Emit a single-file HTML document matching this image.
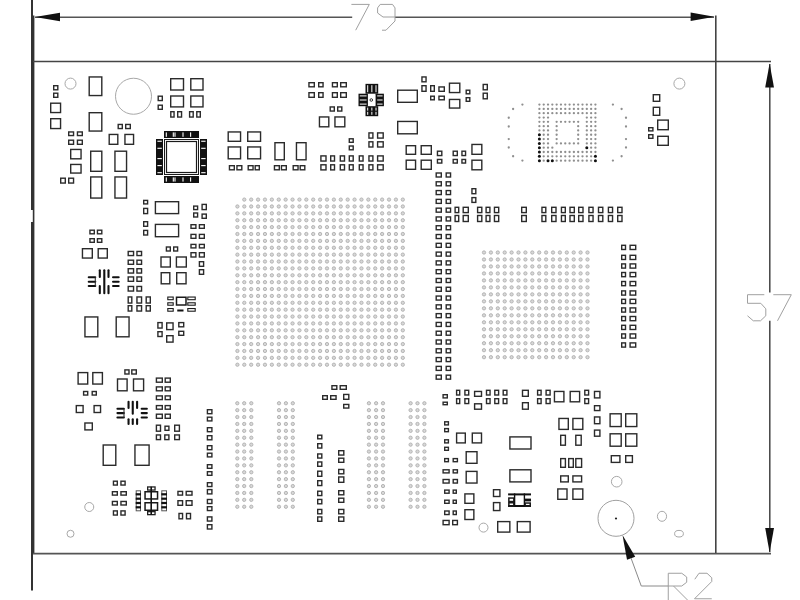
<!DOCTYPE html>
<html><head><meta charset="utf-8"><style>
html,body{margin:0;padding:0;background:#fff;width:800px;height:600px;overflow:hidden;}
svg{display:block;}
</style></head><body><div id="wrap">
<svg width="800" height="600" viewBox="0 0 800 600">
<rect x="0" y="0" width="800" height="600" fill="#fff"/>
<line x1="32" y1="0" x2="32" y2="210" stroke="#333" stroke-width="2" stroke-linecap="butt"/>
<line x1="32" y1="222" x2="32" y2="590.5" stroke="#333" stroke-width="2" stroke-linecap="butt"/>
<line x1="33.6" y1="15.5" x2="33.6" y2="553" stroke="#333" stroke-width="1.6" stroke-linecap="butt"/>
<line x1="33" y1="61.5" x2="771" y2="61.5" stroke="#444" stroke-width="1.6" stroke-linecap="butt"/>
<line x1="33" y1="553.6" x2="771" y2="553.6" stroke="#555" stroke-width="1.8" stroke-linecap="butt"/>
<line x1="715.8" y1="15.5" x2="715.8" y2="553" stroke="#444" stroke-width="1.6" stroke-linecap="butt"/>
<line x1="35" y1="17.2" x2="352.2" y2="17.2" stroke="#555" stroke-width="1.5" stroke-linecap="butt"/>
<line x1="395" y1="17.2" x2="714" y2="17.2" stroke="#555" stroke-width="1.5" stroke-linecap="butt"/>
<polygon points="35,17 60,12.8 60,21.2" fill="#111"/>
<polygon points="714.5,16.8 690.6,12.6 690.6,21" fill="#111"/>
<line x1="769.8" y1="64" x2="769.8" y2="292.5" stroke="#444" stroke-width="1.5" stroke-linecap="butt"/>
<line x1="769.8" y1="320.8" x2="769.8" y2="552" stroke="#444" stroke-width="1.5" stroke-linecap="butt"/>
<polygon points="769.6,63.5 765.2,87.5 774,87.5" fill="#111"/>
<polygon points="769.6,552.5 765.2,528 774,528" fill="#111"/>
<path d="M351.4,4.4 L369.3,4.4 L355.7,30.2" fill="none" stroke="#a0a0a0" stroke-width="1" stroke-linejoin="round"/>
<path d="M380.2,4.4 L392.5,4.4 L395,7.9 L395,21 L386,30.2 L382,30.2 M395,17 L383,17 L377.6,13 L377.6,7.9 L380.2,4.4" fill="none" stroke="#a0a0a0" stroke-width="1" stroke-linejoin="round"/>
<path d="M764.3,294.7 L747.5,294.7 L747.5,303.3 L760.8,303.3 L765.8,308.8 L765.8,315.8 L760.5,320.8 L753.3,320.8 L747.5,315.8" fill="none" stroke="#a0a0a0" stroke-width="1" stroke-linejoin="round"/>
<path d="M773.3,294.7 L791.3,294.7 L777.5,320.8" fill="none" stroke="#a0a0a0" stroke-width="1" stroke-linejoin="round"/>
<path d="M668.25,601 L668.25,573.25 L681.75,573.25 L686.7,577 L686.7,582.25 L681.75,586 L668.25,586 M673.5,586 L687.5,600" fill="none" stroke="#a0a0a0" stroke-width="1" stroke-linejoin="round"/>
<path d="M694.8,579.25 L699,573.25 L707,573.25 L711.75,577.75 L711.75,581.5 L694.5,598.75 L711.75,598.75" fill="none" stroke="#a0a0a0" stroke-width="1" stroke-linejoin="round"/>
<polygon points="622.5,535 627,559.7 635.2,556.75" fill="#111"/>
<path d="M631,558 L641.25,586 L668.25,586" fill="none" stroke="#8a8a8a" stroke-width="1" stroke-linejoin="round"/>
<circle cx="70.5" cy="83.6" r="5.5" fill="none" stroke="#a8a8a8" stroke-width="1"/>
<circle cx="133.5" cy="96.25" r="18" fill="none" stroke="#a8a8a8" stroke-width="1"/>
<circle cx="679.4" cy="83.6" r="5.5" fill="none" stroke="#a8a8a8" stroke-width="1"/>
<circle cx="616" cy="518.3" r="18" fill="none" stroke="#a0a0a0" stroke-width="1"/>
<circle cx="616" cy="518.5" r="1.1" fill="#222" stroke="none" stroke-width="0"/>
<circle cx="616.7" cy="481.7" r="5.3" fill="none" stroke="#a8a8a8" stroke-width="1"/>
<ellipse cx="662" cy="516.3" rx="4.6" ry="5" fill="none" stroke="#a8a8a8" stroke-width="1"/>
<ellipse cx="679" cy="533.7" rx="4.4" ry="3.3" fill="none" stroke="#a8a8a8" stroke-width="1"/>
<circle cx="89.25" cy="507" r="4.5" fill="none" stroke="#a8a8a8" stroke-width="1"/>
<circle cx="70.5" cy="533.75" r="3.5" fill="none" stroke="#a8a8a8" stroke-width="1"/>
<circle cx="483.5" cy="527.6" r="4.5" fill="none" stroke="#a8a8a8" stroke-width="1"/>
<rect x="53.7" y="85.7" width="4.1" height="4.1" fill="none" stroke="#2b2b2b" stroke-width="1.4"/>
<rect x="53.7" y="93.2" width="4.1" height="4.1" fill="none" stroke="#2b2b2b" stroke-width="1.4"/>
<rect x="50.7" y="103.2" width="9.85" height="9.35" fill="none" stroke="#2b2b2b" stroke-width="1.4"/>
<rect x="50.7" y="118.7" width="9.85" height="9.85" fill="none" stroke="#2b2b2b" stroke-width="1.4"/>
<rect x="89.2" y="76.95" width="12.6" height="18.6" fill="none" stroke="#2b2b2b" stroke-width="1.4"/>
<rect x="89.2" y="112.7" width="12.6" height="18.35" fill="none" stroke="#2b2b2b" stroke-width="1.4"/>
<rect x="158.2" y="96.2" width="4.1" height="4.35" fill="none" stroke="#2b2b2b" stroke-width="1.4"/>
<rect x="158.2" y="105.2" width="4.1" height="4.1" fill="none" stroke="#2b2b2b" stroke-width="1.4"/>
<rect x="170.7" y="78.7" width="12.8" height="11.3" fill="none" stroke="#2b2b2b" stroke-width="1.4"/>
<rect x="170.7" y="96" width="12.8" height="10.9" fill="none" stroke="#2b2b2b" stroke-width="1.4"/>
<rect x="190.8" y="78.7" width="12.2" height="11.3" fill="none" stroke="#2b2b2b" stroke-width="1.4"/>
<rect x="190.8" y="96" width="12.2" height="10.9" fill="none" stroke="#2b2b2b" stroke-width="1.4"/>
<rect x="170.8" y="111.7" width="3.25" height="5.35" fill="none" stroke="#2b2b2b" stroke-width="1.4"/>
<rect x="177.7" y="111.7" width="3.85" height="5.35" fill="none" stroke="#2b2b2b" stroke-width="1.4"/>
<rect x="189.6" y="111.7" width="3.6" height="5.35" fill="none" stroke="#2b2b2b" stroke-width="1.4"/>
<rect x="196.8" y="111.7" width="3.5" height="5.35" fill="none" stroke="#2b2b2b" stroke-width="1.4"/>
<rect x="118.2" y="124.45" width="4.1" height="4.1" fill="none" stroke="#2b2b2b" stroke-width="1.4"/>
<rect x="125.7" y="124.45" width="4.6" height="4.1" fill="none" stroke="#2b2b2b" stroke-width="1.4"/>
<rect x="109.2" y="134.45" width="8.6" height="9.85" fill="none" stroke="#2b2b2b" stroke-width="1.4"/>
<rect x="124.95" y="134.45" width="8.6" height="9.85" fill="none" stroke="#2b2b2b" stroke-width="1.4"/>
<rect x="68.7" y="131.95" width="4.85" height="3.6" fill="none" stroke="#2b2b2b" stroke-width="1.4"/>
<rect x="68.7" y="140.2" width="4.85" height="4.1" fill="none" stroke="#2b2b2b" stroke-width="1.4"/>
<rect x="77.45" y="131.95" width="4.85" height="3.6" fill="none" stroke="#2b2b2b" stroke-width="1.4"/>
<rect x="77.45" y="140.2" width="4.85" height="4.1" fill="none" stroke="#2b2b2b" stroke-width="1.4"/>
<rect x="70.7" y="149.45" width="10.35" height="9.35" fill="none" stroke="#2b2b2b" stroke-width="1.4"/>
<rect x="70.7" y="164.45" width="10.35" height="8.6" fill="none" stroke="#2b2b2b" stroke-width="1.4"/>
<rect x="60.7" y="178.2" width="4.6" height="4.85" fill="none" stroke="#2b2b2b" stroke-width="1.4"/>
<rect x="68.7" y="178.2" width="4.85" height="4.85" fill="none" stroke="#2b2b2b" stroke-width="1.4"/>
<rect x="90.7" y="151.2" width="11.1" height="20.1" fill="none" stroke="#2b2b2b" stroke-width="1.4"/>
<rect x="90.7" y="176.95" width="11.1" height="21.1" fill="none" stroke="#2b2b2b" stroke-width="1.4"/>
<rect x="114.95" y="151.2" width="11.6" height="20.1" fill="none" stroke="#2b2b2b" stroke-width="1.4"/>
<rect x="114.95" y="176.95" width="11.6" height="21.1" fill="none" stroke="#2b2b2b" stroke-width="1.4"/>
<rect x="164" y="131" width="35" height="7" fill="#111"/>
<rect x="164" y="176" width="35" height="7" fill="#111"/>
<rect x="156" y="139" width="7" height="36" fill="#111"/>
<rect x="200" y="139" width="7" height="36" fill="#111"/>
<rect x="165.75" y="132.4" width="1.1" height="4.4" fill="#fff"/>
<rect x="165.75" y="177.4" width="1.1" height="4.2" fill="#fff"/>
<rect x="172.75" y="132.4" width="1.1" height="4.4" fill="#fff"/>
<rect x="172.75" y="177.4" width="1.1" height="4.2" fill="#fff"/>
<rect x="174.45" y="132.4" width="1.1" height="4.4" fill="#fff"/>
<rect x="174.45" y="177.4" width="1.1" height="4.2" fill="#fff"/>
<rect x="182.45" y="132.4" width="1.1" height="4.4" fill="#fff"/>
<rect x="182.45" y="177.4" width="1.1" height="4.2" fill="#fff"/>
<rect x="190.05" y="132.4" width="1.1" height="4.4" fill="#fff"/>
<rect x="190.05" y="177.4" width="1.1" height="4.2" fill="#fff"/>
<rect x="157.4" y="140.7" width="4.4" height="1.1" fill="#fff"/>
<rect x="201.2" y="140.7" width="4.4" height="1.1" fill="#fff"/>
<rect x="157.4" y="147.75" width="4.4" height="1.1" fill="#fff"/>
<rect x="201.2" y="147.75" width="4.4" height="1.1" fill="#fff"/>
<rect x="157.4" y="158.05" width="4.4" height="1.1" fill="#fff"/>
<rect x="201.2" y="158.05" width="4.4" height="1.1" fill="#fff"/>
<rect x="157.4" y="165.05" width="4.4" height="1.1" fill="#fff"/>
<rect x="201.2" y="165.05" width="4.4" height="1.1" fill="#fff"/>
<rect x="157.4" y="172.15" width="4.4" height="1.1" fill="#fff"/>
<rect x="201.2" y="172.15" width="4.4" height="1.1" fill="#fff"/>
<rect x="164.5" y="139.5" width="34" height="35" fill="none" stroke="#1a1a1a" stroke-width="1"/>
<rect x="166.5" y="141.5" width="30" height="31" fill="none" stroke="#1a1a1a" stroke-width="1.2"/>
<rect x="228.2" y="131.95" width="12.35" height="9.35" fill="none" stroke="#2b2b2b" stroke-width="1.4"/>
<rect x="228.2" y="146.95" width="12.35" height="11.85" fill="none" stroke="#2b2b2b" stroke-width="1.4"/>
<rect x="247.7" y="131.95" width="12.85" height="9.35" fill="none" stroke="#2b2b2b" stroke-width="1.4"/>
<rect x="247.7" y="146.95" width="12.85" height="11.85" fill="none" stroke="#2b2b2b" stroke-width="1.4"/>
<rect x="229.45" y="165.7" width="4.85" height="4.1" fill="none" stroke="#2b2b2b" stroke-width="1.4"/>
<rect x="236.95" y="165.7" width="4.85" height="4.1" fill="none" stroke="#2b2b2b" stroke-width="1.4"/>
<rect x="248.2" y="165.7" width="4.85" height="4.1" fill="none" stroke="#2b2b2b" stroke-width="1.4"/>
<rect x="255.2" y="165.7" width="4.1" height="4.1" fill="none" stroke="#2b2b2b" stroke-width="1.4"/>
<rect x="274.95" y="142.7" width="9.35" height="17.1" fill="none" stroke="#2b2b2b" stroke-width="1.4"/>
<rect x="296.45" y="142.7" width="9.6" height="17.1" fill="none" stroke="#2b2b2b" stroke-width="1.4"/>
<rect x="274.45" y="165.7" width="4.85" height="4.1" fill="none" stroke="#2b2b2b" stroke-width="1.4"/>
<rect x="281.45" y="165.7" width="4.85" height="4.1" fill="none" stroke="#2b2b2b" stroke-width="1.4"/>
<rect x="293.2" y="165.7" width="4.85" height="4.1" fill="none" stroke="#2b2b2b" stroke-width="1.4"/>
<rect x="300.2" y="165.7" width="4.6" height="4.1" fill="none" stroke="#2b2b2b" stroke-width="1.4"/>
<rect x="308.95" y="82.7" width="5.35" height="4.1" fill="none" stroke="#2b2b2b" stroke-width="1.4"/>
<rect x="308.95" y="92.7" width="5.35" height="4.6" fill="none" stroke="#2b2b2b" stroke-width="1.4"/>
<rect x="318.7" y="82.7" width="4.35" height="4.1" fill="none" stroke="#2b2b2b" stroke-width="1.4"/>
<rect x="318.7" y="92.7" width="4.35" height="4.6" fill="none" stroke="#2b2b2b" stroke-width="1.4"/>
<rect x="332.45" y="82.7" width="4.85" height="4.1" fill="none" stroke="#2b2b2b" stroke-width="1.4"/>
<rect x="332.45" y="92.7" width="4.85" height="4.6" fill="none" stroke="#2b2b2b" stroke-width="1.4"/>
<rect x="340.7" y="82.7" width="5.6" height="4.1" fill="none" stroke="#2b2b2b" stroke-width="1.4"/>
<rect x="340.7" y="92.7" width="5.6" height="4.6" fill="none" stroke="#2b2b2b" stroke-width="1.4"/>
<rect x="330.2" y="106.95" width="4.1" height="4.1" fill="none" stroke="#2b2b2b" stroke-width="1.4"/>
<rect x="337.7" y="106.95" width="4.1" height="4.1" fill="none" stroke="#2b2b2b" stroke-width="1.4"/>
<rect x="319.45" y="116.95" width="9.35" height="9.85" fill="none" stroke="#2b2b2b" stroke-width="1.4"/>
<rect x="334.95" y="116.95" width="9.85" height="9.85" fill="none" stroke="#2b2b2b" stroke-width="1.4"/>
<rect x="320.9" y="155.9" width="5.1" height="5.15" fill="none" stroke="#2b2b2b" stroke-width="1.4"/>
<rect x="320.9" y="164.8" width="5.1" height="5.1" fill="none" stroke="#2b2b2b" stroke-width="1.4"/>
<rect x="330.7" y="155.9" width="3.8" height="5.15" fill="none" stroke="#2b2b2b" stroke-width="1.4"/>
<rect x="330.7" y="164.8" width="3.8" height="5.1" fill="none" stroke="#2b2b2b" stroke-width="1.4"/>
<rect x="340.3" y="155.9" width="4.2" height="5.15" fill="none" stroke="#2b2b2b" stroke-width="1.4"/>
<rect x="340.3" y="164.8" width="4.2" height="5.1" fill="none" stroke="#2b2b2b" stroke-width="1.4"/>
<rect x="349.3" y="155.9" width="3.9" height="5.15" fill="none" stroke="#2b2b2b" stroke-width="1.4"/>
<rect x="349.3" y="164.8" width="3.9" height="5.1" fill="none" stroke="#2b2b2b" stroke-width="1.4"/>
<rect x="359.3" y="155.9" width="3.75" height="5.15" fill="none" stroke="#2b2b2b" stroke-width="1.4"/>
<rect x="359.3" y="164.8" width="3.75" height="5.1" fill="none" stroke="#2b2b2b" stroke-width="1.4"/>
<rect x="368.95" y="155.9" width="3.95" height="5.15" fill="none" stroke="#2b2b2b" stroke-width="1.4"/>
<rect x="368.95" y="164.8" width="3.95" height="5.1" fill="none" stroke="#2b2b2b" stroke-width="1.4"/>
<rect x="377.6" y="155.9" width="5.6" height="5.15" fill="none" stroke="#2b2b2b" stroke-width="1.4"/>
<rect x="377.6" y="164.8" width="5.6" height="5.1" fill="none" stroke="#2b2b2b" stroke-width="1.4"/>
<rect x="349.3" y="138.8" width="3.9" height="3.5" fill="none" stroke="#2b2b2b" stroke-width="1.4"/>
<rect x="349.3" y="146" width="3.9" height="3.8" fill="none" stroke="#2b2b2b" stroke-width="1.4"/>
<rect x="368.95" y="132.9" width="3.95" height="5.2" fill="none" stroke="#2b2b2b" stroke-width="1.4"/>
<rect x="368.95" y="141.8" width="3.95" height="5.2" fill="none" stroke="#2b2b2b" stroke-width="1.4"/>
<rect x="377.6" y="132.9" width="5.6" height="5.2" fill="none" stroke="#2b2b2b" stroke-width="1.4"/>
<rect x="377.6" y="141.8" width="5.6" height="5.2" fill="none" stroke="#2b2b2b" stroke-width="1.4"/>
<rect x="365.5" y="83.85" width="12.7" height="9.85" fill="#111"/>
<rect x="365.5" y="106.2" width="12.7" height="10" fill="#111"/>
<rect x="358.5" y="93.7" width="9.4" height="12.5" fill="#111"/>
<rect x="375.5" y="93.7" width="8.4" height="12.5" fill="#111"/>
<rect x="367.2" y="85.2" width="1" height="7" fill="#fff"/>
<rect x="367.2" y="107.6" width="1" height="3" fill="#fff"/>
<rect x="367.2" y="111.8" width="1" height="3" fill="#fff"/>
<rect x="371.35" y="85.2" width="1" height="7" fill="#fff"/>
<rect x="371.35" y="107.6" width="1" height="3" fill="#fff"/>
<rect x="371.35" y="111.8" width="1" height="3" fill="#fff"/>
<rect x="375.5" y="85.2" width="1" height="7" fill="#fff"/>
<rect x="375.5" y="107.6" width="1" height="3" fill="#fff"/>
<rect x="375.5" y="111.8" width="1" height="3" fill="#fff"/>
<rect x="359.8" y="95.4" width="6.8" height="1" fill="#fff"/>
<rect x="377.2" y="95.4" width="5.4" height="1" fill="#fff"/>
<rect x="359.8" y="99.5" width="6.8" height="1" fill="#fff"/>
<rect x="377.2" y="99.5" width="5.4" height="1" fill="#fff"/>
<rect x="359.8" y="103.6" width="6.8" height="1" fill="#fff"/>
<rect x="377.2" y="103.6" width="5.4" height="1" fill="#fff"/>
<rect x="368.2" y="94.8" width="7" height="10.4" fill="#fff"/>
<circle cx="371.3" cy="100" r="1.3" fill="none" stroke="#222" stroke-width="0.9"/>
<rect x="397.7" y="90.2" width="19.6" height="12.1" fill="none" stroke="#2b2b2b" stroke-width="1.4"/>
<rect x="397.7" y="121.45" width="19.6" height="12.35" fill="none" stroke="#2b2b2b" stroke-width="1.4"/>
<rect x="421.95" y="76.95" width="4.1" height="4.85" fill="none" stroke="#2b2b2b" stroke-width="1.4"/>
<rect x="421.95" y="85.7" width="4.1" height="5.6" fill="none" stroke="#2b2b2b" stroke-width="1.4"/>
<rect x="430.7" y="85.7" width="3.6" height="5.6" fill="none" stroke="#2b2b2b" stroke-width="1.4"/>
<rect x="430.7" y="96.2" width="3.6" height="3.6" fill="none" stroke="#2b2b2b" stroke-width="1.4"/>
<rect x="438.95" y="86.95" width="5.35" height="4.35" fill="none" stroke="#2b2b2b" stroke-width="1.4"/>
<rect x="438.95" y="96.2" width="5.35" height="3.6" fill="none" stroke="#2b2b2b" stroke-width="1.4"/>
<rect x="449.45" y="83.2" width="10.35" height="9.35" fill="none" stroke="#2b2b2b" stroke-width="1.4"/>
<rect x="449.45" y="99.45" width="10.35" height="8.6" fill="none" stroke="#2b2b2b" stroke-width="1.4"/>
<rect x="466.2" y="90.2" width="3.6" height="3.6" fill="none" stroke="#2b2b2b" stroke-width="1.4"/>
<rect x="466.2" y="97.7" width="3.6" height="3.6" fill="none" stroke="#2b2b2b" stroke-width="1.4"/>
<rect x="483.2" y="84.45" width="4.1" height="5.35" fill="none" stroke="#2b2b2b" stroke-width="1.4"/>
<rect x="483.2" y="93.2" width="4.1" height="5.6" fill="none" stroke="#2b2b2b" stroke-width="1.4"/>
<rect x="406.2" y="145.7" width="9.35" height="8.6" fill="none" stroke="#2b2b2b" stroke-width="1.4"/>
<rect x="406.2" y="160.2" width="9.35" height="9.1" fill="none" stroke="#2b2b2b" stroke-width="1.4"/>
<rect x="421.2" y="145.7" width="10.1" height="8.6" fill="none" stroke="#2b2b2b" stroke-width="1.4"/>
<rect x="421.2" y="160.2" width="10.1" height="9.1" fill="none" stroke="#2b2b2b" stroke-width="1.4"/>
<rect x="437.45" y="151.2" width="4.35" height="4.35" fill="none" stroke="#2b2b2b" stroke-width="1.4"/>
<rect x="437.45" y="159.45" width="4.35" height="3.6" fill="none" stroke="#2b2b2b" stroke-width="1.4"/>
<rect x="453.2" y="151.2" width="4.1" height="4.35" fill="none" stroke="#2b2b2b" stroke-width="1.4"/>
<rect x="453.2" y="159.45" width="4.1" height="3.6" fill="none" stroke="#2b2b2b" stroke-width="1.4"/>
<rect x="461.95" y="151.2" width="3.6" height="4.35" fill="none" stroke="#2b2b2b" stroke-width="1.4"/>
<rect x="461.95" y="159.45" width="3.6" height="3.6" fill="none" stroke="#2b2b2b" stroke-width="1.4"/>
<rect x="471.95" y="144.45" width="9.85" height="9.85" fill="none" stroke="#2b2b2b" stroke-width="1.4"/>
<rect x="471.95" y="160.2" width="9.85" height="9.6" fill="none" stroke="#2b2b2b" stroke-width="1.4"/>
<rect x="436.2" y="173" width="5.1" height="4" fill="none" stroke="#2b2b2b" stroke-width="1.4"/>
<rect x="446.2" y="173" width="4.35" height="4" fill="none" stroke="#2b2b2b" stroke-width="1.4"/>
<rect x="436.2" y="181.79" width="5.1" height="4" fill="none" stroke="#2b2b2b" stroke-width="1.4"/>
<rect x="446.2" y="181.79" width="4.35" height="4" fill="none" stroke="#2b2b2b" stroke-width="1.4"/>
<rect x="436.2" y="190.58" width="5.1" height="4" fill="none" stroke="#2b2b2b" stroke-width="1.4"/>
<rect x="446.2" y="190.58" width="4.35" height="4" fill="none" stroke="#2b2b2b" stroke-width="1.4"/>
<rect x="436.2" y="199.37" width="5.1" height="4" fill="none" stroke="#2b2b2b" stroke-width="1.4"/>
<rect x="446.2" y="199.37" width="4.35" height="4" fill="none" stroke="#2b2b2b" stroke-width="1.4"/>
<rect x="436.2" y="208.16" width="5.1" height="4" fill="none" stroke="#2b2b2b" stroke-width="1.4"/>
<rect x="446.2" y="208.16" width="4.35" height="4" fill="none" stroke="#2b2b2b" stroke-width="1.4"/>
<rect x="436.2" y="216.95" width="5.1" height="4" fill="none" stroke="#2b2b2b" stroke-width="1.4"/>
<rect x="446.2" y="216.95" width="4.35" height="4" fill="none" stroke="#2b2b2b" stroke-width="1.4"/>
<rect x="436.2" y="225.74" width="5.1" height="4" fill="none" stroke="#2b2b2b" stroke-width="1.4"/>
<rect x="446.2" y="225.74" width="4.35" height="4" fill="none" stroke="#2b2b2b" stroke-width="1.4"/>
<rect x="436.2" y="234.53" width="5.1" height="4" fill="none" stroke="#2b2b2b" stroke-width="1.4"/>
<rect x="446.2" y="234.53" width="4.35" height="4" fill="none" stroke="#2b2b2b" stroke-width="1.4"/>
<rect x="436.2" y="243.32" width="5.1" height="4" fill="none" stroke="#2b2b2b" stroke-width="1.4"/>
<rect x="446.2" y="243.32" width="4.35" height="4" fill="none" stroke="#2b2b2b" stroke-width="1.4"/>
<rect x="436.2" y="252.11" width="5.1" height="4" fill="none" stroke="#2b2b2b" stroke-width="1.4"/>
<rect x="446.2" y="252.11" width="4.35" height="4" fill="none" stroke="#2b2b2b" stroke-width="1.4"/>
<rect x="436.2" y="260.9" width="5.1" height="4" fill="none" stroke="#2b2b2b" stroke-width="1.4"/>
<rect x="446.2" y="260.9" width="4.35" height="4" fill="none" stroke="#2b2b2b" stroke-width="1.4"/>
<rect x="436.2" y="269.69" width="5.1" height="4" fill="none" stroke="#2b2b2b" stroke-width="1.4"/>
<rect x="446.2" y="269.69" width="4.35" height="4" fill="none" stroke="#2b2b2b" stroke-width="1.4"/>
<rect x="436.2" y="278.48" width="5.1" height="4" fill="none" stroke="#2b2b2b" stroke-width="1.4"/>
<rect x="446.2" y="278.48" width="4.35" height="4" fill="none" stroke="#2b2b2b" stroke-width="1.4"/>
<rect x="436.2" y="287.27" width="5.1" height="4" fill="none" stroke="#2b2b2b" stroke-width="1.4"/>
<rect x="446.2" y="287.27" width="4.35" height="4" fill="none" stroke="#2b2b2b" stroke-width="1.4"/>
<rect x="436.2" y="296.06" width="5.1" height="4" fill="none" stroke="#2b2b2b" stroke-width="1.4"/>
<rect x="446.2" y="296.06" width="4.35" height="4" fill="none" stroke="#2b2b2b" stroke-width="1.4"/>
<rect x="436.2" y="304.85" width="5.1" height="4" fill="none" stroke="#2b2b2b" stroke-width="1.4"/>
<rect x="446.2" y="304.85" width="4.35" height="4" fill="none" stroke="#2b2b2b" stroke-width="1.4"/>
<rect x="436.2" y="313.64" width="5.1" height="4" fill="none" stroke="#2b2b2b" stroke-width="1.4"/>
<rect x="446.2" y="313.64" width="4.35" height="4" fill="none" stroke="#2b2b2b" stroke-width="1.4"/>
<rect x="436.2" y="322.43" width="5.1" height="4" fill="none" stroke="#2b2b2b" stroke-width="1.4"/>
<rect x="446.2" y="322.43" width="4.35" height="4" fill="none" stroke="#2b2b2b" stroke-width="1.4"/>
<rect x="436.2" y="331.22" width="5.1" height="4" fill="none" stroke="#2b2b2b" stroke-width="1.4"/>
<rect x="446.2" y="331.22" width="4.35" height="4" fill="none" stroke="#2b2b2b" stroke-width="1.4"/>
<rect x="436.2" y="340.01" width="5.1" height="4" fill="none" stroke="#2b2b2b" stroke-width="1.4"/>
<rect x="446.2" y="340.01" width="4.35" height="4" fill="none" stroke="#2b2b2b" stroke-width="1.4"/>
<rect x="436.2" y="348.8" width="5.1" height="4" fill="none" stroke="#2b2b2b" stroke-width="1.4"/>
<rect x="446.2" y="348.8" width="4.35" height="4" fill="none" stroke="#2b2b2b" stroke-width="1.4"/>
<rect x="436.2" y="357.59" width="5.1" height="4" fill="none" stroke="#2b2b2b" stroke-width="1.4"/>
<rect x="446.2" y="357.59" width="4.35" height="4" fill="none" stroke="#2b2b2b" stroke-width="1.4"/>
<rect x="436.2" y="366.38" width="5.1" height="4" fill="none" stroke="#2b2b2b" stroke-width="1.4"/>
<rect x="446.2" y="366.38" width="4.35" height="4" fill="none" stroke="#2b2b2b" stroke-width="1.4"/>
<rect x="436.2" y="375.17" width="5.1" height="4" fill="none" stroke="#2b2b2b" stroke-width="1.4"/>
<rect x="446.2" y="375.17" width="4.35" height="4" fill="none" stroke="#2b2b2b" stroke-width="1.4"/>
<rect x="471.95" y="188.7" width="3.85" height="5" fill="none" stroke="#2b2b2b" stroke-width="1.4"/>
<rect x="471.95" y="197.6" width="3.85" height="4.8" fill="none" stroke="#2b2b2b" stroke-width="1.4"/>
<rect x="455.1" y="207.3" width="3.6" height="5.3" fill="none" stroke="#2b2b2b" stroke-width="1.4"/>
<rect x="455.1" y="215.5" width="3.6" height="6" fill="none" stroke="#2b2b2b" stroke-width="1.4"/>
<rect x="463.2" y="207.3" width="5.1" height="5.3" fill="none" stroke="#2b2b2b" stroke-width="1.4"/>
<rect x="463.2" y="215.5" width="5.1" height="6" fill="none" stroke="#2b2b2b" stroke-width="1.4"/>
<rect x="477.6" y="207.3" width="4.2" height="5.3" fill="none" stroke="#2b2b2b" stroke-width="1.4"/>
<rect x="477.6" y="215.5" width="4.2" height="6" fill="none" stroke="#2b2b2b" stroke-width="1.4"/>
<rect x="486.1" y="207.3" width="3.8" height="5.3" fill="none" stroke="#2b2b2b" stroke-width="1.4"/>
<rect x="486.1" y="215.5" width="3.8" height="6" fill="none" stroke="#2b2b2b" stroke-width="1.4"/>
<rect x="494.45" y="207.3" width="4.25" height="5.3" fill="none" stroke="#2b2b2b" stroke-width="1.4"/>
<rect x="494.45" y="215.5" width="4.25" height="6" fill="none" stroke="#2b2b2b" stroke-width="1.4"/>
<rect x="521.7" y="207.3" width="4.6" height="5.3" fill="none" stroke="#2b2b2b" stroke-width="1.4"/>
<rect x="521.7" y="215.5" width="4.6" height="6" fill="none" stroke="#2b2b2b" stroke-width="1.4"/>
<rect x="541.95" y="207.3" width="3.85" height="5.3" fill="none" stroke="#2b2b2b" stroke-width="1.4"/>
<rect x="541.95" y="215.5" width="3.85" height="6" fill="none" stroke="#2b2b2b" stroke-width="1.4"/>
<rect x="551.7" y="207.3" width="4.3" height="5.3" fill="none" stroke="#2b2b2b" stroke-width="1.4"/>
<rect x="551.7" y="215.5" width="4.3" height="6" fill="none" stroke="#2b2b2b" stroke-width="1.4"/>
<rect x="561.45" y="207.3" width="3.85" height="5.3" fill="none" stroke="#2b2b2b" stroke-width="1.4"/>
<rect x="561.45" y="215.5" width="3.85" height="6" fill="none" stroke="#2b2b2b" stroke-width="1.4"/>
<rect x="570" y="207.3" width="4.3" height="5.3" fill="none" stroke="#2b2b2b" stroke-width="1.4"/>
<rect x="570" y="215.5" width="4.3" height="6" fill="none" stroke="#2b2b2b" stroke-width="1.4"/>
<rect x="578.7" y="207.3" width="4.3" height="5.3" fill="none" stroke="#2b2b2b" stroke-width="1.4"/>
<rect x="578.7" y="215.5" width="4.3" height="6" fill="none" stroke="#2b2b2b" stroke-width="1.4"/>
<rect x="588.9" y="207.3" width="4.15" height="5.3" fill="none" stroke="#2b2b2b" stroke-width="1.4"/>
<rect x="588.9" y="215.5" width="4.15" height="6" fill="none" stroke="#2b2b2b" stroke-width="1.4"/>
<rect x="598.5" y="207.3" width="4.3" height="5.3" fill="none" stroke="#2b2b2b" stroke-width="1.4"/>
<rect x="598.5" y="215.5" width="4.3" height="6" fill="none" stroke="#2b2b2b" stroke-width="1.4"/>
<rect x="608.4" y="207.3" width="4.15" height="5.3" fill="none" stroke="#2b2b2b" stroke-width="1.4"/>
<rect x="608.4" y="215.5" width="4.15" height="6" fill="none" stroke="#2b2b2b" stroke-width="1.4"/>
<rect x="617.7" y="207.3" width="4.3" height="5.3" fill="none" stroke="#2b2b2b" stroke-width="1.4"/>
<rect x="617.7" y="215.5" width="4.3" height="6" fill="none" stroke="#2b2b2b" stroke-width="1.4"/>
<rect x="653.3" y="94.7" width="6.4" height="6.6" fill="none" stroke="#2b2b2b" stroke-width="1.4"/>
<rect x="653.3" y="107.3" width="6.4" height="8" fill="none" stroke="#2b2b2b" stroke-width="1.4"/>
<rect x="648.7" y="127.7" width="4.2" height="3.2" fill="none" stroke="#2b2b2b" stroke-width="1.4"/>
<rect x="648.7" y="134.7" width="4.2" height="3.6" fill="none" stroke="#2b2b2b" stroke-width="1.4"/>
<rect x="657.7" y="120.1" width="10.6" height="9.6" fill="none" stroke="#2b2b2b" stroke-width="1.4"/>
<rect x="657.7" y="136.3" width="10.6" height="9" fill="none" stroke="#2b2b2b" stroke-width="1.4"/>
<circle cx="539.4" cy="104.6" r="1.15" fill="#8f8f8f" stroke="none" stroke-width="0"/>
<circle cx="543.71" cy="104.6" r="1.15" fill="#8f8f8f" stroke="none" stroke-width="0"/>
<circle cx="548.02" cy="104.6" r="1.15" fill="#8f8f8f" stroke="none" stroke-width="0"/>
<circle cx="552.33" cy="104.6" r="1.15" fill="#8f8f8f" stroke="none" stroke-width="0"/>
<circle cx="556.64" cy="104.6" r="1.15" fill="#8f8f8f" stroke="none" stroke-width="0"/>
<circle cx="560.95" cy="104.6" r="1.15" fill="#8f8f8f" stroke="none" stroke-width="0"/>
<circle cx="565.26" cy="104.6" r="1.15" fill="#8f8f8f" stroke="none" stroke-width="0"/>
<circle cx="569.57" cy="104.6" r="1.15" fill="#8f8f8f" stroke="none" stroke-width="0"/>
<circle cx="573.88" cy="104.6" r="1.15" fill="#8f8f8f" stroke="none" stroke-width="0"/>
<circle cx="578.19" cy="104.6" r="1.15" fill="#8f8f8f" stroke="none" stroke-width="0"/>
<circle cx="582.5" cy="104.6" r="1.15" fill="#8f8f8f" stroke="none" stroke-width="0"/>
<circle cx="586.81" cy="104.6" r="1.15" fill="#8f8f8f" stroke="none" stroke-width="0"/>
<circle cx="591.12" cy="104.6" r="1.15" fill="#8f8f8f" stroke="none" stroke-width="0"/>
<circle cx="595.43" cy="104.6" r="1.15" fill="#8f8f8f" stroke="none" stroke-width="0"/>
<circle cx="539.4" cy="108.91" r="1.15" fill="#8f8f8f" stroke="none" stroke-width="0"/>
<circle cx="543.71" cy="108.91" r="1.15" fill="#8f8f8f" stroke="none" stroke-width="0"/>
<circle cx="548.02" cy="108.91" r="1.15" fill="#8f8f8f" stroke="none" stroke-width="0"/>
<circle cx="552.33" cy="108.91" r="1.15" fill="#8f8f8f" stroke="none" stroke-width="0"/>
<circle cx="556.64" cy="108.91" r="1.15" fill="#8f8f8f" stroke="none" stroke-width="0"/>
<circle cx="560.95" cy="108.91" r="1.15" fill="#8f8f8f" stroke="none" stroke-width="0"/>
<circle cx="565.26" cy="108.91" r="1.15" fill="#8f8f8f" stroke="none" stroke-width="0"/>
<circle cx="569.57" cy="108.91" r="1.15" fill="#8f8f8f" stroke="none" stroke-width="0"/>
<circle cx="573.88" cy="108.91" r="1.15" fill="#8f8f8f" stroke="none" stroke-width="0"/>
<circle cx="578.19" cy="108.91" r="1.15" fill="#8f8f8f" stroke="none" stroke-width="0"/>
<circle cx="582.5" cy="108.91" r="1.15" fill="#8f8f8f" stroke="none" stroke-width="0"/>
<circle cx="586.81" cy="108.91" r="1.15" fill="#8f8f8f" stroke="none" stroke-width="0"/>
<circle cx="591.12" cy="108.91" r="1.15" fill="#8f8f8f" stroke="none" stroke-width="0"/>
<circle cx="595.43" cy="108.91" r="1.15" fill="#8f8f8f" stroke="none" stroke-width="0"/>
<circle cx="539.4" cy="113.22" r="1.15" fill="#8f8f8f" stroke="none" stroke-width="0"/>
<circle cx="543.71" cy="113.22" r="1.15" fill="#8f8f8f" stroke="none" stroke-width="0"/>
<circle cx="548.02" cy="113.22" r="1.15" fill="#8f8f8f" stroke="none" stroke-width="0"/>
<circle cx="552.33" cy="113.22" r="1.15" fill="#8f8f8f" stroke="none" stroke-width="0"/>
<circle cx="556.64" cy="113.22" r="1.15" fill="#8f8f8f" stroke="none" stroke-width="0"/>
<circle cx="560.95" cy="113.22" r="1.15" fill="#8f8f8f" stroke="none" stroke-width="0"/>
<circle cx="565.26" cy="113.22" r="1.15" fill="#8f8f8f" stroke="none" stroke-width="0"/>
<circle cx="569.57" cy="113.22" r="1.15" fill="#8f8f8f" stroke="none" stroke-width="0"/>
<circle cx="573.88" cy="113.22" r="1.15" fill="#8f8f8f" stroke="none" stroke-width="0"/>
<circle cx="578.19" cy="113.22" r="1.15" fill="#8f8f8f" stroke="none" stroke-width="0"/>
<circle cx="582.5" cy="113.22" r="1.15" fill="#8f8f8f" stroke="none" stroke-width="0"/>
<circle cx="586.81" cy="113.22" r="1.15" fill="#8f8f8f" stroke="none" stroke-width="0"/>
<circle cx="591.12" cy="113.22" r="1.15" fill="#8f8f8f" stroke="none" stroke-width="0"/>
<circle cx="595.43" cy="113.22" r="1.15" fill="#8f8f8f" stroke="none" stroke-width="0"/>
<circle cx="539.4" cy="117.53" r="1.15" fill="#8f8f8f" stroke="none" stroke-width="0"/>
<circle cx="543.71" cy="117.53" r="1.15" fill="#8f8f8f" stroke="none" stroke-width="0"/>
<circle cx="548.02" cy="117.53" r="1.15" fill="#8f8f8f" stroke="none" stroke-width="0"/>
<circle cx="586.81" cy="117.53" r="1.15" fill="#8f8f8f" stroke="none" stroke-width="0"/>
<circle cx="591.12" cy="117.53" r="1.15" fill="#8f8f8f" stroke="none" stroke-width="0"/>
<circle cx="595.43" cy="117.53" r="1.15" fill="#8f8f8f" stroke="none" stroke-width="0"/>
<circle cx="539.4" cy="121.84" r="1.15" fill="#8f8f8f" stroke="none" stroke-width="0"/>
<circle cx="543.71" cy="121.84" r="1.15" fill="#8f8f8f" stroke="none" stroke-width="0"/>
<circle cx="548.02" cy="121.84" r="1.15" fill="#8f8f8f" stroke="none" stroke-width="0"/>
<circle cx="556.64" cy="121.84" r="1.15" fill="#8f8f8f" stroke="none" stroke-width="0"/>
<circle cx="560.95" cy="121.84" r="1.15" fill="#8f8f8f" stroke="none" stroke-width="0"/>
<circle cx="565.26" cy="121.84" r="1.15" fill="#8f8f8f" stroke="none" stroke-width="0"/>
<circle cx="569.57" cy="121.84" r="1.15" fill="#8f8f8f" stroke="none" stroke-width="0"/>
<circle cx="573.88" cy="121.84" r="1.15" fill="#8f8f8f" stroke="none" stroke-width="0"/>
<circle cx="578.19" cy="121.84" r="1.15" fill="#8f8f8f" stroke="none" stroke-width="0"/>
<circle cx="586.81" cy="121.84" r="1.15" fill="#8f8f8f" stroke="none" stroke-width="0"/>
<circle cx="591.12" cy="121.84" r="1.15" fill="#8f8f8f" stroke="none" stroke-width="0"/>
<circle cx="595.43" cy="121.84" r="1.15" fill="#8f8f8f" stroke="none" stroke-width="0"/>
<circle cx="539.4" cy="126.15" r="1.15" fill="#8f8f8f" stroke="none" stroke-width="0"/>
<circle cx="543.71" cy="126.15" r="1.15" fill="#8f8f8f" stroke="none" stroke-width="0"/>
<circle cx="548.02" cy="126.15" r="1.15" fill="#8f8f8f" stroke="none" stroke-width="0"/>
<circle cx="556.64" cy="126.15" r="1.15" fill="#8f8f8f" stroke="none" stroke-width="0"/>
<circle cx="578.19" cy="126.15" r="1.15" fill="#8f8f8f" stroke="none" stroke-width="0"/>
<circle cx="586.81" cy="126.15" r="1.15" fill="#8f8f8f" stroke="none" stroke-width="0"/>
<circle cx="591.12" cy="126.15" r="1.15" fill="#8f8f8f" stroke="none" stroke-width="0"/>
<circle cx="595.43" cy="126.15" r="1.15" fill="#8f8f8f" stroke="none" stroke-width="0"/>
<circle cx="539.4" cy="130.46" r="1.15" fill="#8f8f8f" stroke="none" stroke-width="0"/>
<circle cx="543.71" cy="130.46" r="1.15" fill="#8f8f8f" stroke="none" stroke-width="0"/>
<circle cx="548.02" cy="130.46" r="1.15" fill="#8f8f8f" stroke="none" stroke-width="0"/>
<circle cx="556.64" cy="130.46" r="1.15" fill="#8f8f8f" stroke="none" stroke-width="0"/>
<circle cx="578.19" cy="130.46" r="1.15" fill="#8f8f8f" stroke="none" stroke-width="0"/>
<circle cx="586.81" cy="130.46" r="1.15" fill="#8f8f8f" stroke="none" stroke-width="0"/>
<circle cx="591.12" cy="130.46" r="1.15" fill="#8f8f8f" stroke="none" stroke-width="0"/>
<circle cx="595.43" cy="130.46" r="1.15" fill="#8f8f8f" stroke="none" stroke-width="0"/>
<circle cx="539.4" cy="134.77" r="1.5" fill="#111" stroke="none" stroke-width="0"/>
<circle cx="543.71" cy="134.77" r="1.15" fill="#8f8f8f" stroke="none" stroke-width="0"/>
<circle cx="548.02" cy="134.77" r="1.15" fill="#8f8f8f" stroke="none" stroke-width="0"/>
<circle cx="556.64" cy="134.77" r="1.15" fill="#8f8f8f" stroke="none" stroke-width="0"/>
<circle cx="578.19" cy="134.77" r="1.15" fill="#8f8f8f" stroke="none" stroke-width="0"/>
<circle cx="586.81" cy="134.77" r="1.15" fill="#8f8f8f" stroke="none" stroke-width="0"/>
<circle cx="591.12" cy="134.77" r="1.15" fill="#8f8f8f" stroke="none" stroke-width="0"/>
<circle cx="595.43" cy="134.77" r="1.15" fill="#8f8f8f" stroke="none" stroke-width="0"/>
<circle cx="539.4" cy="139.08" r="1.5" fill="#111" stroke="none" stroke-width="0"/>
<circle cx="543.71" cy="139.08" r="1.15" fill="#8f8f8f" stroke="none" stroke-width="0"/>
<circle cx="548.02" cy="139.08" r="1.15" fill="#8f8f8f" stroke="none" stroke-width="0"/>
<circle cx="556.64" cy="139.08" r="1.15" fill="#8f8f8f" stroke="none" stroke-width="0"/>
<circle cx="578.19" cy="139.08" r="1.15" fill="#8f8f8f" stroke="none" stroke-width="0"/>
<circle cx="586.81" cy="139.08" r="1.15" fill="#8f8f8f" stroke="none" stroke-width="0"/>
<circle cx="591.12" cy="139.08" r="1.15" fill="#8f8f8f" stroke="none" stroke-width="0"/>
<circle cx="595.43" cy="139.08" r="1.15" fill="#8f8f8f" stroke="none" stroke-width="0"/>
<circle cx="539.4" cy="143.39" r="1.5" fill="#111" stroke="none" stroke-width="0"/>
<circle cx="543.71" cy="143.39" r="1.15" fill="#8f8f8f" stroke="none" stroke-width="0"/>
<circle cx="548.02" cy="143.39" r="1.15" fill="#8f8f8f" stroke="none" stroke-width="0"/>
<circle cx="556.64" cy="143.39" r="1.15" fill="#8f8f8f" stroke="none" stroke-width="0"/>
<circle cx="560.95" cy="143.39" r="1.15" fill="#8f8f8f" stroke="none" stroke-width="0"/>
<circle cx="565.26" cy="143.39" r="1.15" fill="#8f8f8f" stroke="none" stroke-width="0"/>
<circle cx="569.57" cy="143.39" r="1.15" fill="#8f8f8f" stroke="none" stroke-width="0"/>
<circle cx="573.88" cy="143.39" r="1.15" fill="#8f8f8f" stroke="none" stroke-width="0"/>
<circle cx="578.19" cy="143.39" r="1.15" fill="#8f8f8f" stroke="none" stroke-width="0"/>
<circle cx="586.81" cy="143.39" r="1.15" fill="#8f8f8f" stroke="none" stroke-width="0"/>
<circle cx="591.12" cy="143.39" r="1.15" fill="#8f8f8f" stroke="none" stroke-width="0"/>
<circle cx="595.43" cy="143.39" r="1.15" fill="#8f8f8f" stroke="none" stroke-width="0"/>
<circle cx="539.4" cy="147.7" r="1.5" fill="#111" stroke="none" stroke-width="0"/>
<circle cx="543.71" cy="147.7" r="1.15" fill="#8f8f8f" stroke="none" stroke-width="0"/>
<circle cx="548.02" cy="147.7" r="1.15" fill="#8f8f8f" stroke="none" stroke-width="0"/>
<circle cx="552.33" cy="147.7" r="1.15" fill="#8f8f8f" stroke="none" stroke-width="0"/>
<circle cx="586.81" cy="147.7" r="1.5" fill="#111" stroke="none" stroke-width="0"/>
<circle cx="591.12" cy="147.7" r="1.15" fill="#8f8f8f" stroke="none" stroke-width="0"/>
<circle cx="595.43" cy="147.7" r="1.15" fill="#8f8f8f" stroke="none" stroke-width="0"/>
<circle cx="539.4" cy="152.01" r="1.5" fill="#111" stroke="none" stroke-width="0"/>
<circle cx="543.71" cy="152.01" r="1.15" fill="#8f8f8f" stroke="none" stroke-width="0"/>
<circle cx="548.02" cy="152.01" r="1.15" fill="#8f8f8f" stroke="none" stroke-width="0"/>
<circle cx="552.33" cy="152.01" r="1.15" fill="#8f8f8f" stroke="none" stroke-width="0"/>
<circle cx="556.64" cy="152.01" r="1.15" fill="#8f8f8f" stroke="none" stroke-width="0"/>
<circle cx="560.95" cy="152.01" r="1.15" fill="#8f8f8f" stroke="none" stroke-width="0"/>
<circle cx="565.26" cy="152.01" r="1.15" fill="#8f8f8f" stroke="none" stroke-width="0"/>
<circle cx="569.57" cy="152.01" r="1.15" fill="#8f8f8f" stroke="none" stroke-width="0"/>
<circle cx="573.88" cy="152.01" r="1.15" fill="#8f8f8f" stroke="none" stroke-width="0"/>
<circle cx="578.19" cy="152.01" r="1.15" fill="#8f8f8f" stroke="none" stroke-width="0"/>
<circle cx="582.5" cy="152.01" r="1.15" fill="#8f8f8f" stroke="none" stroke-width="0"/>
<circle cx="586.81" cy="152.01" r="1.15" fill="#8f8f8f" stroke="none" stroke-width="0"/>
<circle cx="591.12" cy="152.01" r="1.15" fill="#8f8f8f" stroke="none" stroke-width="0"/>
<circle cx="595.43" cy="152.01" r="1.15" fill="#8f8f8f" stroke="none" stroke-width="0"/>
<circle cx="539.4" cy="156.32" r="1.5" fill="#111" stroke="none" stroke-width="0"/>
<circle cx="543.71" cy="156.32" r="1.15" fill="#8f8f8f" stroke="none" stroke-width="0"/>
<circle cx="548.02" cy="156.32" r="1.15" fill="#8f8f8f" stroke="none" stroke-width="0"/>
<circle cx="552.33" cy="156.32" r="1.15" fill="#8f8f8f" stroke="none" stroke-width="0"/>
<circle cx="556.64" cy="156.32" r="1.15" fill="#8f8f8f" stroke="none" stroke-width="0"/>
<circle cx="560.95" cy="156.32" r="1.15" fill="#8f8f8f" stroke="none" stroke-width="0"/>
<circle cx="565.26" cy="156.32" r="1.15" fill="#8f8f8f" stroke="none" stroke-width="0"/>
<circle cx="569.57" cy="156.32" r="1.15" fill="#8f8f8f" stroke="none" stroke-width="0"/>
<circle cx="573.88" cy="156.32" r="1.15" fill="#8f8f8f" stroke="none" stroke-width="0"/>
<circle cx="578.19" cy="156.32" r="1.15" fill="#8f8f8f" stroke="none" stroke-width="0"/>
<circle cx="582.5" cy="156.32" r="1.15" fill="#8f8f8f" stroke="none" stroke-width="0"/>
<circle cx="586.81" cy="156.32" r="1.15" fill="#8f8f8f" stroke="none" stroke-width="0"/>
<circle cx="591.12" cy="156.32" r="1.15" fill="#8f8f8f" stroke="none" stroke-width="0"/>
<circle cx="595.43" cy="156.32" r="1.5" fill="#111" stroke="none" stroke-width="0"/>
<circle cx="539.4" cy="160.63" r="1.5" fill="#111" stroke="none" stroke-width="0"/>
<circle cx="543.71" cy="160.63" r="1.15" fill="#8f8f8f" stroke="none" stroke-width="0"/>
<circle cx="548.02" cy="160.63" r="1.5" fill="#111" stroke="none" stroke-width="0"/>
<circle cx="552.33" cy="160.63" r="1.5" fill="#111" stroke="none" stroke-width="0"/>
<circle cx="556.64" cy="160.63" r="1.15" fill="#8f8f8f" stroke="none" stroke-width="0"/>
<circle cx="560.95" cy="160.63" r="1.15" fill="#8f8f8f" stroke="none" stroke-width="0"/>
<circle cx="565.26" cy="160.63" r="1.15" fill="#8f8f8f" stroke="none" stroke-width="0"/>
<circle cx="569.57" cy="160.63" r="1.15" fill="#8f8f8f" stroke="none" stroke-width="0"/>
<circle cx="573.88" cy="160.63" r="1.15" fill="#8f8f8f" stroke="none" stroke-width="0"/>
<circle cx="578.19" cy="160.63" r="1.15" fill="#8f8f8f" stroke="none" stroke-width="0"/>
<circle cx="582.5" cy="160.63" r="1.15" fill="#8f8f8f" stroke="none" stroke-width="0"/>
<circle cx="586.81" cy="160.63" r="1.15" fill="#8f8f8f" stroke="none" stroke-width="0"/>
<circle cx="591.12" cy="160.63" r="1.15" fill="#8f8f8f" stroke="none" stroke-width="0"/>
<circle cx="595.43" cy="160.63" r="1.5" fill="#111" stroke="none" stroke-width="0"/>
<circle cx="508.75" cy="117.75" r="1.15" fill="#8f8f8f" stroke="none" stroke-width="0"/>
<circle cx="508.75" cy="126.5" r="1.15" fill="#8f8f8f" stroke="none" stroke-width="0"/>
<circle cx="508.75" cy="139.1" r="1.15" fill="#8f8f8f" stroke="none" stroke-width="0"/>
<circle cx="508.75" cy="147.5" r="1.15" fill="#8f8f8f" stroke="none" stroke-width="0"/>
<circle cx="513.1" cy="109" r="1.15" fill="#8f8f8f" stroke="none" stroke-width="0"/>
<circle cx="513.1" cy="156.25" r="1.15" fill="#8f8f8f" stroke="none" stroke-width="0"/>
<circle cx="522.4" cy="104.6" r="1.15" fill="#8f8f8f" stroke="none" stroke-width="0"/>
<circle cx="522.4" cy="160.6" r="1.15" fill="#8f8f8f" stroke="none" stroke-width="0"/>
<circle cx="612.9" cy="104.6" r="1.15" fill="#8f8f8f" stroke="none" stroke-width="0"/>
<circle cx="612.9" cy="160.6" r="1.15" fill="#8f8f8f" stroke="none" stroke-width="0"/>
<circle cx="621.6" cy="109" r="1.15" fill="#8f8f8f" stroke="none" stroke-width="0"/>
<circle cx="621.6" cy="156.25" r="1.15" fill="#8f8f8f" stroke="none" stroke-width="0"/>
<circle cx="626" cy="117.75" r="1.15" fill="#8f8f8f" stroke="none" stroke-width="0"/>
<circle cx="626" cy="126.5" r="1.15" fill="#8f8f8f" stroke="none" stroke-width="0"/>
<circle cx="626" cy="139.1" r="1.15" fill="#8f8f8f" stroke="none" stroke-width="0"/>
<circle cx="626" cy="147.5" r="1.15" fill="#8f8f8f" stroke="none" stroke-width="0"/>
<rect x="143.7" y="200.4" width="3.9" height="3.5" fill="none" stroke="#2b2b2b" stroke-width="1.4"/>
<rect x="143.7" y="208.4" width="3.9" height="5.2" fill="none" stroke="#2b2b2b" stroke-width="1.4"/>
<rect x="143.7" y="221.7" width="3.9" height="4.6" fill="none" stroke="#2b2b2b" stroke-width="1.4"/>
<rect x="143.7" y="230.4" width="3.9" height="4.6" fill="none" stroke="#2b2b2b" stroke-width="1.4"/>
<rect x="155.4" y="201.7" width="23.2" height="11.9" fill="none" stroke="#2b2b2b" stroke-width="1.4"/>
<rect x="155.4" y="224.4" width="23.2" height="12.3" fill="none" stroke="#2b2b2b" stroke-width="1.4"/>
<rect x="193.7" y="206.1" width="3.9" height="3.5" fill="none" stroke="#2b2b2b" stroke-width="1.4"/>
<rect x="193.7" y="213" width="3.9" height="4" fill="none" stroke="#2b2b2b" stroke-width="1.4"/>
<rect x="202.1" y="204.4" width="4.2" height="5.2" fill="none" stroke="#2b2b2b" stroke-width="1.4"/>
<rect x="202.1" y="214.1" width="4.2" height="4.2" fill="none" stroke="#2b2b2b" stroke-width="1.4"/>
<rect x="191" y="224.7" width="4.9" height="3.6" fill="none" stroke="#2b2b2b" stroke-width="1.4"/>
<rect x="191" y="234.4" width="4.9" height="3.9" fill="none" stroke="#2b2b2b" stroke-width="1.4"/>
<rect x="191" y="244.4" width="4.9" height="3.5" fill="none" stroke="#2b2b2b" stroke-width="1.4"/>
<rect x="191" y="252.7" width="4.9" height="4.3" fill="none" stroke="#2b2b2b" stroke-width="1.4"/>
<rect x="199.4" y="224.7" width="4.9" height="3.6" fill="none" stroke="#2b2b2b" stroke-width="1.4"/>
<rect x="199.4" y="234.4" width="4.9" height="3.9" fill="none" stroke="#2b2b2b" stroke-width="1.4"/>
<rect x="199.4" y="244.4" width="4.9" height="3.5" fill="none" stroke="#2b2b2b" stroke-width="1.4"/>
<rect x="199.4" y="252.7" width="4.9" height="4.3" fill="none" stroke="#2b2b2b" stroke-width="1.4"/>
<rect x="199.4" y="261.7" width="4.2" height="4.6" fill="none" stroke="#2b2b2b" stroke-width="1.4"/>
<rect x="199.4" y="269.7" width="4.2" height="4.6" fill="none" stroke="#2b2b2b" stroke-width="1.4"/>
<rect x="166.4" y="247" width="3.9" height="4" fill="none" stroke="#2b2b2b" stroke-width="1.4"/>
<rect x="173.7" y="247" width="3.9" height="4" fill="none" stroke="#2b2b2b" stroke-width="1.4"/>
<rect x="161" y="257" width="9.3" height="10" fill="none" stroke="#2b2b2b" stroke-width="1.4"/>
<rect x="176.4" y="257" width="9.9" height="10" fill="none" stroke="#2b2b2b" stroke-width="1.4"/>
<rect x="161.2" y="272.7" width="8.6" height="11.1" fill="none" stroke="#2b2b2b" stroke-width="1.4"/>
<rect x="176.7" y="272.7" width="9.35" height="11.1" fill="none" stroke="#2b2b2b" stroke-width="1.4"/>
<rect x="89.95" y="230.2" width="4.35" height="3.6" fill="none" stroke="#2b2b2b" stroke-width="1.4"/>
<rect x="89.95" y="238.7" width="4.35" height="3.6" fill="none" stroke="#2b2b2b" stroke-width="1.4"/>
<rect x="97.45" y="230.2" width="4.35" height="3.6" fill="none" stroke="#2b2b2b" stroke-width="1.4"/>
<rect x="97.45" y="238.7" width="4.35" height="3.6" fill="none" stroke="#2b2b2b" stroke-width="1.4"/>
<rect x="82.45" y="248.7" width="9.85" height="9.35" fill="none" stroke="#2b2b2b" stroke-width="1.4"/>
<rect x="98.2" y="248.7" width="9.1" height="9.35" fill="none" stroke="#2b2b2b" stroke-width="1.4"/>
<rect x="128.2" y="251.45" width="5.35" height="4.1" fill="none" stroke="#2b2b2b" stroke-width="1.4"/>
<rect x="128.2" y="260.2" width="5.35" height="4.1" fill="none" stroke="#2b2b2b" stroke-width="1.4"/>
<rect x="128.2" y="268.7" width="5.35" height="4.35" fill="none" stroke="#2b2b2b" stroke-width="1.4"/>
<rect x="128.2" y="276.95" width="5.35" height="4.35" fill="none" stroke="#2b2b2b" stroke-width="1.4"/>
<rect x="128.2" y="286.45" width="5.35" height="4.6" fill="none" stroke="#2b2b2b" stroke-width="1.4"/>
<rect x="136.95" y="251.45" width="4.6" height="4.1" fill="none" stroke="#2b2b2b" stroke-width="1.4"/>
<rect x="136.95" y="260.2" width="4.6" height="4.1" fill="none" stroke="#2b2b2b" stroke-width="1.4"/>
<rect x="136.95" y="268.7" width="4.6" height="4.35" fill="none" stroke="#2b2b2b" stroke-width="1.4"/>
<rect x="136.95" y="276.95" width="4.6" height="4.35" fill="none" stroke="#2b2b2b" stroke-width="1.4"/>
<rect x="136.95" y="286.45" width="4.6" height="4.6" fill="none" stroke="#2b2b2b" stroke-width="1.4"/>
<rect x="128.2" y="296.95" width="3.6" height="6.1" fill="none" stroke="#2b2b2b" stroke-width="1.4"/>
<rect x="128.2" y="305.7" width="3.6" height="5.35" fill="none" stroke="#2b2b2b" stroke-width="1.4"/>
<rect x="136.95" y="296.95" width="4.6" height="6.1" fill="none" stroke="#2b2b2b" stroke-width="1.4"/>
<rect x="136.95" y="305.7" width="4.6" height="5.35" fill="none" stroke="#2b2b2b" stroke-width="1.4"/>
<rect x="146.2" y="296.95" width="4.1" height="6.1" fill="none" stroke="#2b2b2b" stroke-width="1.4"/>
<rect x="146.2" y="305.7" width="4.1" height="5.35" fill="none" stroke="#2b2b2b" stroke-width="1.4"/>
<rect x="84.95" y="316.95" width="12.85" height="19.85" fill="none" stroke="#2b2b2b" stroke-width="1.4"/>
<rect x="116.2" y="316.95" width="12.85" height="19.85" fill="none" stroke="#2b2b2b" stroke-width="1.4"/>
<rect x="157.9" y="322.6" width="4.2" height="5.45" fill="none" stroke="#2b2b2b" stroke-width="1.4"/>
<rect x="157.9" y="331.7" width="4.2" height="4.8" fill="none" stroke="#2b2b2b" stroke-width="1.4"/>
<rect x="166.7" y="322.9" width="6.35" height="6.7" fill="none" stroke="#2b2b2b" stroke-width="1.4"/>
<rect x="166.7" y="335.7" width="6.35" height="6.4" fill="none" stroke="#2b2b2b" stroke-width="1.4"/>
<rect x="178.8" y="322.6" width="4.9" height="4.2" fill="none" stroke="#2b2b2b" stroke-width="1.4"/>
<rect x="178.8" y="331.3" width="4.9" height="4" fill="none" stroke="#2b2b2b" stroke-width="1.4"/>
<line x1="99.8" y1="270.35" x2="99.8" y2="276.95" stroke="#111" stroke-width="2.1" stroke-linecap="round"/>
<line x1="99.8" y1="286.05" x2="99.8" y2="293.25" stroke="#111" stroke-width="2.1" stroke-linecap="round"/>
<line x1="108.5" y1="270.35" x2="108.5" y2="276.95" stroke="#111" stroke-width="2.1" stroke-linecap="round"/>
<line x1="108.5" y1="286.05" x2="108.5" y2="293.25" stroke="#111" stroke-width="2.1" stroke-linecap="round"/>
<line x1="104.3" y1="270.35" x2="104.3" y2="293.25" stroke="#111" stroke-width="2.1" stroke-linecap="round"/>
<line x1="88.75" y1="277.3" x2="95.25" y2="277.3" stroke="#111" stroke-width="2.1" stroke-linecap="round"/>
<line x1="113.05" y1="277.3" x2="118.65" y2="277.3" stroke="#111" stroke-width="2.1" stroke-linecap="round"/>
<line x1="88.75" y1="281.7" x2="95.25" y2="281.7" stroke="#111" stroke-width="2.1" stroke-linecap="round"/>
<line x1="113.05" y1="281.7" x2="118.65" y2="281.7" stroke="#111" stroke-width="2.1" stroke-linecap="round"/>
<line x1="88.75" y1="286" x2="95.25" y2="286" stroke="#111" stroke-width="2.1" stroke-linecap="round"/>
<line x1="113.05" y1="286" x2="118.65" y2="286" stroke="#111" stroke-width="2.1" stroke-linecap="round"/>
<line x1="95.3" y1="277.3" x2="95.3" y2="286" stroke="#333" stroke-width="1.1" stroke-linecap="butt"/>
<rect x="167.8" y="297.05" width="5.4" height="2.65" fill="none" stroke="#1a1a1a" stroke-width="1.1"/>
<rect x="187.8" y="297.05" width="7.4" height="2.65" fill="none" stroke="#1a1a1a" stroke-width="1.1"/>
<rect x="167.8" y="302.8" width="5.4" height="2.4" fill="none" stroke="#1a1a1a" stroke-width="1.1"/>
<rect x="187.8" y="302.8" width="7.4" height="2.4" fill="none" stroke="#1a1a1a" stroke-width="1.1"/>
<rect x="167.8" y="308.55" width="5.4" height="2.65" fill="none" stroke="#1a1a1a" stroke-width="1.1"/>
<rect x="187.8" y="308.55" width="7.4" height="2.65" fill="none" stroke="#1a1a1a" stroke-width="1.1"/>
<rect x="176.5" y="297.25" width="9.5" height="7.75" fill="none" stroke="#1a1a1a" stroke-width="1.5"/>
<rect x="177.25" y="309.5" width="6.25" height="2" fill="#111"/>
<rect x="78.1" y="372.6" width="9.6" height="11.45" fill="none" stroke="#2b2b2b" stroke-width="1.4"/>
<rect x="92.8" y="372.6" width="9.6" height="11.45" fill="none" stroke="#2b2b2b" stroke-width="1.4"/>
<rect x="83.6" y="391.5" width="4.1" height="3.55" fill="none" stroke="#2b2b2b" stroke-width="1.4"/>
<rect x="92.2" y="391.5" width="4.1" height="3.55" fill="none" stroke="#2b2b2b" stroke-width="1.4"/>
<rect x="76.3" y="405.6" width="6.8" height="6.9" fill="none" stroke="#2b2b2b" stroke-width="1.4"/>
<rect x="94.1" y="405.6" width="6.45" height="6.9" fill="none" stroke="#2b2b2b" stroke-width="1.4"/>
<rect x="84.9" y="423" width="7.4" height="6.9" fill="none" stroke="#2b2b2b" stroke-width="1.4"/>
<rect x="124.9" y="369.9" width="4.1" height="4.1" fill="none" stroke="#2b2b2b" stroke-width="1.4"/>
<rect x="131.8" y="369.9" width="4.5" height="4.1" fill="none" stroke="#2b2b2b" stroke-width="1.4"/>
<rect x="117.5" y="379" width="9.6" height="11.8" fill="none" stroke="#2b2b2b" stroke-width="1.4"/>
<rect x="133.5" y="379" width="10.1" height="11.8" fill="none" stroke="#2b2b2b" stroke-width="1.4"/>
<rect x="156.4" y="378.1" width="5.9" height="4.1" fill="none" stroke="#2b2b2b" stroke-width="1.4"/>
<rect x="156.4" y="386.9" width="5.9" height="3.9" fill="none" stroke="#2b2b2b" stroke-width="1.4"/>
<rect x="156.4" y="395.9" width="5.9" height="3.7" fill="none" stroke="#2b2b2b" stroke-width="1.4"/>
<rect x="156.4" y="405.6" width="5.9" height="3.6" fill="none" stroke="#2b2b2b" stroke-width="1.4"/>
<rect x="156.4" y="414.2" width="5.9" height="4.1" fill="none" stroke="#2b2b2b" stroke-width="1.4"/>
<rect x="165.2" y="378.1" width="5.1" height="4.1" fill="none" stroke="#2b2b2b" stroke-width="1.4"/>
<rect x="165.2" y="386.9" width="5.1" height="3.9" fill="none" stroke="#2b2b2b" stroke-width="1.4"/>
<rect x="165.2" y="395.9" width="5.1" height="3.7" fill="none" stroke="#2b2b2b" stroke-width="1.4"/>
<rect x="165.2" y="405.6" width="5.1" height="3.6" fill="none" stroke="#2b2b2b" stroke-width="1.4"/>
<rect x="165.2" y="414.2" width="5.1" height="4.1" fill="none" stroke="#2b2b2b" stroke-width="1.4"/>
<rect x="156.4" y="425.2" width="4.1" height="6" fill="none" stroke="#2b2b2b" stroke-width="1.4"/>
<rect x="165" y="426.2" width="3.9" height="4.1" fill="none" stroke="#2b2b2b" stroke-width="1.4"/>
<rect x="174.7" y="425.2" width="4.7" height="6" fill="none" stroke="#2b2b2b" stroke-width="1.4"/>
<rect x="156.4" y="434.95" width="4.1" height="4.65" fill="none" stroke="#2b2b2b" stroke-width="1.4"/>
<rect x="164.8" y="434.95" width="4.1" height="4.65" fill="none" stroke="#2b2b2b" stroke-width="1.4"/>
<rect x="174.7" y="434.95" width="4.7" height="4.65" fill="none" stroke="#2b2b2b" stroke-width="1.4"/>
<rect x="103.2" y="445" width="12.6" height="20.3" fill="none" stroke="#2b2b2b" stroke-width="1.4"/>
<rect x="134.95" y="445" width="14.15" height="20.3" fill="none" stroke="#2b2b2b" stroke-width="1.4"/>
<line x1="128.55" y1="401.85" x2="128.55" y2="407.95" stroke="#111" stroke-width="2.1" stroke-linecap="round"/>
<line x1="137.1" y1="401.85" x2="137.1" y2="407.95" stroke="#111" stroke-width="2.1" stroke-linecap="round"/>
<line x1="132.75" y1="401.85" x2="132.75" y2="413.75" stroke="#111" stroke-width="2.1" stroke-linecap="round"/>
<line x1="128.55" y1="419.35" x2="128.55" y2="423.95" stroke="#111" stroke-width="2.1" stroke-linecap="round"/>
<line x1="132.75" y1="419.35" x2="132.75" y2="423.95" stroke="#111" stroke-width="2.1" stroke-linecap="round"/>
<line x1="137.1" y1="419.35" x2="137.1" y2="423.95" stroke="#111" stroke-width="2.1" stroke-linecap="round"/>
<line x1="117.45" y1="408.7" x2="123.85" y2="408.7" stroke="#111" stroke-width="2.1" stroke-linecap="round"/>
<line x1="141.65" y1="408.7" x2="146.85" y2="408.7" stroke="#111" stroke-width="2.1" stroke-linecap="round"/>
<line x1="117.45" y1="413.1" x2="123.85" y2="413.1" stroke="#111" stroke-width="2.1" stroke-linecap="round"/>
<line x1="141.65" y1="413.1" x2="146.85" y2="413.1" stroke="#111" stroke-width="2.1" stroke-linecap="round"/>
<line x1="117.45" y1="417.5" x2="123.85" y2="417.5" stroke="#111" stroke-width="2.1" stroke-linecap="round"/>
<line x1="141.65" y1="417.5" x2="146.85" y2="417.5" stroke="#111" stroke-width="2.1" stroke-linecap="round"/>
<line x1="124" y1="408.7" x2="124" y2="417.5" stroke="#333" stroke-width="1.1" stroke-linecap="butt"/>
<rect x="207.4" y="409.7" width="4.5" height="4" fill="none" stroke="#2b2b2b" stroke-width="1.4"/>
<rect x="207.4" y="417.2" width="4.5" height="3.7" fill="none" stroke="#2b2b2b" stroke-width="1.4"/>
<rect x="207.4" y="427.7" width="4.5" height="4" fill="none" stroke="#2b2b2b" stroke-width="1.4"/>
<rect x="207.4" y="435.7" width="4.5" height="4.1" fill="none" stroke="#2b2b2b" stroke-width="1.4"/>
<rect x="207.4" y="445.7" width="4.5" height="4" fill="none" stroke="#2b2b2b" stroke-width="1.4"/>
<rect x="207.4" y="453.2" width="4.5" height="3.7" fill="none" stroke="#2b2b2b" stroke-width="1.4"/>
<rect x="207.4" y="464.7" width="4.5" height="3.6" fill="none" stroke="#2b2b2b" stroke-width="1.4"/>
<rect x="207.4" y="471.7" width="4.5" height="3.6" fill="none" stroke="#2b2b2b" stroke-width="1.4"/>
<rect x="207.4" y="482.7" width="4.5" height="3.85" fill="none" stroke="#2b2b2b" stroke-width="1.4"/>
<rect x="207.4" y="489.6" width="4.5" height="4.3" fill="none" stroke="#2b2b2b" stroke-width="1.4"/>
<rect x="207.4" y="499.5" width="4.5" height="4" fill="none" stroke="#2b2b2b" stroke-width="1.4"/>
<rect x="207.4" y="506.7" width="4.5" height="3.85" fill="none" stroke="#2b2b2b" stroke-width="1.4"/>
<rect x="207.4" y="516.9" width="4.5" height="4.15" fill="none" stroke="#2b2b2b" stroke-width="1.4"/>
<rect x="207.4" y="524.7" width="4.5" height="4.3" fill="none" stroke="#2b2b2b" stroke-width="1.4"/>
<rect x="113.45" y="481.2" width="3.85" height="3.85" fill="none" stroke="#2b2b2b" stroke-width="1.4"/>
<rect x="120.95" y="481.2" width="4.15" height="3.85" fill="none" stroke="#2b2b2b" stroke-width="1.4"/>
<rect x="112.4" y="491.7" width="4.9" height="3.4" fill="none" stroke="#2b2b2b" stroke-width="1.4"/>
<rect x="120.95" y="491.7" width="5.35" height="3.4" fill="none" stroke="#2b2b2b" stroke-width="1.4"/>
<rect x="112.4" y="501.45" width="4.9" height="3.55" fill="none" stroke="#2b2b2b" stroke-width="1.4"/>
<rect x="120.95" y="501.45" width="5.35" height="3.55" fill="none" stroke="#2b2b2b" stroke-width="1.4"/>
<rect x="113.45" y="510.9" width="3.85" height="4.15" fill="none" stroke="#2b2b2b" stroke-width="1.4"/>
<rect x="120.95" y="510.9" width="4.15" height="4.15" fill="none" stroke="#2b2b2b" stroke-width="1.4"/>
<rect x="177.95" y="491.4" width="4.6" height="3.7" fill="none" stroke="#2b2b2b" stroke-width="1.4"/>
<rect x="186.2" y="491.4" width="5.8" height="3.7" fill="none" stroke="#2b2b2b" stroke-width="1.4"/>
<rect x="177.95" y="500.7" width="4.6" height="4.6" fill="none" stroke="#2b2b2b" stroke-width="1.4"/>
<rect x="186.2" y="500.7" width="5.8" height="4.6" fill="none" stroke="#2b2b2b" stroke-width="1.4"/>
<rect x="179" y="513.45" width="3.55" height="5.35" fill="none" stroke="#2b2b2b" stroke-width="1.4"/>
<rect x="186.5" y="513.45" width="4" height="5.35" fill="none" stroke="#2b2b2b" stroke-width="1.4"/>
<rect x="136.2" y="490.8" width="4.3" height="20" fill="none" stroke="#555" stroke-width="1"/>
<rect x="135.7" y="493.2" width="5.3" height="2.2" fill="#111"/>
<rect x="135.7" y="497.6" width="5.3" height="2.2" fill="#111"/>
<rect x="135.7" y="501.9" width="5.3" height="2.2" fill="#111"/>
<rect x="135.7" y="506.2" width="5.3" height="2.2" fill="#111"/>
<rect x="161.8" y="490.8" width="4.7" height="20" fill="none" stroke="#555" stroke-width="1"/>
<rect x="161.3" y="493.2" width="5.7" height="2.2" fill="#111"/>
<rect x="161.3" y="497.6" width="5.7" height="2.2" fill="#111"/>
<rect x="161.3" y="501.9" width="5.7" height="2.2" fill="#111"/>
<rect x="161.3" y="506.2" width="5.7" height="2.2" fill="#111"/>
<rect x="145.05" y="491.75" width="12.5" height="7.2" fill="none" stroke="#1a1a1a" stroke-width="1.5"/>
<rect x="145.05" y="502.75" width="12.5" height="7.5" fill="none" stroke="#1a1a1a" stroke-width="1.5"/>
<rect x="147.65" y="486.95" width="7.4" height="3.1" fill="none" stroke="#222" stroke-width="1.3"/>
<rect x="147.65" y="511.65" width="7.4" height="3" fill="none" stroke="#222" stroke-width="1.3"/>
<line x1="151.2" y1="486.7" x2="151.2" y2="514.7" stroke="#111" stroke-width="1.6" stroke-linecap="butt"/>
<circle cx="244.29" cy="199.6" r="1.65" fill="#d8d8d8" stroke="#b0b0b0" stroke-width="0.9"/>
<circle cx="251.18" cy="199.6" r="1.65" fill="#d8d8d8" stroke="#b0b0b0" stroke-width="0.9"/>
<circle cx="258.08" cy="199.6" r="1.65" fill="#d8d8d8" stroke="#b0b0b0" stroke-width="0.9"/>
<circle cx="264.97" cy="199.6" r="1.65" fill="#d8d8d8" stroke="#b0b0b0" stroke-width="0.9"/>
<circle cx="271.86" cy="199.6" r="1.65" fill="#d8d8d8" stroke="#b0b0b0" stroke-width="0.9"/>
<circle cx="278.75" cy="199.6" r="1.65" fill="#d8d8d8" stroke="#b0b0b0" stroke-width="0.9"/>
<circle cx="285.64" cy="199.6" r="1.65" fill="#d8d8d8" stroke="#b0b0b0" stroke-width="0.9"/>
<circle cx="292.54" cy="199.6" r="1.65" fill="#d8d8d8" stroke="#b0b0b0" stroke-width="0.9"/>
<circle cx="299.43" cy="199.6" r="1.65" fill="#d8d8d8" stroke="#b0b0b0" stroke-width="0.9"/>
<circle cx="306.32" cy="199.6" r="1.65" fill="#d8d8d8" stroke="#b0b0b0" stroke-width="0.9"/>
<circle cx="313.21" cy="199.6" r="1.65" fill="#d8d8d8" stroke="#b0b0b0" stroke-width="0.9"/>
<circle cx="320.1" cy="199.6" r="1.65" fill="#d8d8d8" stroke="#b0b0b0" stroke-width="0.9"/>
<circle cx="327" cy="199.6" r="1.65" fill="#d8d8d8" stroke="#b0b0b0" stroke-width="0.9"/>
<circle cx="333.89" cy="199.6" r="1.65" fill="#d8d8d8" stroke="#b0b0b0" stroke-width="0.9"/>
<circle cx="340.78" cy="199.6" r="1.65" fill="#d8d8d8" stroke="#b0b0b0" stroke-width="0.9"/>
<circle cx="347.67" cy="199.6" r="1.65" fill="#d8d8d8" stroke="#b0b0b0" stroke-width="0.9"/>
<circle cx="354.56" cy="199.6" r="1.65" fill="#d8d8d8" stroke="#b0b0b0" stroke-width="0.9"/>
<circle cx="361.46" cy="199.6" r="1.65" fill="#d8d8d8" stroke="#b0b0b0" stroke-width="0.9"/>
<circle cx="368.35" cy="199.6" r="1.65" fill="#d8d8d8" stroke="#b0b0b0" stroke-width="0.9"/>
<circle cx="375.24" cy="199.6" r="1.65" fill="#d8d8d8" stroke="#b0b0b0" stroke-width="0.9"/>
<circle cx="382.13" cy="199.6" r="1.65" fill="#d8d8d8" stroke="#b0b0b0" stroke-width="0.9"/>
<circle cx="389.02" cy="199.6" r="1.65" fill="#d8d8d8" stroke="#b0b0b0" stroke-width="0.9"/>
<circle cx="395.92" cy="199.6" r="1.65" fill="#d8d8d8" stroke="#b0b0b0" stroke-width="0.9"/>
<circle cx="402.81" cy="199.6" r="1.65" fill="#d8d8d8" stroke="#b0b0b0" stroke-width="0.9"/>
<circle cx="237.4" cy="206.48" r="1.65" fill="#d8d8d8" stroke="#b0b0b0" stroke-width="0.9"/>
<circle cx="244.29" cy="206.48" r="1.65" fill="#d8d8d8" stroke="#b0b0b0" stroke-width="0.9"/>
<circle cx="251.18" cy="206.48" r="1.65" fill="#d8d8d8" stroke="#b0b0b0" stroke-width="0.9"/>
<circle cx="258.08" cy="206.48" r="1.65" fill="#d8d8d8" stroke="#b0b0b0" stroke-width="0.9"/>
<circle cx="264.97" cy="206.48" r="1.65" fill="#d8d8d8" stroke="#b0b0b0" stroke-width="0.9"/>
<circle cx="271.86" cy="206.48" r="1.65" fill="#d8d8d8" stroke="#b0b0b0" stroke-width="0.9"/>
<circle cx="278.75" cy="206.48" r="1.65" fill="#d8d8d8" stroke="#b0b0b0" stroke-width="0.9"/>
<circle cx="285.64" cy="206.48" r="1.65" fill="#d8d8d8" stroke="#b0b0b0" stroke-width="0.9"/>
<circle cx="292.54" cy="206.48" r="1.65" fill="#d8d8d8" stroke="#b0b0b0" stroke-width="0.9"/>
<circle cx="299.43" cy="206.48" r="1.65" fill="#d8d8d8" stroke="#b0b0b0" stroke-width="0.9"/>
<circle cx="306.32" cy="206.48" r="1.65" fill="#d8d8d8" stroke="#b0b0b0" stroke-width="0.9"/>
<circle cx="313.21" cy="206.48" r="1.65" fill="#d8d8d8" stroke="#b0b0b0" stroke-width="0.9"/>
<circle cx="320.1" cy="206.48" r="1.65" fill="#d8d8d8" stroke="#b0b0b0" stroke-width="0.9"/>
<circle cx="327" cy="206.48" r="1.65" fill="#d8d8d8" stroke="#b0b0b0" stroke-width="0.9"/>
<circle cx="333.89" cy="206.48" r="1.65" fill="#d8d8d8" stroke="#b0b0b0" stroke-width="0.9"/>
<circle cx="340.78" cy="206.48" r="1.65" fill="#d8d8d8" stroke="#b0b0b0" stroke-width="0.9"/>
<circle cx="347.67" cy="206.48" r="1.65" fill="#d8d8d8" stroke="#b0b0b0" stroke-width="0.9"/>
<circle cx="354.56" cy="206.48" r="1.65" fill="#d8d8d8" stroke="#b0b0b0" stroke-width="0.9"/>
<circle cx="361.46" cy="206.48" r="1.65" fill="#d8d8d8" stroke="#b0b0b0" stroke-width="0.9"/>
<circle cx="368.35" cy="206.48" r="1.65" fill="#d8d8d8" stroke="#b0b0b0" stroke-width="0.9"/>
<circle cx="375.24" cy="206.48" r="1.65" fill="#d8d8d8" stroke="#b0b0b0" stroke-width="0.9"/>
<circle cx="382.13" cy="206.48" r="1.65" fill="#d8d8d8" stroke="#b0b0b0" stroke-width="0.9"/>
<circle cx="389.02" cy="206.48" r="1.65" fill="#d8d8d8" stroke="#b0b0b0" stroke-width="0.9"/>
<circle cx="395.92" cy="206.48" r="1.65" fill="#d8d8d8" stroke="#b0b0b0" stroke-width="0.9"/>
<circle cx="402.81" cy="206.48" r="1.65" fill="#d8d8d8" stroke="#b0b0b0" stroke-width="0.9"/>
<circle cx="237.4" cy="213.36" r="1.65" fill="#d8d8d8" stroke="#b0b0b0" stroke-width="0.9"/>
<circle cx="244.29" cy="213.36" r="1.65" fill="#d8d8d8" stroke="#b0b0b0" stroke-width="0.9"/>
<circle cx="251.18" cy="213.36" r="1.65" fill="#d8d8d8" stroke="#b0b0b0" stroke-width="0.9"/>
<circle cx="258.08" cy="213.36" r="1.65" fill="#d8d8d8" stroke="#b0b0b0" stroke-width="0.9"/>
<circle cx="264.97" cy="213.36" r="1.65" fill="#d8d8d8" stroke="#b0b0b0" stroke-width="0.9"/>
<circle cx="271.86" cy="213.36" r="1.65" fill="#d8d8d8" stroke="#b0b0b0" stroke-width="0.9"/>
<circle cx="278.75" cy="213.36" r="1.65" fill="#d8d8d8" stroke="#b0b0b0" stroke-width="0.9"/>
<circle cx="285.64" cy="213.36" r="1.65" fill="#d8d8d8" stroke="#b0b0b0" stroke-width="0.9"/>
<circle cx="292.54" cy="213.36" r="1.65" fill="#d8d8d8" stroke="#b0b0b0" stroke-width="0.9"/>
<circle cx="299.43" cy="213.36" r="1.65" fill="#d8d8d8" stroke="#b0b0b0" stroke-width="0.9"/>
<circle cx="306.32" cy="213.36" r="1.65" fill="#d8d8d8" stroke="#b0b0b0" stroke-width="0.9"/>
<circle cx="313.21" cy="213.36" r="1.65" fill="#d8d8d8" stroke="#b0b0b0" stroke-width="0.9"/>
<circle cx="320.1" cy="213.36" r="1.65" fill="#d8d8d8" stroke="#b0b0b0" stroke-width="0.9"/>
<circle cx="327" cy="213.36" r="1.65" fill="#d8d8d8" stroke="#b0b0b0" stroke-width="0.9"/>
<circle cx="333.89" cy="213.36" r="1.65" fill="#d8d8d8" stroke="#b0b0b0" stroke-width="0.9"/>
<circle cx="340.78" cy="213.36" r="1.65" fill="#d8d8d8" stroke="#b0b0b0" stroke-width="0.9"/>
<circle cx="347.67" cy="213.36" r="1.65" fill="#d8d8d8" stroke="#b0b0b0" stroke-width="0.9"/>
<circle cx="354.56" cy="213.36" r="1.65" fill="#d8d8d8" stroke="#b0b0b0" stroke-width="0.9"/>
<circle cx="361.46" cy="213.36" r="1.65" fill="#d8d8d8" stroke="#b0b0b0" stroke-width="0.9"/>
<circle cx="368.35" cy="213.36" r="1.65" fill="#d8d8d8" stroke="#b0b0b0" stroke-width="0.9"/>
<circle cx="375.24" cy="213.36" r="1.65" fill="#d8d8d8" stroke="#b0b0b0" stroke-width="0.9"/>
<circle cx="382.13" cy="213.36" r="1.65" fill="#d8d8d8" stroke="#b0b0b0" stroke-width="0.9"/>
<circle cx="389.02" cy="213.36" r="1.65" fill="#d8d8d8" stroke="#b0b0b0" stroke-width="0.9"/>
<circle cx="395.92" cy="213.36" r="1.65" fill="#d8d8d8" stroke="#b0b0b0" stroke-width="0.9"/>
<circle cx="402.81" cy="213.36" r="1.65" fill="#d8d8d8" stroke="#b0b0b0" stroke-width="0.9"/>
<circle cx="237.4" cy="220.24" r="1.65" fill="#d8d8d8" stroke="#b0b0b0" stroke-width="0.9"/>
<circle cx="244.29" cy="220.24" r="1.65" fill="#d8d8d8" stroke="#b0b0b0" stroke-width="0.9"/>
<circle cx="251.18" cy="220.24" r="1.65" fill="#d8d8d8" stroke="#b0b0b0" stroke-width="0.9"/>
<circle cx="258.08" cy="220.24" r="1.65" fill="#d8d8d8" stroke="#b0b0b0" stroke-width="0.9"/>
<circle cx="264.97" cy="220.24" r="1.65" fill="#d8d8d8" stroke="#b0b0b0" stroke-width="0.9"/>
<circle cx="271.86" cy="220.24" r="1.65" fill="#d8d8d8" stroke="#b0b0b0" stroke-width="0.9"/>
<circle cx="278.75" cy="220.24" r="1.65" fill="#d8d8d8" stroke="#b0b0b0" stroke-width="0.9"/>
<circle cx="285.64" cy="220.24" r="1.65" fill="#d8d8d8" stroke="#b0b0b0" stroke-width="0.9"/>
<circle cx="292.54" cy="220.24" r="1.65" fill="#d8d8d8" stroke="#b0b0b0" stroke-width="0.9"/>
<circle cx="299.43" cy="220.24" r="1.65" fill="#d8d8d8" stroke="#b0b0b0" stroke-width="0.9"/>
<circle cx="306.32" cy="220.24" r="1.65" fill="#d8d8d8" stroke="#b0b0b0" stroke-width="0.9"/>
<circle cx="313.21" cy="220.24" r="1.65" fill="#d8d8d8" stroke="#b0b0b0" stroke-width="0.9"/>
<circle cx="320.1" cy="220.24" r="1.65" fill="#d8d8d8" stroke="#b0b0b0" stroke-width="0.9"/>
<circle cx="327" cy="220.24" r="1.65" fill="#d8d8d8" stroke="#b0b0b0" stroke-width="0.9"/>
<circle cx="333.89" cy="220.24" r="1.65" fill="#d8d8d8" stroke="#b0b0b0" stroke-width="0.9"/>
<circle cx="340.78" cy="220.24" r="1.65" fill="#d8d8d8" stroke="#b0b0b0" stroke-width="0.9"/>
<circle cx="347.67" cy="220.24" r="1.65" fill="#d8d8d8" stroke="#b0b0b0" stroke-width="0.9"/>
<circle cx="354.56" cy="220.24" r="1.65" fill="#d8d8d8" stroke="#b0b0b0" stroke-width="0.9"/>
<circle cx="361.46" cy="220.24" r="1.65" fill="#d8d8d8" stroke="#b0b0b0" stroke-width="0.9"/>
<circle cx="368.35" cy="220.24" r="1.65" fill="#d8d8d8" stroke="#b0b0b0" stroke-width="0.9"/>
<circle cx="375.24" cy="220.24" r="1.65" fill="#d8d8d8" stroke="#b0b0b0" stroke-width="0.9"/>
<circle cx="382.13" cy="220.24" r="1.65" fill="#d8d8d8" stroke="#b0b0b0" stroke-width="0.9"/>
<circle cx="389.02" cy="220.24" r="1.65" fill="#d8d8d8" stroke="#b0b0b0" stroke-width="0.9"/>
<circle cx="395.92" cy="220.24" r="1.65" fill="#d8d8d8" stroke="#b0b0b0" stroke-width="0.9"/>
<circle cx="402.81" cy="220.24" r="1.65" fill="#d8d8d8" stroke="#b0b0b0" stroke-width="0.9"/>
<circle cx="237.4" cy="227.12" r="1.65" fill="#d8d8d8" stroke="#b0b0b0" stroke-width="0.9"/>
<circle cx="244.29" cy="227.12" r="1.65" fill="#d8d8d8" stroke="#b0b0b0" stroke-width="0.9"/>
<circle cx="251.18" cy="227.12" r="1.65" fill="#d8d8d8" stroke="#b0b0b0" stroke-width="0.9"/>
<circle cx="258.08" cy="227.12" r="1.65" fill="#d8d8d8" stroke="#b0b0b0" stroke-width="0.9"/>
<circle cx="264.97" cy="227.12" r="1.65" fill="#d8d8d8" stroke="#b0b0b0" stroke-width="0.9"/>
<circle cx="271.86" cy="227.12" r="1.65" fill="#d8d8d8" stroke="#b0b0b0" stroke-width="0.9"/>
<circle cx="278.75" cy="227.12" r="1.65" fill="#d8d8d8" stroke="#b0b0b0" stroke-width="0.9"/>
<circle cx="285.64" cy="227.12" r="1.65" fill="#d8d8d8" stroke="#b0b0b0" stroke-width="0.9"/>
<circle cx="292.54" cy="227.12" r="1.65" fill="#d8d8d8" stroke="#b0b0b0" stroke-width="0.9"/>
<circle cx="299.43" cy="227.12" r="1.65" fill="#d8d8d8" stroke="#b0b0b0" stroke-width="0.9"/>
<circle cx="306.32" cy="227.12" r="1.65" fill="#d8d8d8" stroke="#b0b0b0" stroke-width="0.9"/>
<circle cx="313.21" cy="227.12" r="1.65" fill="#d8d8d8" stroke="#b0b0b0" stroke-width="0.9"/>
<circle cx="320.1" cy="227.12" r="1.65" fill="#d8d8d8" stroke="#b0b0b0" stroke-width="0.9"/>
<circle cx="327" cy="227.12" r="1.65" fill="#d8d8d8" stroke="#b0b0b0" stroke-width="0.9"/>
<circle cx="333.89" cy="227.12" r="1.65" fill="#d8d8d8" stroke="#b0b0b0" stroke-width="0.9"/>
<circle cx="340.78" cy="227.12" r="1.65" fill="#d8d8d8" stroke="#b0b0b0" stroke-width="0.9"/>
<circle cx="347.67" cy="227.12" r="1.65" fill="#d8d8d8" stroke="#b0b0b0" stroke-width="0.9"/>
<circle cx="354.56" cy="227.12" r="1.65" fill="#d8d8d8" stroke="#b0b0b0" stroke-width="0.9"/>
<circle cx="361.46" cy="227.12" r="1.65" fill="#d8d8d8" stroke="#b0b0b0" stroke-width="0.9"/>
<circle cx="368.35" cy="227.12" r="1.65" fill="#d8d8d8" stroke="#b0b0b0" stroke-width="0.9"/>
<circle cx="375.24" cy="227.12" r="1.65" fill="#d8d8d8" stroke="#b0b0b0" stroke-width="0.9"/>
<circle cx="382.13" cy="227.12" r="1.65" fill="#d8d8d8" stroke="#b0b0b0" stroke-width="0.9"/>
<circle cx="389.02" cy="227.12" r="1.65" fill="#d8d8d8" stroke="#b0b0b0" stroke-width="0.9"/>
<circle cx="395.92" cy="227.12" r="1.65" fill="#d8d8d8" stroke="#b0b0b0" stroke-width="0.9"/>
<circle cx="402.81" cy="227.12" r="1.65" fill="#d8d8d8" stroke="#b0b0b0" stroke-width="0.9"/>
<circle cx="237.4" cy="234" r="1.65" fill="#d8d8d8" stroke="#b0b0b0" stroke-width="0.9"/>
<circle cx="244.29" cy="234" r="1.65" fill="#d8d8d8" stroke="#b0b0b0" stroke-width="0.9"/>
<circle cx="251.18" cy="234" r="1.65" fill="#d8d8d8" stroke="#b0b0b0" stroke-width="0.9"/>
<circle cx="258.08" cy="234" r="1.65" fill="#d8d8d8" stroke="#b0b0b0" stroke-width="0.9"/>
<circle cx="264.97" cy="234" r="1.65" fill="#d8d8d8" stroke="#b0b0b0" stroke-width="0.9"/>
<circle cx="271.86" cy="234" r="1.65" fill="#d8d8d8" stroke="#b0b0b0" stroke-width="0.9"/>
<circle cx="278.75" cy="234" r="1.65" fill="#d8d8d8" stroke="#b0b0b0" stroke-width="0.9"/>
<circle cx="285.64" cy="234" r="1.65" fill="#d8d8d8" stroke="#b0b0b0" stroke-width="0.9"/>
<circle cx="292.54" cy="234" r="1.65" fill="#d8d8d8" stroke="#b0b0b0" stroke-width="0.9"/>
<circle cx="299.43" cy="234" r="1.65" fill="#d8d8d8" stroke="#b0b0b0" stroke-width="0.9"/>
<circle cx="306.32" cy="234" r="1.65" fill="#d8d8d8" stroke="#b0b0b0" stroke-width="0.9"/>
<circle cx="313.21" cy="234" r="1.65" fill="#d8d8d8" stroke="#b0b0b0" stroke-width="0.9"/>
<circle cx="320.1" cy="234" r="1.65" fill="#d8d8d8" stroke="#b0b0b0" stroke-width="0.9"/>
<circle cx="327" cy="234" r="1.65" fill="#d8d8d8" stroke="#b0b0b0" stroke-width="0.9"/>
<circle cx="333.89" cy="234" r="1.65" fill="#d8d8d8" stroke="#b0b0b0" stroke-width="0.9"/>
<circle cx="340.78" cy="234" r="1.65" fill="#d8d8d8" stroke="#b0b0b0" stroke-width="0.9"/>
<circle cx="347.67" cy="234" r="1.65" fill="#d8d8d8" stroke="#b0b0b0" stroke-width="0.9"/>
<circle cx="354.56" cy="234" r="1.65" fill="#d8d8d8" stroke="#b0b0b0" stroke-width="0.9"/>
<circle cx="361.46" cy="234" r="1.65" fill="#d8d8d8" stroke="#b0b0b0" stroke-width="0.9"/>
<circle cx="368.35" cy="234" r="1.65" fill="#d8d8d8" stroke="#b0b0b0" stroke-width="0.9"/>
<circle cx="375.24" cy="234" r="1.65" fill="#d8d8d8" stroke="#b0b0b0" stroke-width="0.9"/>
<circle cx="382.13" cy="234" r="1.65" fill="#d8d8d8" stroke="#b0b0b0" stroke-width="0.9"/>
<circle cx="389.02" cy="234" r="1.65" fill="#d8d8d8" stroke="#b0b0b0" stroke-width="0.9"/>
<circle cx="395.92" cy="234" r="1.65" fill="#d8d8d8" stroke="#b0b0b0" stroke-width="0.9"/>
<circle cx="402.81" cy="234" r="1.65" fill="#d8d8d8" stroke="#b0b0b0" stroke-width="0.9"/>
<circle cx="237.4" cy="240.88" r="1.65" fill="#d8d8d8" stroke="#b0b0b0" stroke-width="0.9"/>
<circle cx="244.29" cy="240.88" r="1.65" fill="#d8d8d8" stroke="#b0b0b0" stroke-width="0.9"/>
<circle cx="251.18" cy="240.88" r="1.65" fill="#d8d8d8" stroke="#b0b0b0" stroke-width="0.9"/>
<circle cx="258.08" cy="240.88" r="1.65" fill="#d8d8d8" stroke="#b0b0b0" stroke-width="0.9"/>
<circle cx="264.97" cy="240.88" r="1.65" fill="#d8d8d8" stroke="#b0b0b0" stroke-width="0.9"/>
<circle cx="271.86" cy="240.88" r="1.65" fill="#d8d8d8" stroke="#b0b0b0" stroke-width="0.9"/>
<circle cx="278.75" cy="240.88" r="1.65" fill="#d8d8d8" stroke="#b0b0b0" stroke-width="0.9"/>
<circle cx="285.64" cy="240.88" r="1.65" fill="#d8d8d8" stroke="#b0b0b0" stroke-width="0.9"/>
<circle cx="292.54" cy="240.88" r="1.65" fill="#d8d8d8" stroke="#b0b0b0" stroke-width="0.9"/>
<circle cx="299.43" cy="240.88" r="1.65" fill="#d8d8d8" stroke="#b0b0b0" stroke-width="0.9"/>
<circle cx="306.32" cy="240.88" r="1.65" fill="#d8d8d8" stroke="#b0b0b0" stroke-width="0.9"/>
<circle cx="313.21" cy="240.88" r="1.65" fill="#d8d8d8" stroke="#b0b0b0" stroke-width="0.9"/>
<circle cx="320.1" cy="240.88" r="1.65" fill="#d8d8d8" stroke="#b0b0b0" stroke-width="0.9"/>
<circle cx="327" cy="240.88" r="1.65" fill="#d8d8d8" stroke="#b0b0b0" stroke-width="0.9"/>
<circle cx="333.89" cy="240.88" r="1.65" fill="#d8d8d8" stroke="#b0b0b0" stroke-width="0.9"/>
<circle cx="340.78" cy="240.88" r="1.65" fill="#d8d8d8" stroke="#b0b0b0" stroke-width="0.9"/>
<circle cx="347.67" cy="240.88" r="1.65" fill="#d8d8d8" stroke="#b0b0b0" stroke-width="0.9"/>
<circle cx="354.56" cy="240.88" r="1.65" fill="#d8d8d8" stroke="#b0b0b0" stroke-width="0.9"/>
<circle cx="361.46" cy="240.88" r="1.65" fill="#d8d8d8" stroke="#b0b0b0" stroke-width="0.9"/>
<circle cx="368.35" cy="240.88" r="1.65" fill="#d8d8d8" stroke="#b0b0b0" stroke-width="0.9"/>
<circle cx="375.24" cy="240.88" r="1.65" fill="#d8d8d8" stroke="#b0b0b0" stroke-width="0.9"/>
<circle cx="382.13" cy="240.88" r="1.65" fill="#d8d8d8" stroke="#b0b0b0" stroke-width="0.9"/>
<circle cx="389.02" cy="240.88" r="1.65" fill="#d8d8d8" stroke="#b0b0b0" stroke-width="0.9"/>
<circle cx="395.92" cy="240.88" r="1.65" fill="#d8d8d8" stroke="#b0b0b0" stroke-width="0.9"/>
<circle cx="402.81" cy="240.88" r="1.65" fill="#d8d8d8" stroke="#b0b0b0" stroke-width="0.9"/>
<circle cx="237.4" cy="247.76" r="1.65" fill="#d8d8d8" stroke="#b0b0b0" stroke-width="0.9"/>
<circle cx="244.29" cy="247.76" r="1.65" fill="#d8d8d8" stroke="#b0b0b0" stroke-width="0.9"/>
<circle cx="251.18" cy="247.76" r="1.65" fill="#d8d8d8" stroke="#b0b0b0" stroke-width="0.9"/>
<circle cx="258.08" cy="247.76" r="1.65" fill="#d8d8d8" stroke="#b0b0b0" stroke-width="0.9"/>
<circle cx="264.97" cy="247.76" r="1.65" fill="#d8d8d8" stroke="#b0b0b0" stroke-width="0.9"/>
<circle cx="271.86" cy="247.76" r="1.65" fill="#d8d8d8" stroke="#b0b0b0" stroke-width="0.9"/>
<circle cx="278.75" cy="247.76" r="1.65" fill="#d8d8d8" stroke="#b0b0b0" stroke-width="0.9"/>
<circle cx="285.64" cy="247.76" r="1.65" fill="#d8d8d8" stroke="#b0b0b0" stroke-width="0.9"/>
<circle cx="292.54" cy="247.76" r="1.65" fill="#d8d8d8" stroke="#b0b0b0" stroke-width="0.9"/>
<circle cx="299.43" cy="247.76" r="1.65" fill="#d8d8d8" stroke="#b0b0b0" stroke-width="0.9"/>
<circle cx="306.32" cy="247.76" r="1.65" fill="#d8d8d8" stroke="#b0b0b0" stroke-width="0.9"/>
<circle cx="313.21" cy="247.76" r="1.65" fill="#d8d8d8" stroke="#b0b0b0" stroke-width="0.9"/>
<circle cx="320.1" cy="247.76" r="1.65" fill="#d8d8d8" stroke="#b0b0b0" stroke-width="0.9"/>
<circle cx="327" cy="247.76" r="1.65" fill="#d8d8d8" stroke="#b0b0b0" stroke-width="0.9"/>
<circle cx="333.89" cy="247.76" r="1.65" fill="#d8d8d8" stroke="#b0b0b0" stroke-width="0.9"/>
<circle cx="340.78" cy="247.76" r="1.65" fill="#d8d8d8" stroke="#b0b0b0" stroke-width="0.9"/>
<circle cx="347.67" cy="247.76" r="1.65" fill="#d8d8d8" stroke="#b0b0b0" stroke-width="0.9"/>
<circle cx="354.56" cy="247.76" r="1.65" fill="#d8d8d8" stroke="#b0b0b0" stroke-width="0.9"/>
<circle cx="361.46" cy="247.76" r="1.65" fill="#d8d8d8" stroke="#b0b0b0" stroke-width="0.9"/>
<circle cx="368.35" cy="247.76" r="1.65" fill="#d8d8d8" stroke="#b0b0b0" stroke-width="0.9"/>
<circle cx="375.24" cy="247.76" r="1.65" fill="#d8d8d8" stroke="#b0b0b0" stroke-width="0.9"/>
<circle cx="382.13" cy="247.76" r="1.65" fill="#d8d8d8" stroke="#b0b0b0" stroke-width="0.9"/>
<circle cx="389.02" cy="247.76" r="1.65" fill="#d8d8d8" stroke="#b0b0b0" stroke-width="0.9"/>
<circle cx="395.92" cy="247.76" r="1.65" fill="#d8d8d8" stroke="#b0b0b0" stroke-width="0.9"/>
<circle cx="402.81" cy="247.76" r="1.65" fill="#d8d8d8" stroke="#b0b0b0" stroke-width="0.9"/>
<circle cx="237.4" cy="254.64" r="1.65" fill="#d8d8d8" stroke="#b0b0b0" stroke-width="0.9"/>
<circle cx="244.29" cy="254.64" r="1.65" fill="#d8d8d8" stroke="#b0b0b0" stroke-width="0.9"/>
<circle cx="251.18" cy="254.64" r="1.65" fill="#d8d8d8" stroke="#b0b0b0" stroke-width="0.9"/>
<circle cx="258.08" cy="254.64" r="1.65" fill="#d8d8d8" stroke="#b0b0b0" stroke-width="0.9"/>
<circle cx="264.97" cy="254.64" r="1.65" fill="#d8d8d8" stroke="#b0b0b0" stroke-width="0.9"/>
<circle cx="271.86" cy="254.64" r="1.65" fill="#d8d8d8" stroke="#b0b0b0" stroke-width="0.9"/>
<circle cx="278.75" cy="254.64" r="1.65" fill="#d8d8d8" stroke="#b0b0b0" stroke-width="0.9"/>
<circle cx="285.64" cy="254.64" r="1.65" fill="#d8d8d8" stroke="#b0b0b0" stroke-width="0.9"/>
<circle cx="292.54" cy="254.64" r="1.65" fill="#d8d8d8" stroke="#b0b0b0" stroke-width="0.9"/>
<circle cx="299.43" cy="254.64" r="1.65" fill="#d8d8d8" stroke="#b0b0b0" stroke-width="0.9"/>
<circle cx="306.32" cy="254.64" r="1.65" fill="#d8d8d8" stroke="#b0b0b0" stroke-width="0.9"/>
<circle cx="313.21" cy="254.64" r="1.65" fill="#d8d8d8" stroke="#b0b0b0" stroke-width="0.9"/>
<circle cx="320.1" cy="254.64" r="1.65" fill="#d8d8d8" stroke="#b0b0b0" stroke-width="0.9"/>
<circle cx="327" cy="254.64" r="1.65" fill="#d8d8d8" stroke="#b0b0b0" stroke-width="0.9"/>
<circle cx="333.89" cy="254.64" r="1.65" fill="#d8d8d8" stroke="#b0b0b0" stroke-width="0.9"/>
<circle cx="340.78" cy="254.64" r="1.65" fill="#d8d8d8" stroke="#b0b0b0" stroke-width="0.9"/>
<circle cx="347.67" cy="254.64" r="1.65" fill="#d8d8d8" stroke="#b0b0b0" stroke-width="0.9"/>
<circle cx="354.56" cy="254.64" r="1.65" fill="#d8d8d8" stroke="#b0b0b0" stroke-width="0.9"/>
<circle cx="361.46" cy="254.64" r="1.65" fill="#d8d8d8" stroke="#b0b0b0" stroke-width="0.9"/>
<circle cx="368.35" cy="254.64" r="1.65" fill="#d8d8d8" stroke="#b0b0b0" stroke-width="0.9"/>
<circle cx="375.24" cy="254.64" r="1.65" fill="#d8d8d8" stroke="#b0b0b0" stroke-width="0.9"/>
<circle cx="382.13" cy="254.64" r="1.65" fill="#d8d8d8" stroke="#b0b0b0" stroke-width="0.9"/>
<circle cx="389.02" cy="254.64" r="1.65" fill="#d8d8d8" stroke="#b0b0b0" stroke-width="0.9"/>
<circle cx="395.92" cy="254.64" r="1.65" fill="#d8d8d8" stroke="#b0b0b0" stroke-width="0.9"/>
<circle cx="402.81" cy="254.64" r="1.65" fill="#d8d8d8" stroke="#b0b0b0" stroke-width="0.9"/>
<circle cx="237.4" cy="261.52" r="1.65" fill="#d8d8d8" stroke="#b0b0b0" stroke-width="0.9"/>
<circle cx="244.29" cy="261.52" r="1.65" fill="#d8d8d8" stroke="#b0b0b0" stroke-width="0.9"/>
<circle cx="251.18" cy="261.52" r="1.65" fill="#d8d8d8" stroke="#b0b0b0" stroke-width="0.9"/>
<circle cx="258.08" cy="261.52" r="1.65" fill="#d8d8d8" stroke="#b0b0b0" stroke-width="0.9"/>
<circle cx="264.97" cy="261.52" r="1.65" fill="#d8d8d8" stroke="#b0b0b0" stroke-width="0.9"/>
<circle cx="271.86" cy="261.52" r="1.65" fill="#d8d8d8" stroke="#b0b0b0" stroke-width="0.9"/>
<circle cx="278.75" cy="261.52" r="1.65" fill="#d8d8d8" stroke="#b0b0b0" stroke-width="0.9"/>
<circle cx="285.64" cy="261.52" r="1.65" fill="#d8d8d8" stroke="#b0b0b0" stroke-width="0.9"/>
<circle cx="292.54" cy="261.52" r="1.65" fill="#d8d8d8" stroke="#b0b0b0" stroke-width="0.9"/>
<circle cx="299.43" cy="261.52" r="1.65" fill="#d8d8d8" stroke="#b0b0b0" stroke-width="0.9"/>
<circle cx="306.32" cy="261.52" r="1.65" fill="#d8d8d8" stroke="#b0b0b0" stroke-width="0.9"/>
<circle cx="313.21" cy="261.52" r="1.65" fill="#d8d8d8" stroke="#b0b0b0" stroke-width="0.9"/>
<circle cx="320.1" cy="261.52" r="1.65" fill="#d8d8d8" stroke="#b0b0b0" stroke-width="0.9"/>
<circle cx="327" cy="261.52" r="1.65" fill="#d8d8d8" stroke="#b0b0b0" stroke-width="0.9"/>
<circle cx="333.89" cy="261.52" r="1.65" fill="#d8d8d8" stroke="#b0b0b0" stroke-width="0.9"/>
<circle cx="340.78" cy="261.52" r="1.65" fill="#d8d8d8" stroke="#b0b0b0" stroke-width="0.9"/>
<circle cx="347.67" cy="261.52" r="1.65" fill="#d8d8d8" stroke="#b0b0b0" stroke-width="0.9"/>
<circle cx="354.56" cy="261.52" r="1.65" fill="#d8d8d8" stroke="#b0b0b0" stroke-width="0.9"/>
<circle cx="361.46" cy="261.52" r="1.65" fill="#d8d8d8" stroke="#b0b0b0" stroke-width="0.9"/>
<circle cx="368.35" cy="261.52" r="1.65" fill="#d8d8d8" stroke="#b0b0b0" stroke-width="0.9"/>
<circle cx="375.24" cy="261.52" r="1.65" fill="#d8d8d8" stroke="#b0b0b0" stroke-width="0.9"/>
<circle cx="382.13" cy="261.52" r="1.65" fill="#d8d8d8" stroke="#b0b0b0" stroke-width="0.9"/>
<circle cx="389.02" cy="261.52" r="1.65" fill="#d8d8d8" stroke="#b0b0b0" stroke-width="0.9"/>
<circle cx="395.92" cy="261.52" r="1.65" fill="#d8d8d8" stroke="#b0b0b0" stroke-width="0.9"/>
<circle cx="402.81" cy="261.52" r="1.65" fill="#d8d8d8" stroke="#b0b0b0" stroke-width="0.9"/>
<circle cx="237.4" cy="268.4" r="1.65" fill="#d8d8d8" stroke="#b0b0b0" stroke-width="0.9"/>
<circle cx="244.29" cy="268.4" r="1.65" fill="#d8d8d8" stroke="#b0b0b0" stroke-width="0.9"/>
<circle cx="251.18" cy="268.4" r="1.65" fill="#d8d8d8" stroke="#b0b0b0" stroke-width="0.9"/>
<circle cx="258.08" cy="268.4" r="1.65" fill="#d8d8d8" stroke="#b0b0b0" stroke-width="0.9"/>
<circle cx="264.97" cy="268.4" r="1.65" fill="#d8d8d8" stroke="#b0b0b0" stroke-width="0.9"/>
<circle cx="271.86" cy="268.4" r="1.65" fill="#d8d8d8" stroke="#b0b0b0" stroke-width="0.9"/>
<circle cx="278.75" cy="268.4" r="1.65" fill="#d8d8d8" stroke="#b0b0b0" stroke-width="0.9"/>
<circle cx="285.64" cy="268.4" r="1.65" fill="#d8d8d8" stroke="#b0b0b0" stroke-width="0.9"/>
<circle cx="292.54" cy="268.4" r="1.65" fill="#d8d8d8" stroke="#b0b0b0" stroke-width="0.9"/>
<circle cx="299.43" cy="268.4" r="1.65" fill="#d8d8d8" stroke="#b0b0b0" stroke-width="0.9"/>
<circle cx="306.32" cy="268.4" r="1.65" fill="#d8d8d8" stroke="#b0b0b0" stroke-width="0.9"/>
<circle cx="313.21" cy="268.4" r="1.65" fill="#d8d8d8" stroke="#b0b0b0" stroke-width="0.9"/>
<circle cx="320.1" cy="268.4" r="1.65" fill="#d8d8d8" stroke="#b0b0b0" stroke-width="0.9"/>
<circle cx="327" cy="268.4" r="1.65" fill="#d8d8d8" stroke="#b0b0b0" stroke-width="0.9"/>
<circle cx="333.89" cy="268.4" r="1.65" fill="#d8d8d8" stroke="#b0b0b0" stroke-width="0.9"/>
<circle cx="340.78" cy="268.4" r="1.65" fill="#d8d8d8" stroke="#b0b0b0" stroke-width="0.9"/>
<circle cx="347.67" cy="268.4" r="1.65" fill="#d8d8d8" stroke="#b0b0b0" stroke-width="0.9"/>
<circle cx="354.56" cy="268.4" r="1.65" fill="#d8d8d8" stroke="#b0b0b0" stroke-width="0.9"/>
<circle cx="361.46" cy="268.4" r="1.65" fill="#d8d8d8" stroke="#b0b0b0" stroke-width="0.9"/>
<circle cx="368.35" cy="268.4" r="1.65" fill="#d8d8d8" stroke="#b0b0b0" stroke-width="0.9"/>
<circle cx="375.24" cy="268.4" r="1.65" fill="#d8d8d8" stroke="#b0b0b0" stroke-width="0.9"/>
<circle cx="382.13" cy="268.4" r="1.65" fill="#d8d8d8" stroke="#b0b0b0" stroke-width="0.9"/>
<circle cx="389.02" cy="268.4" r="1.65" fill="#d8d8d8" stroke="#b0b0b0" stroke-width="0.9"/>
<circle cx="395.92" cy="268.4" r="1.65" fill="#d8d8d8" stroke="#b0b0b0" stroke-width="0.9"/>
<circle cx="402.81" cy="268.4" r="1.65" fill="#d8d8d8" stroke="#b0b0b0" stroke-width="0.9"/>
<circle cx="237.4" cy="275.28" r="1.65" fill="#d8d8d8" stroke="#b0b0b0" stroke-width="0.9"/>
<circle cx="244.29" cy="275.28" r="1.65" fill="#d8d8d8" stroke="#b0b0b0" stroke-width="0.9"/>
<circle cx="251.18" cy="275.28" r="1.65" fill="#d8d8d8" stroke="#b0b0b0" stroke-width="0.9"/>
<circle cx="258.08" cy="275.28" r="1.65" fill="#d8d8d8" stroke="#b0b0b0" stroke-width="0.9"/>
<circle cx="264.97" cy="275.28" r="1.65" fill="#d8d8d8" stroke="#b0b0b0" stroke-width="0.9"/>
<circle cx="271.86" cy="275.28" r="1.65" fill="#d8d8d8" stroke="#b0b0b0" stroke-width="0.9"/>
<circle cx="278.75" cy="275.28" r="1.65" fill="#d8d8d8" stroke="#b0b0b0" stroke-width="0.9"/>
<circle cx="285.64" cy="275.28" r="1.65" fill="#d8d8d8" stroke="#b0b0b0" stroke-width="0.9"/>
<circle cx="292.54" cy="275.28" r="1.65" fill="#d8d8d8" stroke="#b0b0b0" stroke-width="0.9"/>
<circle cx="299.43" cy="275.28" r="1.65" fill="#d8d8d8" stroke="#b0b0b0" stroke-width="0.9"/>
<circle cx="306.32" cy="275.28" r="1.65" fill="#d8d8d8" stroke="#b0b0b0" stroke-width="0.9"/>
<circle cx="313.21" cy="275.28" r="1.65" fill="#d8d8d8" stroke="#b0b0b0" stroke-width="0.9"/>
<circle cx="320.1" cy="275.28" r="1.65" fill="#d8d8d8" stroke="#b0b0b0" stroke-width="0.9"/>
<circle cx="327" cy="275.28" r="1.65" fill="#d8d8d8" stroke="#b0b0b0" stroke-width="0.9"/>
<circle cx="333.89" cy="275.28" r="1.65" fill="#d8d8d8" stroke="#b0b0b0" stroke-width="0.9"/>
<circle cx="340.78" cy="275.28" r="1.65" fill="#d8d8d8" stroke="#b0b0b0" stroke-width="0.9"/>
<circle cx="347.67" cy="275.28" r="1.65" fill="#d8d8d8" stroke="#b0b0b0" stroke-width="0.9"/>
<circle cx="354.56" cy="275.28" r="1.65" fill="#d8d8d8" stroke="#b0b0b0" stroke-width="0.9"/>
<circle cx="361.46" cy="275.28" r="1.65" fill="#d8d8d8" stroke="#b0b0b0" stroke-width="0.9"/>
<circle cx="368.35" cy="275.28" r="1.65" fill="#d8d8d8" stroke="#b0b0b0" stroke-width="0.9"/>
<circle cx="375.24" cy="275.28" r="1.65" fill="#d8d8d8" stroke="#b0b0b0" stroke-width="0.9"/>
<circle cx="382.13" cy="275.28" r="1.65" fill="#d8d8d8" stroke="#b0b0b0" stroke-width="0.9"/>
<circle cx="389.02" cy="275.28" r="1.65" fill="#d8d8d8" stroke="#b0b0b0" stroke-width="0.9"/>
<circle cx="395.92" cy="275.28" r="1.65" fill="#d8d8d8" stroke="#b0b0b0" stroke-width="0.9"/>
<circle cx="402.81" cy="275.28" r="1.65" fill="#d8d8d8" stroke="#b0b0b0" stroke-width="0.9"/>
<circle cx="237.4" cy="282.16" r="1.65" fill="#d8d8d8" stroke="#b0b0b0" stroke-width="0.9"/>
<circle cx="244.29" cy="282.16" r="1.65" fill="#d8d8d8" stroke="#b0b0b0" stroke-width="0.9"/>
<circle cx="251.18" cy="282.16" r="1.65" fill="#d8d8d8" stroke="#b0b0b0" stroke-width="0.9"/>
<circle cx="258.08" cy="282.16" r="1.65" fill="#d8d8d8" stroke="#b0b0b0" stroke-width="0.9"/>
<circle cx="264.97" cy="282.16" r="1.65" fill="#d8d8d8" stroke="#b0b0b0" stroke-width="0.9"/>
<circle cx="271.86" cy="282.16" r="1.65" fill="#d8d8d8" stroke="#b0b0b0" stroke-width="0.9"/>
<circle cx="278.75" cy="282.16" r="1.65" fill="#d8d8d8" stroke="#b0b0b0" stroke-width="0.9"/>
<circle cx="285.64" cy="282.16" r="1.65" fill="#d8d8d8" stroke="#b0b0b0" stroke-width="0.9"/>
<circle cx="292.54" cy="282.16" r="1.65" fill="#d8d8d8" stroke="#b0b0b0" stroke-width="0.9"/>
<circle cx="299.43" cy="282.16" r="1.65" fill="#d8d8d8" stroke="#b0b0b0" stroke-width="0.9"/>
<circle cx="306.32" cy="282.16" r="1.65" fill="#d8d8d8" stroke="#b0b0b0" stroke-width="0.9"/>
<circle cx="313.21" cy="282.16" r="1.65" fill="#d8d8d8" stroke="#b0b0b0" stroke-width="0.9"/>
<circle cx="320.1" cy="282.16" r="1.65" fill="#d8d8d8" stroke="#b0b0b0" stroke-width="0.9"/>
<circle cx="327" cy="282.16" r="1.65" fill="#d8d8d8" stroke="#b0b0b0" stroke-width="0.9"/>
<circle cx="333.89" cy="282.16" r="1.65" fill="#d8d8d8" stroke="#b0b0b0" stroke-width="0.9"/>
<circle cx="340.78" cy="282.16" r="1.65" fill="#d8d8d8" stroke="#b0b0b0" stroke-width="0.9"/>
<circle cx="347.67" cy="282.16" r="1.65" fill="#d8d8d8" stroke="#b0b0b0" stroke-width="0.9"/>
<circle cx="354.56" cy="282.16" r="1.65" fill="#d8d8d8" stroke="#b0b0b0" stroke-width="0.9"/>
<circle cx="361.46" cy="282.16" r="1.65" fill="#d8d8d8" stroke="#b0b0b0" stroke-width="0.9"/>
<circle cx="368.35" cy="282.16" r="1.65" fill="#d8d8d8" stroke="#b0b0b0" stroke-width="0.9"/>
<circle cx="375.24" cy="282.16" r="1.65" fill="#d8d8d8" stroke="#b0b0b0" stroke-width="0.9"/>
<circle cx="382.13" cy="282.16" r="1.65" fill="#d8d8d8" stroke="#b0b0b0" stroke-width="0.9"/>
<circle cx="389.02" cy="282.16" r="1.65" fill="#d8d8d8" stroke="#b0b0b0" stroke-width="0.9"/>
<circle cx="395.92" cy="282.16" r="1.65" fill="#d8d8d8" stroke="#b0b0b0" stroke-width="0.9"/>
<circle cx="402.81" cy="282.16" r="1.65" fill="#d8d8d8" stroke="#b0b0b0" stroke-width="0.9"/>
<circle cx="237.4" cy="289.04" r="1.65" fill="#d8d8d8" stroke="#b0b0b0" stroke-width="0.9"/>
<circle cx="244.29" cy="289.04" r="1.65" fill="#d8d8d8" stroke="#b0b0b0" stroke-width="0.9"/>
<circle cx="251.18" cy="289.04" r="1.65" fill="#d8d8d8" stroke="#b0b0b0" stroke-width="0.9"/>
<circle cx="258.08" cy="289.04" r="1.65" fill="#d8d8d8" stroke="#b0b0b0" stroke-width="0.9"/>
<circle cx="264.97" cy="289.04" r="1.65" fill="#d8d8d8" stroke="#b0b0b0" stroke-width="0.9"/>
<circle cx="271.86" cy="289.04" r="1.65" fill="#d8d8d8" stroke="#b0b0b0" stroke-width="0.9"/>
<circle cx="278.75" cy="289.04" r="1.65" fill="#d8d8d8" stroke="#b0b0b0" stroke-width="0.9"/>
<circle cx="285.64" cy="289.04" r="1.65" fill="#d8d8d8" stroke="#b0b0b0" stroke-width="0.9"/>
<circle cx="292.54" cy="289.04" r="1.65" fill="#d8d8d8" stroke="#b0b0b0" stroke-width="0.9"/>
<circle cx="299.43" cy="289.04" r="1.65" fill="#d8d8d8" stroke="#b0b0b0" stroke-width="0.9"/>
<circle cx="306.32" cy="289.04" r="1.65" fill="#d8d8d8" stroke="#b0b0b0" stroke-width="0.9"/>
<circle cx="313.21" cy="289.04" r="1.65" fill="#d8d8d8" stroke="#b0b0b0" stroke-width="0.9"/>
<circle cx="320.1" cy="289.04" r="1.65" fill="#d8d8d8" stroke="#b0b0b0" stroke-width="0.9"/>
<circle cx="327" cy="289.04" r="1.65" fill="#d8d8d8" stroke="#b0b0b0" stroke-width="0.9"/>
<circle cx="333.89" cy="289.04" r="1.65" fill="#d8d8d8" stroke="#b0b0b0" stroke-width="0.9"/>
<circle cx="340.78" cy="289.04" r="1.65" fill="#d8d8d8" stroke="#b0b0b0" stroke-width="0.9"/>
<circle cx="347.67" cy="289.04" r="1.65" fill="#d8d8d8" stroke="#b0b0b0" stroke-width="0.9"/>
<circle cx="354.56" cy="289.04" r="1.65" fill="#d8d8d8" stroke="#b0b0b0" stroke-width="0.9"/>
<circle cx="361.46" cy="289.04" r="1.65" fill="#d8d8d8" stroke="#b0b0b0" stroke-width="0.9"/>
<circle cx="368.35" cy="289.04" r="1.65" fill="#d8d8d8" stroke="#b0b0b0" stroke-width="0.9"/>
<circle cx="375.24" cy="289.04" r="1.65" fill="#d8d8d8" stroke="#b0b0b0" stroke-width="0.9"/>
<circle cx="382.13" cy="289.04" r="1.65" fill="#d8d8d8" stroke="#b0b0b0" stroke-width="0.9"/>
<circle cx="389.02" cy="289.04" r="1.65" fill="#d8d8d8" stroke="#b0b0b0" stroke-width="0.9"/>
<circle cx="395.92" cy="289.04" r="1.65" fill="#d8d8d8" stroke="#b0b0b0" stroke-width="0.9"/>
<circle cx="402.81" cy="289.04" r="1.65" fill="#d8d8d8" stroke="#b0b0b0" stroke-width="0.9"/>
<circle cx="237.4" cy="295.92" r="1.65" fill="#d8d8d8" stroke="#b0b0b0" stroke-width="0.9"/>
<circle cx="244.29" cy="295.92" r="1.65" fill="#d8d8d8" stroke="#b0b0b0" stroke-width="0.9"/>
<circle cx="251.18" cy="295.92" r="1.65" fill="#d8d8d8" stroke="#b0b0b0" stroke-width="0.9"/>
<circle cx="258.08" cy="295.92" r="1.65" fill="#d8d8d8" stroke="#b0b0b0" stroke-width="0.9"/>
<circle cx="264.97" cy="295.92" r="1.65" fill="#d8d8d8" stroke="#b0b0b0" stroke-width="0.9"/>
<circle cx="271.86" cy="295.92" r="1.65" fill="#d8d8d8" stroke="#b0b0b0" stroke-width="0.9"/>
<circle cx="278.75" cy="295.92" r="1.65" fill="#d8d8d8" stroke="#b0b0b0" stroke-width="0.9"/>
<circle cx="285.64" cy="295.92" r="1.65" fill="#d8d8d8" stroke="#b0b0b0" stroke-width="0.9"/>
<circle cx="292.54" cy="295.92" r="1.65" fill="#d8d8d8" stroke="#b0b0b0" stroke-width="0.9"/>
<circle cx="299.43" cy="295.92" r="1.65" fill="#d8d8d8" stroke="#b0b0b0" stroke-width="0.9"/>
<circle cx="306.32" cy="295.92" r="1.65" fill="#d8d8d8" stroke="#b0b0b0" stroke-width="0.9"/>
<circle cx="313.21" cy="295.92" r="1.65" fill="#d8d8d8" stroke="#b0b0b0" stroke-width="0.9"/>
<circle cx="320.1" cy="295.92" r="1.65" fill="#d8d8d8" stroke="#b0b0b0" stroke-width="0.9"/>
<circle cx="327" cy="295.92" r="1.65" fill="#d8d8d8" stroke="#b0b0b0" stroke-width="0.9"/>
<circle cx="333.89" cy="295.92" r="1.65" fill="#d8d8d8" stroke="#b0b0b0" stroke-width="0.9"/>
<circle cx="340.78" cy="295.92" r="1.65" fill="#d8d8d8" stroke="#b0b0b0" stroke-width="0.9"/>
<circle cx="347.67" cy="295.92" r="1.65" fill="#d8d8d8" stroke="#b0b0b0" stroke-width="0.9"/>
<circle cx="354.56" cy="295.92" r="1.65" fill="#d8d8d8" stroke="#b0b0b0" stroke-width="0.9"/>
<circle cx="361.46" cy="295.92" r="1.65" fill="#d8d8d8" stroke="#b0b0b0" stroke-width="0.9"/>
<circle cx="368.35" cy="295.92" r="1.65" fill="#d8d8d8" stroke="#b0b0b0" stroke-width="0.9"/>
<circle cx="375.24" cy="295.92" r="1.65" fill="#d8d8d8" stroke="#b0b0b0" stroke-width="0.9"/>
<circle cx="382.13" cy="295.92" r="1.65" fill="#d8d8d8" stroke="#b0b0b0" stroke-width="0.9"/>
<circle cx="389.02" cy="295.92" r="1.65" fill="#d8d8d8" stroke="#b0b0b0" stroke-width="0.9"/>
<circle cx="395.92" cy="295.92" r="1.65" fill="#d8d8d8" stroke="#b0b0b0" stroke-width="0.9"/>
<circle cx="402.81" cy="295.92" r="1.65" fill="#d8d8d8" stroke="#b0b0b0" stroke-width="0.9"/>
<circle cx="237.4" cy="302.8" r="1.65" fill="#d8d8d8" stroke="#b0b0b0" stroke-width="0.9"/>
<circle cx="244.29" cy="302.8" r="1.65" fill="#d8d8d8" stroke="#b0b0b0" stroke-width="0.9"/>
<circle cx="251.18" cy="302.8" r="1.65" fill="#d8d8d8" stroke="#b0b0b0" stroke-width="0.9"/>
<circle cx="258.08" cy="302.8" r="1.65" fill="#d8d8d8" stroke="#b0b0b0" stroke-width="0.9"/>
<circle cx="264.97" cy="302.8" r="1.65" fill="#d8d8d8" stroke="#b0b0b0" stroke-width="0.9"/>
<circle cx="271.86" cy="302.8" r="1.65" fill="#d8d8d8" stroke="#b0b0b0" stroke-width="0.9"/>
<circle cx="278.75" cy="302.8" r="1.65" fill="#d8d8d8" stroke="#b0b0b0" stroke-width="0.9"/>
<circle cx="285.64" cy="302.8" r="1.65" fill="#d8d8d8" stroke="#b0b0b0" stroke-width="0.9"/>
<circle cx="292.54" cy="302.8" r="1.65" fill="#d8d8d8" stroke="#b0b0b0" stroke-width="0.9"/>
<circle cx="299.43" cy="302.8" r="1.65" fill="#d8d8d8" stroke="#b0b0b0" stroke-width="0.9"/>
<circle cx="306.32" cy="302.8" r="1.65" fill="#d8d8d8" stroke="#b0b0b0" stroke-width="0.9"/>
<circle cx="313.21" cy="302.8" r="1.65" fill="#d8d8d8" stroke="#b0b0b0" stroke-width="0.9"/>
<circle cx="320.1" cy="302.8" r="1.65" fill="#d8d8d8" stroke="#b0b0b0" stroke-width="0.9"/>
<circle cx="327" cy="302.8" r="1.65" fill="#d8d8d8" stroke="#b0b0b0" stroke-width="0.9"/>
<circle cx="333.89" cy="302.8" r="1.65" fill="#d8d8d8" stroke="#b0b0b0" stroke-width="0.9"/>
<circle cx="340.78" cy="302.8" r="1.65" fill="#d8d8d8" stroke="#b0b0b0" stroke-width="0.9"/>
<circle cx="347.67" cy="302.8" r="1.65" fill="#d8d8d8" stroke="#b0b0b0" stroke-width="0.9"/>
<circle cx="354.56" cy="302.8" r="1.65" fill="#d8d8d8" stroke="#b0b0b0" stroke-width="0.9"/>
<circle cx="361.46" cy="302.8" r="1.65" fill="#d8d8d8" stroke="#b0b0b0" stroke-width="0.9"/>
<circle cx="368.35" cy="302.8" r="1.65" fill="#d8d8d8" stroke="#b0b0b0" stroke-width="0.9"/>
<circle cx="375.24" cy="302.8" r="1.65" fill="#d8d8d8" stroke="#b0b0b0" stroke-width="0.9"/>
<circle cx="382.13" cy="302.8" r="1.65" fill="#d8d8d8" stroke="#b0b0b0" stroke-width="0.9"/>
<circle cx="389.02" cy="302.8" r="1.65" fill="#d8d8d8" stroke="#b0b0b0" stroke-width="0.9"/>
<circle cx="395.92" cy="302.8" r="1.65" fill="#d8d8d8" stroke="#b0b0b0" stroke-width="0.9"/>
<circle cx="402.81" cy="302.8" r="1.65" fill="#d8d8d8" stroke="#b0b0b0" stroke-width="0.9"/>
<circle cx="237.4" cy="309.68" r="1.65" fill="#d8d8d8" stroke="#b0b0b0" stroke-width="0.9"/>
<circle cx="244.29" cy="309.68" r="1.65" fill="#d8d8d8" stroke="#b0b0b0" stroke-width="0.9"/>
<circle cx="251.18" cy="309.68" r="1.65" fill="#d8d8d8" stroke="#b0b0b0" stroke-width="0.9"/>
<circle cx="258.08" cy="309.68" r="1.65" fill="#d8d8d8" stroke="#b0b0b0" stroke-width="0.9"/>
<circle cx="264.97" cy="309.68" r="1.65" fill="#d8d8d8" stroke="#b0b0b0" stroke-width="0.9"/>
<circle cx="271.86" cy="309.68" r="1.65" fill="#d8d8d8" stroke="#b0b0b0" stroke-width="0.9"/>
<circle cx="278.75" cy="309.68" r="1.65" fill="#d8d8d8" stroke="#b0b0b0" stroke-width="0.9"/>
<circle cx="285.64" cy="309.68" r="1.65" fill="#d8d8d8" stroke="#b0b0b0" stroke-width="0.9"/>
<circle cx="292.54" cy="309.68" r="1.65" fill="#d8d8d8" stroke="#b0b0b0" stroke-width="0.9"/>
<circle cx="299.43" cy="309.68" r="1.65" fill="#d8d8d8" stroke="#b0b0b0" stroke-width="0.9"/>
<circle cx="306.32" cy="309.68" r="1.65" fill="#d8d8d8" stroke="#b0b0b0" stroke-width="0.9"/>
<circle cx="313.21" cy="309.68" r="1.65" fill="#d8d8d8" stroke="#b0b0b0" stroke-width="0.9"/>
<circle cx="320.1" cy="309.68" r="1.65" fill="#d8d8d8" stroke="#b0b0b0" stroke-width="0.9"/>
<circle cx="327" cy="309.68" r="1.65" fill="#d8d8d8" stroke="#b0b0b0" stroke-width="0.9"/>
<circle cx="333.89" cy="309.68" r="1.65" fill="#d8d8d8" stroke="#b0b0b0" stroke-width="0.9"/>
<circle cx="340.78" cy="309.68" r="1.65" fill="#d8d8d8" stroke="#b0b0b0" stroke-width="0.9"/>
<circle cx="347.67" cy="309.68" r="1.65" fill="#d8d8d8" stroke="#b0b0b0" stroke-width="0.9"/>
<circle cx="354.56" cy="309.68" r="1.65" fill="#d8d8d8" stroke="#b0b0b0" stroke-width="0.9"/>
<circle cx="361.46" cy="309.68" r="1.65" fill="#d8d8d8" stroke="#b0b0b0" stroke-width="0.9"/>
<circle cx="368.35" cy="309.68" r="1.65" fill="#d8d8d8" stroke="#b0b0b0" stroke-width="0.9"/>
<circle cx="375.24" cy="309.68" r="1.65" fill="#d8d8d8" stroke="#b0b0b0" stroke-width="0.9"/>
<circle cx="382.13" cy="309.68" r="1.65" fill="#d8d8d8" stroke="#b0b0b0" stroke-width="0.9"/>
<circle cx="389.02" cy="309.68" r="1.65" fill="#d8d8d8" stroke="#b0b0b0" stroke-width="0.9"/>
<circle cx="395.92" cy="309.68" r="1.65" fill="#d8d8d8" stroke="#b0b0b0" stroke-width="0.9"/>
<circle cx="402.81" cy="309.68" r="1.65" fill="#d8d8d8" stroke="#b0b0b0" stroke-width="0.9"/>
<circle cx="237.4" cy="316.56" r="1.65" fill="#d8d8d8" stroke="#b0b0b0" stroke-width="0.9"/>
<circle cx="244.29" cy="316.56" r="1.65" fill="#d8d8d8" stroke="#b0b0b0" stroke-width="0.9"/>
<circle cx="251.18" cy="316.56" r="1.65" fill="#d8d8d8" stroke="#b0b0b0" stroke-width="0.9"/>
<circle cx="258.08" cy="316.56" r="1.65" fill="#d8d8d8" stroke="#b0b0b0" stroke-width="0.9"/>
<circle cx="264.97" cy="316.56" r="1.65" fill="#d8d8d8" stroke="#b0b0b0" stroke-width="0.9"/>
<circle cx="271.86" cy="316.56" r="1.65" fill="#d8d8d8" stroke="#b0b0b0" stroke-width="0.9"/>
<circle cx="278.75" cy="316.56" r="1.65" fill="#d8d8d8" stroke="#b0b0b0" stroke-width="0.9"/>
<circle cx="285.64" cy="316.56" r="1.65" fill="#d8d8d8" stroke="#b0b0b0" stroke-width="0.9"/>
<circle cx="292.54" cy="316.56" r="1.65" fill="#d8d8d8" stroke="#b0b0b0" stroke-width="0.9"/>
<circle cx="299.43" cy="316.56" r="1.65" fill="#d8d8d8" stroke="#b0b0b0" stroke-width="0.9"/>
<circle cx="306.32" cy="316.56" r="1.65" fill="#d8d8d8" stroke="#b0b0b0" stroke-width="0.9"/>
<circle cx="313.21" cy="316.56" r="1.65" fill="#d8d8d8" stroke="#b0b0b0" stroke-width="0.9"/>
<circle cx="320.1" cy="316.56" r="1.65" fill="#d8d8d8" stroke="#b0b0b0" stroke-width="0.9"/>
<circle cx="327" cy="316.56" r="1.65" fill="#d8d8d8" stroke="#b0b0b0" stroke-width="0.9"/>
<circle cx="333.89" cy="316.56" r="1.65" fill="#d8d8d8" stroke="#b0b0b0" stroke-width="0.9"/>
<circle cx="340.78" cy="316.56" r="1.65" fill="#d8d8d8" stroke="#b0b0b0" stroke-width="0.9"/>
<circle cx="347.67" cy="316.56" r="1.65" fill="#d8d8d8" stroke="#b0b0b0" stroke-width="0.9"/>
<circle cx="354.56" cy="316.56" r="1.65" fill="#d8d8d8" stroke="#b0b0b0" stroke-width="0.9"/>
<circle cx="361.46" cy="316.56" r="1.65" fill="#d8d8d8" stroke="#b0b0b0" stroke-width="0.9"/>
<circle cx="368.35" cy="316.56" r="1.65" fill="#d8d8d8" stroke="#b0b0b0" stroke-width="0.9"/>
<circle cx="375.24" cy="316.56" r="1.65" fill="#d8d8d8" stroke="#b0b0b0" stroke-width="0.9"/>
<circle cx="382.13" cy="316.56" r="1.65" fill="#d8d8d8" stroke="#b0b0b0" stroke-width="0.9"/>
<circle cx="389.02" cy="316.56" r="1.65" fill="#d8d8d8" stroke="#b0b0b0" stroke-width="0.9"/>
<circle cx="395.92" cy="316.56" r="1.65" fill="#d8d8d8" stroke="#b0b0b0" stroke-width="0.9"/>
<circle cx="402.81" cy="316.56" r="1.65" fill="#d8d8d8" stroke="#b0b0b0" stroke-width="0.9"/>
<circle cx="237.4" cy="323.44" r="1.65" fill="#d8d8d8" stroke="#b0b0b0" stroke-width="0.9"/>
<circle cx="244.29" cy="323.44" r="1.65" fill="#d8d8d8" stroke="#b0b0b0" stroke-width="0.9"/>
<circle cx="251.18" cy="323.44" r="1.65" fill="#d8d8d8" stroke="#b0b0b0" stroke-width="0.9"/>
<circle cx="258.08" cy="323.44" r="1.65" fill="#d8d8d8" stroke="#b0b0b0" stroke-width="0.9"/>
<circle cx="264.97" cy="323.44" r="1.65" fill="#d8d8d8" stroke="#b0b0b0" stroke-width="0.9"/>
<circle cx="271.86" cy="323.44" r="1.65" fill="#d8d8d8" stroke="#b0b0b0" stroke-width="0.9"/>
<circle cx="278.75" cy="323.44" r="1.65" fill="#d8d8d8" stroke="#b0b0b0" stroke-width="0.9"/>
<circle cx="285.64" cy="323.44" r="1.65" fill="#d8d8d8" stroke="#b0b0b0" stroke-width="0.9"/>
<circle cx="292.54" cy="323.44" r="1.65" fill="#d8d8d8" stroke="#b0b0b0" stroke-width="0.9"/>
<circle cx="299.43" cy="323.44" r="1.65" fill="#d8d8d8" stroke="#b0b0b0" stroke-width="0.9"/>
<circle cx="306.32" cy="323.44" r="1.65" fill="#d8d8d8" stroke="#b0b0b0" stroke-width="0.9"/>
<circle cx="313.21" cy="323.44" r="1.65" fill="#d8d8d8" stroke="#b0b0b0" stroke-width="0.9"/>
<circle cx="320.1" cy="323.44" r="1.65" fill="#d8d8d8" stroke="#b0b0b0" stroke-width="0.9"/>
<circle cx="327" cy="323.44" r="1.65" fill="#d8d8d8" stroke="#b0b0b0" stroke-width="0.9"/>
<circle cx="333.89" cy="323.44" r="1.65" fill="#d8d8d8" stroke="#b0b0b0" stroke-width="0.9"/>
<circle cx="340.78" cy="323.44" r="1.65" fill="#d8d8d8" stroke="#b0b0b0" stroke-width="0.9"/>
<circle cx="347.67" cy="323.44" r="1.65" fill="#d8d8d8" stroke="#b0b0b0" stroke-width="0.9"/>
<circle cx="354.56" cy="323.44" r="1.65" fill="#d8d8d8" stroke="#b0b0b0" stroke-width="0.9"/>
<circle cx="361.46" cy="323.44" r="1.65" fill="#d8d8d8" stroke="#b0b0b0" stroke-width="0.9"/>
<circle cx="368.35" cy="323.44" r="1.65" fill="#d8d8d8" stroke="#b0b0b0" stroke-width="0.9"/>
<circle cx="375.24" cy="323.44" r="1.65" fill="#d8d8d8" stroke="#b0b0b0" stroke-width="0.9"/>
<circle cx="382.13" cy="323.44" r="1.65" fill="#d8d8d8" stroke="#b0b0b0" stroke-width="0.9"/>
<circle cx="389.02" cy="323.44" r="1.65" fill="#d8d8d8" stroke="#b0b0b0" stroke-width="0.9"/>
<circle cx="395.92" cy="323.44" r="1.65" fill="#d8d8d8" stroke="#b0b0b0" stroke-width="0.9"/>
<circle cx="402.81" cy="323.44" r="1.65" fill="#d8d8d8" stroke="#b0b0b0" stroke-width="0.9"/>
<circle cx="237.4" cy="330.32" r="1.65" fill="#d8d8d8" stroke="#b0b0b0" stroke-width="0.9"/>
<circle cx="244.29" cy="330.32" r="1.65" fill="#d8d8d8" stroke="#b0b0b0" stroke-width="0.9"/>
<circle cx="251.18" cy="330.32" r="1.65" fill="#d8d8d8" stroke="#b0b0b0" stroke-width="0.9"/>
<circle cx="258.08" cy="330.32" r="1.65" fill="#d8d8d8" stroke="#b0b0b0" stroke-width="0.9"/>
<circle cx="264.97" cy="330.32" r="1.65" fill="#d8d8d8" stroke="#b0b0b0" stroke-width="0.9"/>
<circle cx="271.86" cy="330.32" r="1.65" fill="#d8d8d8" stroke="#b0b0b0" stroke-width="0.9"/>
<circle cx="278.75" cy="330.32" r="1.65" fill="#d8d8d8" stroke="#b0b0b0" stroke-width="0.9"/>
<circle cx="285.64" cy="330.32" r="1.65" fill="#d8d8d8" stroke="#b0b0b0" stroke-width="0.9"/>
<circle cx="292.54" cy="330.32" r="1.65" fill="#d8d8d8" stroke="#b0b0b0" stroke-width="0.9"/>
<circle cx="299.43" cy="330.32" r="1.65" fill="#d8d8d8" stroke="#b0b0b0" stroke-width="0.9"/>
<circle cx="306.32" cy="330.32" r="1.65" fill="#d8d8d8" stroke="#b0b0b0" stroke-width="0.9"/>
<circle cx="313.21" cy="330.32" r="1.65" fill="#d8d8d8" stroke="#b0b0b0" stroke-width="0.9"/>
<circle cx="320.1" cy="330.32" r="1.65" fill="#d8d8d8" stroke="#b0b0b0" stroke-width="0.9"/>
<circle cx="327" cy="330.32" r="1.65" fill="#d8d8d8" stroke="#b0b0b0" stroke-width="0.9"/>
<circle cx="333.89" cy="330.32" r="1.65" fill="#d8d8d8" stroke="#b0b0b0" stroke-width="0.9"/>
<circle cx="340.78" cy="330.32" r="1.65" fill="#d8d8d8" stroke="#b0b0b0" stroke-width="0.9"/>
<circle cx="347.67" cy="330.32" r="1.65" fill="#d8d8d8" stroke="#b0b0b0" stroke-width="0.9"/>
<circle cx="354.56" cy="330.32" r="1.65" fill="#d8d8d8" stroke="#b0b0b0" stroke-width="0.9"/>
<circle cx="361.46" cy="330.32" r="1.65" fill="#d8d8d8" stroke="#b0b0b0" stroke-width="0.9"/>
<circle cx="368.35" cy="330.32" r="1.65" fill="#d8d8d8" stroke="#b0b0b0" stroke-width="0.9"/>
<circle cx="375.24" cy="330.32" r="1.65" fill="#d8d8d8" stroke="#b0b0b0" stroke-width="0.9"/>
<circle cx="382.13" cy="330.32" r="1.65" fill="#d8d8d8" stroke="#b0b0b0" stroke-width="0.9"/>
<circle cx="389.02" cy="330.32" r="1.65" fill="#d8d8d8" stroke="#b0b0b0" stroke-width="0.9"/>
<circle cx="395.92" cy="330.32" r="1.65" fill="#d8d8d8" stroke="#b0b0b0" stroke-width="0.9"/>
<circle cx="402.81" cy="330.32" r="1.65" fill="#d8d8d8" stroke="#b0b0b0" stroke-width="0.9"/>
<circle cx="237.4" cy="337.2" r="1.65" fill="#d8d8d8" stroke="#b0b0b0" stroke-width="0.9"/>
<circle cx="244.29" cy="337.2" r="1.65" fill="#d8d8d8" stroke="#b0b0b0" stroke-width="0.9"/>
<circle cx="251.18" cy="337.2" r="1.65" fill="#d8d8d8" stroke="#b0b0b0" stroke-width="0.9"/>
<circle cx="258.08" cy="337.2" r="1.65" fill="#d8d8d8" stroke="#b0b0b0" stroke-width="0.9"/>
<circle cx="264.97" cy="337.2" r="1.65" fill="#d8d8d8" stroke="#b0b0b0" stroke-width="0.9"/>
<circle cx="271.86" cy="337.2" r="1.65" fill="#d8d8d8" stroke="#b0b0b0" stroke-width="0.9"/>
<circle cx="278.75" cy="337.2" r="1.65" fill="#d8d8d8" stroke="#b0b0b0" stroke-width="0.9"/>
<circle cx="285.64" cy="337.2" r="1.65" fill="#d8d8d8" stroke="#b0b0b0" stroke-width="0.9"/>
<circle cx="292.54" cy="337.2" r="1.65" fill="#d8d8d8" stroke="#b0b0b0" stroke-width="0.9"/>
<circle cx="299.43" cy="337.2" r="1.65" fill="#d8d8d8" stroke="#b0b0b0" stroke-width="0.9"/>
<circle cx="306.32" cy="337.2" r="1.65" fill="#d8d8d8" stroke="#b0b0b0" stroke-width="0.9"/>
<circle cx="313.21" cy="337.2" r="1.65" fill="#d8d8d8" stroke="#b0b0b0" stroke-width="0.9"/>
<circle cx="320.1" cy="337.2" r="1.65" fill="#d8d8d8" stroke="#b0b0b0" stroke-width="0.9"/>
<circle cx="327" cy="337.2" r="1.65" fill="#d8d8d8" stroke="#b0b0b0" stroke-width="0.9"/>
<circle cx="333.89" cy="337.2" r="1.65" fill="#d8d8d8" stroke="#b0b0b0" stroke-width="0.9"/>
<circle cx="340.78" cy="337.2" r="1.65" fill="#d8d8d8" stroke="#b0b0b0" stroke-width="0.9"/>
<circle cx="347.67" cy="337.2" r="1.65" fill="#d8d8d8" stroke="#b0b0b0" stroke-width="0.9"/>
<circle cx="354.56" cy="337.2" r="1.65" fill="#d8d8d8" stroke="#b0b0b0" stroke-width="0.9"/>
<circle cx="361.46" cy="337.2" r="1.65" fill="#d8d8d8" stroke="#b0b0b0" stroke-width="0.9"/>
<circle cx="368.35" cy="337.2" r="1.65" fill="#d8d8d8" stroke="#b0b0b0" stroke-width="0.9"/>
<circle cx="375.24" cy="337.2" r="1.65" fill="#d8d8d8" stroke="#b0b0b0" stroke-width="0.9"/>
<circle cx="382.13" cy="337.2" r="1.65" fill="#d8d8d8" stroke="#b0b0b0" stroke-width="0.9"/>
<circle cx="389.02" cy="337.2" r="1.65" fill="#d8d8d8" stroke="#b0b0b0" stroke-width="0.9"/>
<circle cx="395.92" cy="337.2" r="1.65" fill="#d8d8d8" stroke="#b0b0b0" stroke-width="0.9"/>
<circle cx="402.81" cy="337.2" r="1.65" fill="#d8d8d8" stroke="#b0b0b0" stroke-width="0.9"/>
<circle cx="237.4" cy="344.08" r="1.65" fill="#d8d8d8" stroke="#b0b0b0" stroke-width="0.9"/>
<circle cx="244.29" cy="344.08" r="1.65" fill="#d8d8d8" stroke="#b0b0b0" stroke-width="0.9"/>
<circle cx="251.18" cy="344.08" r="1.65" fill="#d8d8d8" stroke="#b0b0b0" stroke-width="0.9"/>
<circle cx="258.08" cy="344.08" r="1.65" fill="#d8d8d8" stroke="#b0b0b0" stroke-width="0.9"/>
<circle cx="264.97" cy="344.08" r="1.65" fill="#d8d8d8" stroke="#b0b0b0" stroke-width="0.9"/>
<circle cx="271.86" cy="344.08" r="1.65" fill="#d8d8d8" stroke="#b0b0b0" stroke-width="0.9"/>
<circle cx="278.75" cy="344.08" r="1.65" fill="#d8d8d8" stroke="#b0b0b0" stroke-width="0.9"/>
<circle cx="285.64" cy="344.08" r="1.65" fill="#d8d8d8" stroke="#b0b0b0" stroke-width="0.9"/>
<circle cx="292.54" cy="344.08" r="1.65" fill="#d8d8d8" stroke="#b0b0b0" stroke-width="0.9"/>
<circle cx="299.43" cy="344.08" r="1.65" fill="#d8d8d8" stroke="#b0b0b0" stroke-width="0.9"/>
<circle cx="306.32" cy="344.08" r="1.65" fill="#d8d8d8" stroke="#b0b0b0" stroke-width="0.9"/>
<circle cx="313.21" cy="344.08" r="1.65" fill="#d8d8d8" stroke="#b0b0b0" stroke-width="0.9"/>
<circle cx="320.1" cy="344.08" r="1.65" fill="#d8d8d8" stroke="#b0b0b0" stroke-width="0.9"/>
<circle cx="327" cy="344.08" r="1.65" fill="#d8d8d8" stroke="#b0b0b0" stroke-width="0.9"/>
<circle cx="333.89" cy="344.08" r="1.65" fill="#d8d8d8" stroke="#b0b0b0" stroke-width="0.9"/>
<circle cx="340.78" cy="344.08" r="1.65" fill="#d8d8d8" stroke="#b0b0b0" stroke-width="0.9"/>
<circle cx="347.67" cy="344.08" r="1.65" fill="#d8d8d8" stroke="#b0b0b0" stroke-width="0.9"/>
<circle cx="354.56" cy="344.08" r="1.65" fill="#d8d8d8" stroke="#b0b0b0" stroke-width="0.9"/>
<circle cx="361.46" cy="344.08" r="1.65" fill="#d8d8d8" stroke="#b0b0b0" stroke-width="0.9"/>
<circle cx="368.35" cy="344.08" r="1.65" fill="#d8d8d8" stroke="#b0b0b0" stroke-width="0.9"/>
<circle cx="375.24" cy="344.08" r="1.65" fill="#d8d8d8" stroke="#b0b0b0" stroke-width="0.9"/>
<circle cx="382.13" cy="344.08" r="1.65" fill="#d8d8d8" stroke="#b0b0b0" stroke-width="0.9"/>
<circle cx="389.02" cy="344.08" r="1.65" fill="#d8d8d8" stroke="#b0b0b0" stroke-width="0.9"/>
<circle cx="395.92" cy="344.08" r="1.65" fill="#d8d8d8" stroke="#b0b0b0" stroke-width="0.9"/>
<circle cx="402.81" cy="344.08" r="1.65" fill="#d8d8d8" stroke="#b0b0b0" stroke-width="0.9"/>
<circle cx="237.4" cy="350.96" r="1.65" fill="#d8d8d8" stroke="#b0b0b0" stroke-width="0.9"/>
<circle cx="244.29" cy="350.96" r="1.65" fill="#d8d8d8" stroke="#b0b0b0" stroke-width="0.9"/>
<circle cx="251.18" cy="350.96" r="1.65" fill="#d8d8d8" stroke="#b0b0b0" stroke-width="0.9"/>
<circle cx="258.08" cy="350.96" r="1.65" fill="#d8d8d8" stroke="#b0b0b0" stroke-width="0.9"/>
<circle cx="264.97" cy="350.96" r="1.65" fill="#d8d8d8" stroke="#b0b0b0" stroke-width="0.9"/>
<circle cx="271.86" cy="350.96" r="1.65" fill="#d8d8d8" stroke="#b0b0b0" stroke-width="0.9"/>
<circle cx="278.75" cy="350.96" r="1.65" fill="#d8d8d8" stroke="#b0b0b0" stroke-width="0.9"/>
<circle cx="285.64" cy="350.96" r="1.65" fill="#d8d8d8" stroke="#b0b0b0" stroke-width="0.9"/>
<circle cx="292.54" cy="350.96" r="1.65" fill="#d8d8d8" stroke="#b0b0b0" stroke-width="0.9"/>
<circle cx="299.43" cy="350.96" r="1.65" fill="#d8d8d8" stroke="#b0b0b0" stroke-width="0.9"/>
<circle cx="306.32" cy="350.96" r="1.65" fill="#d8d8d8" stroke="#b0b0b0" stroke-width="0.9"/>
<circle cx="313.21" cy="350.96" r="1.65" fill="#d8d8d8" stroke="#b0b0b0" stroke-width="0.9"/>
<circle cx="320.1" cy="350.96" r="1.65" fill="#d8d8d8" stroke="#b0b0b0" stroke-width="0.9"/>
<circle cx="327" cy="350.96" r="1.65" fill="#d8d8d8" stroke="#b0b0b0" stroke-width="0.9"/>
<circle cx="333.89" cy="350.96" r="1.65" fill="#d8d8d8" stroke="#b0b0b0" stroke-width="0.9"/>
<circle cx="340.78" cy="350.96" r="1.65" fill="#d8d8d8" stroke="#b0b0b0" stroke-width="0.9"/>
<circle cx="347.67" cy="350.96" r="1.65" fill="#d8d8d8" stroke="#b0b0b0" stroke-width="0.9"/>
<circle cx="354.56" cy="350.96" r="1.65" fill="#d8d8d8" stroke="#b0b0b0" stroke-width="0.9"/>
<circle cx="361.46" cy="350.96" r="1.65" fill="#d8d8d8" stroke="#b0b0b0" stroke-width="0.9"/>
<circle cx="368.35" cy="350.96" r="1.65" fill="#d8d8d8" stroke="#b0b0b0" stroke-width="0.9"/>
<circle cx="375.24" cy="350.96" r="1.65" fill="#d8d8d8" stroke="#b0b0b0" stroke-width="0.9"/>
<circle cx="382.13" cy="350.96" r="1.65" fill="#d8d8d8" stroke="#b0b0b0" stroke-width="0.9"/>
<circle cx="389.02" cy="350.96" r="1.65" fill="#d8d8d8" stroke="#b0b0b0" stroke-width="0.9"/>
<circle cx="395.92" cy="350.96" r="1.65" fill="#d8d8d8" stroke="#b0b0b0" stroke-width="0.9"/>
<circle cx="402.81" cy="350.96" r="1.65" fill="#d8d8d8" stroke="#b0b0b0" stroke-width="0.9"/>
<circle cx="237.4" cy="357.84" r="1.65" fill="#d8d8d8" stroke="#b0b0b0" stroke-width="0.9"/>
<circle cx="244.29" cy="357.84" r="1.65" fill="#d8d8d8" stroke="#b0b0b0" stroke-width="0.9"/>
<circle cx="251.18" cy="357.84" r="1.65" fill="#d8d8d8" stroke="#b0b0b0" stroke-width="0.9"/>
<circle cx="258.08" cy="357.84" r="1.65" fill="#d8d8d8" stroke="#b0b0b0" stroke-width="0.9"/>
<circle cx="264.97" cy="357.84" r="1.65" fill="#d8d8d8" stroke="#b0b0b0" stroke-width="0.9"/>
<circle cx="271.86" cy="357.84" r="1.65" fill="#d8d8d8" stroke="#b0b0b0" stroke-width="0.9"/>
<circle cx="278.75" cy="357.84" r="1.65" fill="#d8d8d8" stroke="#b0b0b0" stroke-width="0.9"/>
<circle cx="285.64" cy="357.84" r="1.65" fill="#d8d8d8" stroke="#b0b0b0" stroke-width="0.9"/>
<circle cx="292.54" cy="357.84" r="1.65" fill="#d8d8d8" stroke="#b0b0b0" stroke-width="0.9"/>
<circle cx="299.43" cy="357.84" r="1.65" fill="#d8d8d8" stroke="#b0b0b0" stroke-width="0.9"/>
<circle cx="306.32" cy="357.84" r="1.65" fill="#d8d8d8" stroke="#b0b0b0" stroke-width="0.9"/>
<circle cx="313.21" cy="357.84" r="1.65" fill="#d8d8d8" stroke="#b0b0b0" stroke-width="0.9"/>
<circle cx="320.1" cy="357.84" r="1.65" fill="#d8d8d8" stroke="#b0b0b0" stroke-width="0.9"/>
<circle cx="327" cy="357.84" r="1.65" fill="#d8d8d8" stroke="#b0b0b0" stroke-width="0.9"/>
<circle cx="333.89" cy="357.84" r="1.65" fill="#d8d8d8" stroke="#b0b0b0" stroke-width="0.9"/>
<circle cx="340.78" cy="357.84" r="1.65" fill="#d8d8d8" stroke="#b0b0b0" stroke-width="0.9"/>
<circle cx="347.67" cy="357.84" r="1.65" fill="#d8d8d8" stroke="#b0b0b0" stroke-width="0.9"/>
<circle cx="354.56" cy="357.84" r="1.65" fill="#d8d8d8" stroke="#b0b0b0" stroke-width="0.9"/>
<circle cx="361.46" cy="357.84" r="1.65" fill="#d8d8d8" stroke="#b0b0b0" stroke-width="0.9"/>
<circle cx="368.35" cy="357.84" r="1.65" fill="#d8d8d8" stroke="#b0b0b0" stroke-width="0.9"/>
<circle cx="375.24" cy="357.84" r="1.65" fill="#d8d8d8" stroke="#b0b0b0" stroke-width="0.9"/>
<circle cx="382.13" cy="357.84" r="1.65" fill="#d8d8d8" stroke="#b0b0b0" stroke-width="0.9"/>
<circle cx="389.02" cy="357.84" r="1.65" fill="#d8d8d8" stroke="#b0b0b0" stroke-width="0.9"/>
<circle cx="395.92" cy="357.84" r="1.65" fill="#d8d8d8" stroke="#b0b0b0" stroke-width="0.9"/>
<circle cx="402.81" cy="357.84" r="1.65" fill="#d8d8d8" stroke="#b0b0b0" stroke-width="0.9"/>
<circle cx="237.4" cy="364.72" r="1.65" fill="#d8d8d8" stroke="#b0b0b0" stroke-width="0.9"/>
<circle cx="244.29" cy="364.72" r="1.65" fill="#d8d8d8" stroke="#b0b0b0" stroke-width="0.9"/>
<circle cx="251.18" cy="364.72" r="1.65" fill="#d8d8d8" stroke="#b0b0b0" stroke-width="0.9"/>
<circle cx="258.08" cy="364.72" r="1.65" fill="#d8d8d8" stroke="#b0b0b0" stroke-width="0.9"/>
<circle cx="264.97" cy="364.72" r="1.65" fill="#d8d8d8" stroke="#b0b0b0" stroke-width="0.9"/>
<circle cx="271.86" cy="364.72" r="1.65" fill="#d8d8d8" stroke="#b0b0b0" stroke-width="0.9"/>
<circle cx="278.75" cy="364.72" r="1.65" fill="#d8d8d8" stroke="#b0b0b0" stroke-width="0.9"/>
<circle cx="285.64" cy="364.72" r="1.65" fill="#d8d8d8" stroke="#b0b0b0" stroke-width="0.9"/>
<circle cx="292.54" cy="364.72" r="1.65" fill="#d8d8d8" stroke="#b0b0b0" stroke-width="0.9"/>
<circle cx="299.43" cy="364.72" r="1.65" fill="#d8d8d8" stroke="#b0b0b0" stroke-width="0.9"/>
<circle cx="306.32" cy="364.72" r="1.65" fill="#d8d8d8" stroke="#b0b0b0" stroke-width="0.9"/>
<circle cx="313.21" cy="364.72" r="1.65" fill="#d8d8d8" stroke="#b0b0b0" stroke-width="0.9"/>
<circle cx="320.1" cy="364.72" r="1.65" fill="#d8d8d8" stroke="#b0b0b0" stroke-width="0.9"/>
<circle cx="327" cy="364.72" r="1.65" fill="#d8d8d8" stroke="#b0b0b0" stroke-width="0.9"/>
<circle cx="333.89" cy="364.72" r="1.65" fill="#d8d8d8" stroke="#b0b0b0" stroke-width="0.9"/>
<circle cx="340.78" cy="364.72" r="1.65" fill="#d8d8d8" stroke="#b0b0b0" stroke-width="0.9"/>
<circle cx="347.67" cy="364.72" r="1.65" fill="#d8d8d8" stroke="#b0b0b0" stroke-width="0.9"/>
<circle cx="354.56" cy="364.72" r="1.65" fill="#d8d8d8" stroke="#b0b0b0" stroke-width="0.9"/>
<circle cx="361.46" cy="364.72" r="1.65" fill="#d8d8d8" stroke="#b0b0b0" stroke-width="0.9"/>
<circle cx="368.35" cy="364.72" r="1.65" fill="#d8d8d8" stroke="#b0b0b0" stroke-width="0.9"/>
<circle cx="375.24" cy="364.72" r="1.65" fill="#d8d8d8" stroke="#b0b0b0" stroke-width="0.9"/>
<circle cx="382.13" cy="364.72" r="1.65" fill="#d8d8d8" stroke="#b0b0b0" stroke-width="0.9"/>
<circle cx="389.02" cy="364.72" r="1.65" fill="#d8d8d8" stroke="#b0b0b0" stroke-width="0.9"/>
<circle cx="395.92" cy="364.72" r="1.65" fill="#d8d8d8" stroke="#b0b0b0" stroke-width="0.9"/>
<circle cx="402.81" cy="364.72" r="1.65" fill="#d8d8d8" stroke="#b0b0b0" stroke-width="0.9"/>
<circle cx="484" cy="252.5" r="1.65" fill="#d8d8d8" stroke="#b0b0b0" stroke-width="0.9"/>
<circle cx="490.9" cy="252.5" r="1.65" fill="#d8d8d8" stroke="#b0b0b0" stroke-width="0.9"/>
<circle cx="497.8" cy="252.5" r="1.65" fill="#d8d8d8" stroke="#b0b0b0" stroke-width="0.9"/>
<circle cx="504.7" cy="252.5" r="1.65" fill="#d8d8d8" stroke="#b0b0b0" stroke-width="0.9"/>
<circle cx="511.6" cy="252.5" r="1.65" fill="#d8d8d8" stroke="#b0b0b0" stroke-width="0.9"/>
<circle cx="518.5" cy="252.5" r="1.65" fill="#d8d8d8" stroke="#b0b0b0" stroke-width="0.9"/>
<circle cx="525.4" cy="252.5" r="1.65" fill="#d8d8d8" stroke="#b0b0b0" stroke-width="0.9"/>
<circle cx="532.3" cy="252.5" r="1.65" fill="#d8d8d8" stroke="#b0b0b0" stroke-width="0.9"/>
<circle cx="539.2" cy="252.5" r="1.65" fill="#d8d8d8" stroke="#b0b0b0" stroke-width="0.9"/>
<circle cx="546.1" cy="252.5" r="1.65" fill="#d8d8d8" stroke="#b0b0b0" stroke-width="0.9"/>
<circle cx="553" cy="252.5" r="1.65" fill="#d8d8d8" stroke="#b0b0b0" stroke-width="0.9"/>
<circle cx="559.9" cy="252.5" r="1.65" fill="#d8d8d8" stroke="#b0b0b0" stroke-width="0.9"/>
<circle cx="566.8" cy="252.5" r="1.65" fill="#d8d8d8" stroke="#b0b0b0" stroke-width="0.9"/>
<circle cx="573.7" cy="252.5" r="1.65" fill="#d8d8d8" stroke="#b0b0b0" stroke-width="0.9"/>
<circle cx="580.6" cy="252.5" r="1.65" fill="#d8d8d8" stroke="#b0b0b0" stroke-width="0.9"/>
<circle cx="587.5" cy="252.5" r="1.65" fill="#d8d8d8" stroke="#b0b0b0" stroke-width="0.9"/>
<circle cx="484" cy="259.48" r="1.65" fill="#d8d8d8" stroke="#b0b0b0" stroke-width="0.9"/>
<circle cx="490.9" cy="259.48" r="1.65" fill="#d8d8d8" stroke="#b0b0b0" stroke-width="0.9"/>
<circle cx="497.8" cy="259.48" r="1.65" fill="#d8d8d8" stroke="#b0b0b0" stroke-width="0.9"/>
<circle cx="504.7" cy="259.48" r="1.65" fill="#d8d8d8" stroke="#b0b0b0" stroke-width="0.9"/>
<circle cx="511.6" cy="259.48" r="1.65" fill="#d8d8d8" stroke="#b0b0b0" stroke-width="0.9"/>
<circle cx="518.5" cy="259.48" r="1.65" fill="#d8d8d8" stroke="#b0b0b0" stroke-width="0.9"/>
<circle cx="525.4" cy="259.48" r="1.65" fill="#d8d8d8" stroke="#b0b0b0" stroke-width="0.9"/>
<circle cx="532.3" cy="259.48" r="1.65" fill="#d8d8d8" stroke="#b0b0b0" stroke-width="0.9"/>
<circle cx="539.2" cy="259.48" r="1.65" fill="#d8d8d8" stroke="#b0b0b0" stroke-width="0.9"/>
<circle cx="546.1" cy="259.48" r="1.65" fill="#d8d8d8" stroke="#b0b0b0" stroke-width="0.9"/>
<circle cx="553" cy="259.48" r="1.65" fill="#d8d8d8" stroke="#b0b0b0" stroke-width="0.9"/>
<circle cx="559.9" cy="259.48" r="1.65" fill="#d8d8d8" stroke="#b0b0b0" stroke-width="0.9"/>
<circle cx="566.8" cy="259.48" r="1.65" fill="#d8d8d8" stroke="#b0b0b0" stroke-width="0.9"/>
<circle cx="573.7" cy="259.48" r="1.65" fill="#d8d8d8" stroke="#b0b0b0" stroke-width="0.9"/>
<circle cx="580.6" cy="259.48" r="1.65" fill="#d8d8d8" stroke="#b0b0b0" stroke-width="0.9"/>
<circle cx="587.5" cy="259.48" r="1.65" fill="#d8d8d8" stroke="#b0b0b0" stroke-width="0.9"/>
<circle cx="484" cy="266.46" r="1.65" fill="#d8d8d8" stroke="#b0b0b0" stroke-width="0.9"/>
<circle cx="490.9" cy="266.46" r="1.65" fill="#d8d8d8" stroke="#b0b0b0" stroke-width="0.9"/>
<circle cx="497.8" cy="266.46" r="1.65" fill="#d8d8d8" stroke="#b0b0b0" stroke-width="0.9"/>
<circle cx="504.7" cy="266.46" r="1.65" fill="#d8d8d8" stroke="#b0b0b0" stroke-width="0.9"/>
<circle cx="511.6" cy="266.46" r="1.65" fill="#d8d8d8" stroke="#b0b0b0" stroke-width="0.9"/>
<circle cx="518.5" cy="266.46" r="1.65" fill="#d8d8d8" stroke="#b0b0b0" stroke-width="0.9"/>
<circle cx="525.4" cy="266.46" r="1.65" fill="#d8d8d8" stroke="#b0b0b0" stroke-width="0.9"/>
<circle cx="532.3" cy="266.46" r="1.65" fill="#d8d8d8" stroke="#b0b0b0" stroke-width="0.9"/>
<circle cx="539.2" cy="266.46" r="1.65" fill="#d8d8d8" stroke="#b0b0b0" stroke-width="0.9"/>
<circle cx="546.1" cy="266.46" r="1.65" fill="#d8d8d8" stroke="#b0b0b0" stroke-width="0.9"/>
<circle cx="553" cy="266.46" r="1.65" fill="#d8d8d8" stroke="#b0b0b0" stroke-width="0.9"/>
<circle cx="559.9" cy="266.46" r="1.65" fill="#d8d8d8" stroke="#b0b0b0" stroke-width="0.9"/>
<circle cx="566.8" cy="266.46" r="1.65" fill="#d8d8d8" stroke="#b0b0b0" stroke-width="0.9"/>
<circle cx="573.7" cy="266.46" r="1.65" fill="#d8d8d8" stroke="#b0b0b0" stroke-width="0.9"/>
<circle cx="580.6" cy="266.46" r="1.65" fill="#d8d8d8" stroke="#b0b0b0" stroke-width="0.9"/>
<circle cx="587.5" cy="266.46" r="1.65" fill="#d8d8d8" stroke="#b0b0b0" stroke-width="0.9"/>
<circle cx="484" cy="273.44" r="1.65" fill="#d8d8d8" stroke="#b0b0b0" stroke-width="0.9"/>
<circle cx="490.9" cy="273.44" r="1.65" fill="#d8d8d8" stroke="#b0b0b0" stroke-width="0.9"/>
<circle cx="497.8" cy="273.44" r="1.65" fill="#d8d8d8" stroke="#b0b0b0" stroke-width="0.9"/>
<circle cx="504.7" cy="273.44" r="1.65" fill="#d8d8d8" stroke="#b0b0b0" stroke-width="0.9"/>
<circle cx="511.6" cy="273.44" r="1.65" fill="#d8d8d8" stroke="#b0b0b0" stroke-width="0.9"/>
<circle cx="518.5" cy="273.44" r="1.65" fill="#d8d8d8" stroke="#b0b0b0" stroke-width="0.9"/>
<circle cx="525.4" cy="273.44" r="1.65" fill="#d8d8d8" stroke="#b0b0b0" stroke-width="0.9"/>
<circle cx="532.3" cy="273.44" r="1.65" fill="#d8d8d8" stroke="#b0b0b0" stroke-width="0.9"/>
<circle cx="539.2" cy="273.44" r="1.65" fill="#d8d8d8" stroke="#b0b0b0" stroke-width="0.9"/>
<circle cx="546.1" cy="273.44" r="1.65" fill="#d8d8d8" stroke="#b0b0b0" stroke-width="0.9"/>
<circle cx="553" cy="273.44" r="1.65" fill="#d8d8d8" stroke="#b0b0b0" stroke-width="0.9"/>
<circle cx="559.9" cy="273.44" r="1.65" fill="#d8d8d8" stroke="#b0b0b0" stroke-width="0.9"/>
<circle cx="566.8" cy="273.44" r="1.65" fill="#d8d8d8" stroke="#b0b0b0" stroke-width="0.9"/>
<circle cx="573.7" cy="273.44" r="1.65" fill="#d8d8d8" stroke="#b0b0b0" stroke-width="0.9"/>
<circle cx="580.6" cy="273.44" r="1.65" fill="#d8d8d8" stroke="#b0b0b0" stroke-width="0.9"/>
<circle cx="587.5" cy="273.44" r="1.65" fill="#d8d8d8" stroke="#b0b0b0" stroke-width="0.9"/>
<circle cx="484" cy="280.42" r="1.65" fill="#d8d8d8" stroke="#b0b0b0" stroke-width="0.9"/>
<circle cx="490.9" cy="280.42" r="1.65" fill="#d8d8d8" stroke="#b0b0b0" stroke-width="0.9"/>
<circle cx="497.8" cy="280.42" r="1.65" fill="#d8d8d8" stroke="#b0b0b0" stroke-width="0.9"/>
<circle cx="504.7" cy="280.42" r="1.65" fill="#d8d8d8" stroke="#b0b0b0" stroke-width="0.9"/>
<circle cx="511.6" cy="280.42" r="1.65" fill="#d8d8d8" stroke="#b0b0b0" stroke-width="0.9"/>
<circle cx="518.5" cy="280.42" r="1.65" fill="#d8d8d8" stroke="#b0b0b0" stroke-width="0.9"/>
<circle cx="525.4" cy="280.42" r="1.65" fill="#d8d8d8" stroke="#b0b0b0" stroke-width="0.9"/>
<circle cx="532.3" cy="280.42" r="1.65" fill="#d8d8d8" stroke="#b0b0b0" stroke-width="0.9"/>
<circle cx="539.2" cy="280.42" r="1.65" fill="#d8d8d8" stroke="#b0b0b0" stroke-width="0.9"/>
<circle cx="546.1" cy="280.42" r="1.65" fill="#d8d8d8" stroke="#b0b0b0" stroke-width="0.9"/>
<circle cx="553" cy="280.42" r="1.65" fill="#d8d8d8" stroke="#b0b0b0" stroke-width="0.9"/>
<circle cx="559.9" cy="280.42" r="1.65" fill="#d8d8d8" stroke="#b0b0b0" stroke-width="0.9"/>
<circle cx="566.8" cy="280.42" r="1.65" fill="#d8d8d8" stroke="#b0b0b0" stroke-width="0.9"/>
<circle cx="573.7" cy="280.42" r="1.65" fill="#d8d8d8" stroke="#b0b0b0" stroke-width="0.9"/>
<circle cx="580.6" cy="280.42" r="1.65" fill="#d8d8d8" stroke="#b0b0b0" stroke-width="0.9"/>
<circle cx="587.5" cy="280.42" r="1.65" fill="#d8d8d8" stroke="#b0b0b0" stroke-width="0.9"/>
<circle cx="484" cy="287.4" r="1.65" fill="#d8d8d8" stroke="#b0b0b0" stroke-width="0.9"/>
<circle cx="490.9" cy="287.4" r="1.65" fill="#d8d8d8" stroke="#b0b0b0" stroke-width="0.9"/>
<circle cx="497.8" cy="287.4" r="1.65" fill="#d8d8d8" stroke="#b0b0b0" stroke-width="0.9"/>
<circle cx="504.7" cy="287.4" r="1.65" fill="#d8d8d8" stroke="#b0b0b0" stroke-width="0.9"/>
<circle cx="511.6" cy="287.4" r="1.65" fill="#d8d8d8" stroke="#b0b0b0" stroke-width="0.9"/>
<circle cx="518.5" cy="287.4" r="1.65" fill="#d8d8d8" stroke="#b0b0b0" stroke-width="0.9"/>
<circle cx="525.4" cy="287.4" r="1.65" fill="#d8d8d8" stroke="#b0b0b0" stroke-width="0.9"/>
<circle cx="532.3" cy="287.4" r="1.65" fill="#d8d8d8" stroke="#b0b0b0" stroke-width="0.9"/>
<circle cx="539.2" cy="287.4" r="1.65" fill="#d8d8d8" stroke="#b0b0b0" stroke-width="0.9"/>
<circle cx="546.1" cy="287.4" r="1.65" fill="#d8d8d8" stroke="#b0b0b0" stroke-width="0.9"/>
<circle cx="553" cy="287.4" r="1.65" fill="#d8d8d8" stroke="#b0b0b0" stroke-width="0.9"/>
<circle cx="559.9" cy="287.4" r="1.65" fill="#d8d8d8" stroke="#b0b0b0" stroke-width="0.9"/>
<circle cx="566.8" cy="287.4" r="1.65" fill="#d8d8d8" stroke="#b0b0b0" stroke-width="0.9"/>
<circle cx="573.7" cy="287.4" r="1.65" fill="#d8d8d8" stroke="#b0b0b0" stroke-width="0.9"/>
<circle cx="580.6" cy="287.4" r="1.65" fill="#d8d8d8" stroke="#b0b0b0" stroke-width="0.9"/>
<circle cx="587.5" cy="287.4" r="1.65" fill="#d8d8d8" stroke="#b0b0b0" stroke-width="0.9"/>
<circle cx="484" cy="294.38" r="1.65" fill="#d8d8d8" stroke="#b0b0b0" stroke-width="0.9"/>
<circle cx="490.9" cy="294.38" r="1.65" fill="#d8d8d8" stroke="#b0b0b0" stroke-width="0.9"/>
<circle cx="497.8" cy="294.38" r="1.65" fill="#d8d8d8" stroke="#b0b0b0" stroke-width="0.9"/>
<circle cx="504.7" cy="294.38" r="1.65" fill="#d8d8d8" stroke="#b0b0b0" stroke-width="0.9"/>
<circle cx="511.6" cy="294.38" r="1.65" fill="#d8d8d8" stroke="#b0b0b0" stroke-width="0.9"/>
<circle cx="518.5" cy="294.38" r="1.65" fill="#d8d8d8" stroke="#b0b0b0" stroke-width="0.9"/>
<circle cx="525.4" cy="294.38" r="1.65" fill="#d8d8d8" stroke="#b0b0b0" stroke-width="0.9"/>
<circle cx="532.3" cy="294.38" r="1.65" fill="#d8d8d8" stroke="#b0b0b0" stroke-width="0.9"/>
<circle cx="539.2" cy="294.38" r="1.65" fill="#d8d8d8" stroke="#b0b0b0" stroke-width="0.9"/>
<circle cx="546.1" cy="294.38" r="1.65" fill="#d8d8d8" stroke="#b0b0b0" stroke-width="0.9"/>
<circle cx="553" cy="294.38" r="1.65" fill="#d8d8d8" stroke="#b0b0b0" stroke-width="0.9"/>
<circle cx="559.9" cy="294.38" r="1.65" fill="#d8d8d8" stroke="#b0b0b0" stroke-width="0.9"/>
<circle cx="566.8" cy="294.38" r="1.65" fill="#d8d8d8" stroke="#b0b0b0" stroke-width="0.9"/>
<circle cx="573.7" cy="294.38" r="1.65" fill="#d8d8d8" stroke="#b0b0b0" stroke-width="0.9"/>
<circle cx="580.6" cy="294.38" r="1.65" fill="#d8d8d8" stroke="#b0b0b0" stroke-width="0.9"/>
<circle cx="587.5" cy="294.38" r="1.65" fill="#d8d8d8" stroke="#b0b0b0" stroke-width="0.9"/>
<circle cx="484" cy="301.36" r="1.65" fill="#d8d8d8" stroke="#b0b0b0" stroke-width="0.9"/>
<circle cx="490.9" cy="301.36" r="1.65" fill="#d8d8d8" stroke="#b0b0b0" stroke-width="0.9"/>
<circle cx="497.8" cy="301.36" r="1.65" fill="#d8d8d8" stroke="#b0b0b0" stroke-width="0.9"/>
<circle cx="504.7" cy="301.36" r="1.65" fill="#d8d8d8" stroke="#b0b0b0" stroke-width="0.9"/>
<circle cx="511.6" cy="301.36" r="1.65" fill="#d8d8d8" stroke="#b0b0b0" stroke-width="0.9"/>
<circle cx="518.5" cy="301.36" r="1.65" fill="#d8d8d8" stroke="#b0b0b0" stroke-width="0.9"/>
<circle cx="525.4" cy="301.36" r="1.65" fill="#d8d8d8" stroke="#b0b0b0" stroke-width="0.9"/>
<circle cx="532.3" cy="301.36" r="1.65" fill="#d8d8d8" stroke="#b0b0b0" stroke-width="0.9"/>
<circle cx="539.2" cy="301.36" r="1.65" fill="#d8d8d8" stroke="#b0b0b0" stroke-width="0.9"/>
<circle cx="546.1" cy="301.36" r="1.65" fill="#d8d8d8" stroke="#b0b0b0" stroke-width="0.9"/>
<circle cx="553" cy="301.36" r="1.65" fill="#d8d8d8" stroke="#b0b0b0" stroke-width="0.9"/>
<circle cx="559.9" cy="301.36" r="1.65" fill="#d8d8d8" stroke="#b0b0b0" stroke-width="0.9"/>
<circle cx="566.8" cy="301.36" r="1.65" fill="#d8d8d8" stroke="#b0b0b0" stroke-width="0.9"/>
<circle cx="573.7" cy="301.36" r="1.65" fill="#d8d8d8" stroke="#b0b0b0" stroke-width="0.9"/>
<circle cx="580.6" cy="301.36" r="1.65" fill="#d8d8d8" stroke="#b0b0b0" stroke-width="0.9"/>
<circle cx="587.5" cy="301.36" r="1.65" fill="#d8d8d8" stroke="#b0b0b0" stroke-width="0.9"/>
<circle cx="484" cy="308.34" r="1.65" fill="#d8d8d8" stroke="#b0b0b0" stroke-width="0.9"/>
<circle cx="490.9" cy="308.34" r="1.65" fill="#d8d8d8" stroke="#b0b0b0" stroke-width="0.9"/>
<circle cx="497.8" cy="308.34" r="1.65" fill="#d8d8d8" stroke="#b0b0b0" stroke-width="0.9"/>
<circle cx="504.7" cy="308.34" r="1.65" fill="#d8d8d8" stroke="#b0b0b0" stroke-width="0.9"/>
<circle cx="511.6" cy="308.34" r="1.65" fill="#d8d8d8" stroke="#b0b0b0" stroke-width="0.9"/>
<circle cx="518.5" cy="308.34" r="1.65" fill="#d8d8d8" stroke="#b0b0b0" stroke-width="0.9"/>
<circle cx="525.4" cy="308.34" r="1.65" fill="#d8d8d8" stroke="#b0b0b0" stroke-width="0.9"/>
<circle cx="532.3" cy="308.34" r="1.65" fill="#d8d8d8" stroke="#b0b0b0" stroke-width="0.9"/>
<circle cx="539.2" cy="308.34" r="1.65" fill="#d8d8d8" stroke="#b0b0b0" stroke-width="0.9"/>
<circle cx="546.1" cy="308.34" r="1.65" fill="#d8d8d8" stroke="#b0b0b0" stroke-width="0.9"/>
<circle cx="553" cy="308.34" r="1.65" fill="#d8d8d8" stroke="#b0b0b0" stroke-width="0.9"/>
<circle cx="559.9" cy="308.34" r="1.65" fill="#d8d8d8" stroke="#b0b0b0" stroke-width="0.9"/>
<circle cx="566.8" cy="308.34" r="1.65" fill="#d8d8d8" stroke="#b0b0b0" stroke-width="0.9"/>
<circle cx="573.7" cy="308.34" r="1.65" fill="#d8d8d8" stroke="#b0b0b0" stroke-width="0.9"/>
<circle cx="580.6" cy="308.34" r="1.65" fill="#d8d8d8" stroke="#b0b0b0" stroke-width="0.9"/>
<circle cx="587.5" cy="308.34" r="1.65" fill="#d8d8d8" stroke="#b0b0b0" stroke-width="0.9"/>
<circle cx="484" cy="315.32" r="1.65" fill="#d8d8d8" stroke="#b0b0b0" stroke-width="0.9"/>
<circle cx="490.9" cy="315.32" r="1.65" fill="#d8d8d8" stroke="#b0b0b0" stroke-width="0.9"/>
<circle cx="497.8" cy="315.32" r="1.65" fill="#d8d8d8" stroke="#b0b0b0" stroke-width="0.9"/>
<circle cx="504.7" cy="315.32" r="1.65" fill="#d8d8d8" stroke="#b0b0b0" stroke-width="0.9"/>
<circle cx="511.6" cy="315.32" r="1.65" fill="#d8d8d8" stroke="#b0b0b0" stroke-width="0.9"/>
<circle cx="518.5" cy="315.32" r="1.65" fill="#d8d8d8" stroke="#b0b0b0" stroke-width="0.9"/>
<circle cx="525.4" cy="315.32" r="1.65" fill="#d8d8d8" stroke="#b0b0b0" stroke-width="0.9"/>
<circle cx="532.3" cy="315.32" r="1.65" fill="#d8d8d8" stroke="#b0b0b0" stroke-width="0.9"/>
<circle cx="539.2" cy="315.32" r="1.65" fill="#d8d8d8" stroke="#b0b0b0" stroke-width="0.9"/>
<circle cx="546.1" cy="315.32" r="1.65" fill="#d8d8d8" stroke="#b0b0b0" stroke-width="0.9"/>
<circle cx="553" cy="315.32" r="1.65" fill="#d8d8d8" stroke="#b0b0b0" stroke-width="0.9"/>
<circle cx="559.9" cy="315.32" r="1.65" fill="#d8d8d8" stroke="#b0b0b0" stroke-width="0.9"/>
<circle cx="566.8" cy="315.32" r="1.65" fill="#d8d8d8" stroke="#b0b0b0" stroke-width="0.9"/>
<circle cx="573.7" cy="315.32" r="1.65" fill="#d8d8d8" stroke="#b0b0b0" stroke-width="0.9"/>
<circle cx="580.6" cy="315.32" r="1.65" fill="#d8d8d8" stroke="#b0b0b0" stroke-width="0.9"/>
<circle cx="587.5" cy="315.32" r="1.65" fill="#d8d8d8" stroke="#b0b0b0" stroke-width="0.9"/>
<circle cx="484" cy="322.3" r="1.65" fill="#d8d8d8" stroke="#b0b0b0" stroke-width="0.9"/>
<circle cx="490.9" cy="322.3" r="1.65" fill="#d8d8d8" stroke="#b0b0b0" stroke-width="0.9"/>
<circle cx="497.8" cy="322.3" r="1.65" fill="#d8d8d8" stroke="#b0b0b0" stroke-width="0.9"/>
<circle cx="504.7" cy="322.3" r="1.65" fill="#d8d8d8" stroke="#b0b0b0" stroke-width="0.9"/>
<circle cx="511.6" cy="322.3" r="1.65" fill="#d8d8d8" stroke="#b0b0b0" stroke-width="0.9"/>
<circle cx="518.5" cy="322.3" r="1.65" fill="#d8d8d8" stroke="#b0b0b0" stroke-width="0.9"/>
<circle cx="525.4" cy="322.3" r="1.65" fill="#d8d8d8" stroke="#b0b0b0" stroke-width="0.9"/>
<circle cx="532.3" cy="322.3" r="1.65" fill="#d8d8d8" stroke="#b0b0b0" stroke-width="0.9"/>
<circle cx="539.2" cy="322.3" r="1.65" fill="#d8d8d8" stroke="#b0b0b0" stroke-width="0.9"/>
<circle cx="546.1" cy="322.3" r="1.65" fill="#d8d8d8" stroke="#b0b0b0" stroke-width="0.9"/>
<circle cx="553" cy="322.3" r="1.65" fill="#d8d8d8" stroke="#b0b0b0" stroke-width="0.9"/>
<circle cx="559.9" cy="322.3" r="1.65" fill="#d8d8d8" stroke="#b0b0b0" stroke-width="0.9"/>
<circle cx="566.8" cy="322.3" r="1.65" fill="#d8d8d8" stroke="#b0b0b0" stroke-width="0.9"/>
<circle cx="573.7" cy="322.3" r="1.65" fill="#d8d8d8" stroke="#b0b0b0" stroke-width="0.9"/>
<circle cx="580.6" cy="322.3" r="1.65" fill="#d8d8d8" stroke="#b0b0b0" stroke-width="0.9"/>
<circle cx="587.5" cy="322.3" r="1.65" fill="#d8d8d8" stroke="#b0b0b0" stroke-width="0.9"/>
<circle cx="484" cy="329.28" r="1.65" fill="#d8d8d8" stroke="#b0b0b0" stroke-width="0.9"/>
<circle cx="490.9" cy="329.28" r="1.65" fill="#d8d8d8" stroke="#b0b0b0" stroke-width="0.9"/>
<circle cx="497.8" cy="329.28" r="1.65" fill="#d8d8d8" stroke="#b0b0b0" stroke-width="0.9"/>
<circle cx="504.7" cy="329.28" r="1.65" fill="#d8d8d8" stroke="#b0b0b0" stroke-width="0.9"/>
<circle cx="511.6" cy="329.28" r="1.65" fill="#d8d8d8" stroke="#b0b0b0" stroke-width="0.9"/>
<circle cx="518.5" cy="329.28" r="1.65" fill="#d8d8d8" stroke="#b0b0b0" stroke-width="0.9"/>
<circle cx="525.4" cy="329.28" r="1.65" fill="#d8d8d8" stroke="#b0b0b0" stroke-width="0.9"/>
<circle cx="532.3" cy="329.28" r="1.65" fill="#d8d8d8" stroke="#b0b0b0" stroke-width="0.9"/>
<circle cx="539.2" cy="329.28" r="1.65" fill="#d8d8d8" stroke="#b0b0b0" stroke-width="0.9"/>
<circle cx="546.1" cy="329.28" r="1.65" fill="#d8d8d8" stroke="#b0b0b0" stroke-width="0.9"/>
<circle cx="553" cy="329.28" r="1.65" fill="#d8d8d8" stroke="#b0b0b0" stroke-width="0.9"/>
<circle cx="559.9" cy="329.28" r="1.65" fill="#d8d8d8" stroke="#b0b0b0" stroke-width="0.9"/>
<circle cx="566.8" cy="329.28" r="1.65" fill="#d8d8d8" stroke="#b0b0b0" stroke-width="0.9"/>
<circle cx="573.7" cy="329.28" r="1.65" fill="#d8d8d8" stroke="#b0b0b0" stroke-width="0.9"/>
<circle cx="580.6" cy="329.28" r="1.65" fill="#d8d8d8" stroke="#b0b0b0" stroke-width="0.9"/>
<circle cx="587.5" cy="329.28" r="1.65" fill="#d8d8d8" stroke="#b0b0b0" stroke-width="0.9"/>
<circle cx="484" cy="336.26" r="1.65" fill="#d8d8d8" stroke="#b0b0b0" stroke-width="0.9"/>
<circle cx="490.9" cy="336.26" r="1.65" fill="#d8d8d8" stroke="#b0b0b0" stroke-width="0.9"/>
<circle cx="497.8" cy="336.26" r="1.65" fill="#d8d8d8" stroke="#b0b0b0" stroke-width="0.9"/>
<circle cx="504.7" cy="336.26" r="1.65" fill="#d8d8d8" stroke="#b0b0b0" stroke-width="0.9"/>
<circle cx="511.6" cy="336.26" r="1.65" fill="#d8d8d8" stroke="#b0b0b0" stroke-width="0.9"/>
<circle cx="518.5" cy="336.26" r="1.65" fill="#d8d8d8" stroke="#b0b0b0" stroke-width="0.9"/>
<circle cx="525.4" cy="336.26" r="1.65" fill="#d8d8d8" stroke="#b0b0b0" stroke-width="0.9"/>
<circle cx="532.3" cy="336.26" r="1.65" fill="#d8d8d8" stroke="#b0b0b0" stroke-width="0.9"/>
<circle cx="539.2" cy="336.26" r="1.65" fill="#d8d8d8" stroke="#b0b0b0" stroke-width="0.9"/>
<circle cx="546.1" cy="336.26" r="1.65" fill="#d8d8d8" stroke="#b0b0b0" stroke-width="0.9"/>
<circle cx="553" cy="336.26" r="1.65" fill="#d8d8d8" stroke="#b0b0b0" stroke-width="0.9"/>
<circle cx="559.9" cy="336.26" r="1.65" fill="#d8d8d8" stroke="#b0b0b0" stroke-width="0.9"/>
<circle cx="566.8" cy="336.26" r="1.65" fill="#d8d8d8" stroke="#b0b0b0" stroke-width="0.9"/>
<circle cx="573.7" cy="336.26" r="1.65" fill="#d8d8d8" stroke="#b0b0b0" stroke-width="0.9"/>
<circle cx="580.6" cy="336.26" r="1.65" fill="#d8d8d8" stroke="#b0b0b0" stroke-width="0.9"/>
<circle cx="587.5" cy="336.26" r="1.65" fill="#d8d8d8" stroke="#b0b0b0" stroke-width="0.9"/>
<circle cx="484" cy="343.24" r="1.65" fill="#d8d8d8" stroke="#b0b0b0" stroke-width="0.9"/>
<circle cx="490.9" cy="343.24" r="1.65" fill="#d8d8d8" stroke="#b0b0b0" stroke-width="0.9"/>
<circle cx="497.8" cy="343.24" r="1.65" fill="#d8d8d8" stroke="#b0b0b0" stroke-width="0.9"/>
<circle cx="504.7" cy="343.24" r="1.65" fill="#d8d8d8" stroke="#b0b0b0" stroke-width="0.9"/>
<circle cx="511.6" cy="343.24" r="1.65" fill="#d8d8d8" stroke="#b0b0b0" stroke-width="0.9"/>
<circle cx="518.5" cy="343.24" r="1.65" fill="#d8d8d8" stroke="#b0b0b0" stroke-width="0.9"/>
<circle cx="525.4" cy="343.24" r="1.65" fill="#d8d8d8" stroke="#b0b0b0" stroke-width="0.9"/>
<circle cx="532.3" cy="343.24" r="1.65" fill="#d8d8d8" stroke="#b0b0b0" stroke-width="0.9"/>
<circle cx="539.2" cy="343.24" r="1.65" fill="#d8d8d8" stroke="#b0b0b0" stroke-width="0.9"/>
<circle cx="546.1" cy="343.24" r="1.65" fill="#d8d8d8" stroke="#b0b0b0" stroke-width="0.9"/>
<circle cx="553" cy="343.24" r="1.65" fill="#d8d8d8" stroke="#b0b0b0" stroke-width="0.9"/>
<circle cx="559.9" cy="343.24" r="1.65" fill="#d8d8d8" stroke="#b0b0b0" stroke-width="0.9"/>
<circle cx="566.8" cy="343.24" r="1.65" fill="#d8d8d8" stroke="#b0b0b0" stroke-width="0.9"/>
<circle cx="573.7" cy="343.24" r="1.65" fill="#d8d8d8" stroke="#b0b0b0" stroke-width="0.9"/>
<circle cx="580.6" cy="343.24" r="1.65" fill="#d8d8d8" stroke="#b0b0b0" stroke-width="0.9"/>
<circle cx="587.5" cy="343.24" r="1.65" fill="#d8d8d8" stroke="#b0b0b0" stroke-width="0.9"/>
<circle cx="484" cy="350.22" r="1.65" fill="#d8d8d8" stroke="#b0b0b0" stroke-width="0.9"/>
<circle cx="490.9" cy="350.22" r="1.65" fill="#d8d8d8" stroke="#b0b0b0" stroke-width="0.9"/>
<circle cx="497.8" cy="350.22" r="1.65" fill="#d8d8d8" stroke="#b0b0b0" stroke-width="0.9"/>
<circle cx="504.7" cy="350.22" r="1.65" fill="#d8d8d8" stroke="#b0b0b0" stroke-width="0.9"/>
<circle cx="511.6" cy="350.22" r="1.65" fill="#d8d8d8" stroke="#b0b0b0" stroke-width="0.9"/>
<circle cx="518.5" cy="350.22" r="1.65" fill="#d8d8d8" stroke="#b0b0b0" stroke-width="0.9"/>
<circle cx="525.4" cy="350.22" r="1.65" fill="#d8d8d8" stroke="#b0b0b0" stroke-width="0.9"/>
<circle cx="532.3" cy="350.22" r="1.65" fill="#d8d8d8" stroke="#b0b0b0" stroke-width="0.9"/>
<circle cx="539.2" cy="350.22" r="1.65" fill="#d8d8d8" stroke="#b0b0b0" stroke-width="0.9"/>
<circle cx="546.1" cy="350.22" r="1.65" fill="#d8d8d8" stroke="#b0b0b0" stroke-width="0.9"/>
<circle cx="553" cy="350.22" r="1.65" fill="#d8d8d8" stroke="#b0b0b0" stroke-width="0.9"/>
<circle cx="559.9" cy="350.22" r="1.65" fill="#d8d8d8" stroke="#b0b0b0" stroke-width="0.9"/>
<circle cx="566.8" cy="350.22" r="1.65" fill="#d8d8d8" stroke="#b0b0b0" stroke-width="0.9"/>
<circle cx="573.7" cy="350.22" r="1.65" fill="#d8d8d8" stroke="#b0b0b0" stroke-width="0.9"/>
<circle cx="580.6" cy="350.22" r="1.65" fill="#d8d8d8" stroke="#b0b0b0" stroke-width="0.9"/>
<circle cx="587.5" cy="350.22" r="1.65" fill="#d8d8d8" stroke="#b0b0b0" stroke-width="0.9"/>
<circle cx="484" cy="357.2" r="1.65" fill="#d8d8d8" stroke="#b0b0b0" stroke-width="0.9"/>
<circle cx="490.9" cy="357.2" r="1.65" fill="#d8d8d8" stroke="#b0b0b0" stroke-width="0.9"/>
<circle cx="497.8" cy="357.2" r="1.65" fill="#d8d8d8" stroke="#b0b0b0" stroke-width="0.9"/>
<circle cx="504.7" cy="357.2" r="1.65" fill="#d8d8d8" stroke="#b0b0b0" stroke-width="0.9"/>
<circle cx="511.6" cy="357.2" r="1.65" fill="#d8d8d8" stroke="#b0b0b0" stroke-width="0.9"/>
<circle cx="518.5" cy="357.2" r="1.65" fill="#d8d8d8" stroke="#b0b0b0" stroke-width="0.9"/>
<circle cx="525.4" cy="357.2" r="1.65" fill="#d8d8d8" stroke="#b0b0b0" stroke-width="0.9"/>
<circle cx="532.3" cy="357.2" r="1.65" fill="#d8d8d8" stroke="#b0b0b0" stroke-width="0.9"/>
<circle cx="539.2" cy="357.2" r="1.65" fill="#d8d8d8" stroke="#b0b0b0" stroke-width="0.9"/>
<circle cx="546.1" cy="357.2" r="1.65" fill="#d8d8d8" stroke="#b0b0b0" stroke-width="0.9"/>
<circle cx="553" cy="357.2" r="1.65" fill="#d8d8d8" stroke="#b0b0b0" stroke-width="0.9"/>
<circle cx="559.9" cy="357.2" r="1.65" fill="#d8d8d8" stroke="#b0b0b0" stroke-width="0.9"/>
<circle cx="566.8" cy="357.2" r="1.65" fill="#d8d8d8" stroke="#b0b0b0" stroke-width="0.9"/>
<circle cx="573.7" cy="357.2" r="1.65" fill="#d8d8d8" stroke="#b0b0b0" stroke-width="0.9"/>
<circle cx="580.6" cy="357.2" r="1.65" fill="#d8d8d8" stroke="#b0b0b0" stroke-width="0.9"/>
<circle cx="587.5" cy="357.2" r="1.65" fill="#d8d8d8" stroke="#b0b0b0" stroke-width="0.9"/>
<rect x="621.7" y="245.3" width="3.8" height="4.2" fill="none" stroke="#2b2b2b" stroke-width="1.4"/>
<rect x="630.1" y="245.3" width="5.6" height="4.2" fill="none" stroke="#2b2b2b" stroke-width="1.4"/>
<rect x="621.7" y="255.3" width="3.8" height="4.2" fill="none" stroke="#2b2b2b" stroke-width="1.4"/>
<rect x="630.1" y="255.3" width="5.6" height="4.2" fill="none" stroke="#2b2b2b" stroke-width="1.4"/>
<rect x="621.7" y="263.9" width="3.8" height="4.2" fill="none" stroke="#2b2b2b" stroke-width="1.4"/>
<rect x="630.1" y="263.9" width="5.6" height="4.2" fill="none" stroke="#2b2b2b" stroke-width="1.4"/>
<rect x="621.7" y="272.5" width="3.8" height="4.2" fill="none" stroke="#2b2b2b" stroke-width="1.4"/>
<rect x="630.1" y="272.5" width="5.6" height="4.2" fill="none" stroke="#2b2b2b" stroke-width="1.4"/>
<rect x="621.7" y="281.5" width="3.8" height="4.2" fill="none" stroke="#2b2b2b" stroke-width="1.4"/>
<rect x="630.1" y="281.5" width="5.6" height="4.2" fill="none" stroke="#2b2b2b" stroke-width="1.4"/>
<rect x="621.7" y="290.9" width="3.8" height="4.2" fill="none" stroke="#2b2b2b" stroke-width="1.4"/>
<rect x="630.1" y="290.9" width="5.6" height="4.2" fill="none" stroke="#2b2b2b" stroke-width="1.4"/>
<rect x="621.7" y="299.3" width="3.8" height="4.2" fill="none" stroke="#2b2b2b" stroke-width="1.4"/>
<rect x="630.1" y="299.3" width="5.6" height="4.2" fill="none" stroke="#2b2b2b" stroke-width="1.4"/>
<rect x="621.7" y="307.9" width="3.8" height="4.2" fill="none" stroke="#2b2b2b" stroke-width="1.4"/>
<rect x="630.1" y="307.9" width="5.6" height="4.2" fill="none" stroke="#2b2b2b" stroke-width="1.4"/>
<rect x="621.7" y="316.5" width="3.8" height="4.2" fill="none" stroke="#2b2b2b" stroke-width="1.4"/>
<rect x="630.1" y="316.5" width="5.6" height="4.2" fill="none" stroke="#2b2b2b" stroke-width="1.4"/>
<rect x="621.7" y="325.3" width="3.8" height="4.2" fill="none" stroke="#2b2b2b" stroke-width="1.4"/>
<rect x="630.1" y="325.3" width="5.6" height="4.2" fill="none" stroke="#2b2b2b" stroke-width="1.4"/>
<rect x="621.7" y="333.9" width="3.8" height="4.2" fill="none" stroke="#2b2b2b" stroke-width="1.4"/>
<rect x="630.1" y="333.9" width="5.6" height="4.2" fill="none" stroke="#2b2b2b" stroke-width="1.4"/>
<rect x="621.7" y="342.9" width="3.8" height="4.2" fill="none" stroke="#2b2b2b" stroke-width="1.4"/>
<rect x="630.1" y="342.9" width="5.6" height="4.2" fill="none" stroke="#2b2b2b" stroke-width="1.4"/>
<circle cx="237.3" cy="403.25" r="1.65" fill="#d8d8d8" stroke="#b0b0b0" stroke-width="0.9"/>
<circle cx="237.3" cy="410.15" r="1.65" fill="#d8d8d8" stroke="#b0b0b0" stroke-width="0.9"/>
<circle cx="237.3" cy="417.05" r="1.65" fill="#d8d8d8" stroke="#b0b0b0" stroke-width="0.9"/>
<circle cx="237.3" cy="423.95" r="1.65" fill="#d8d8d8" stroke="#b0b0b0" stroke-width="0.9"/>
<circle cx="237.3" cy="430.85" r="1.65" fill="#d8d8d8" stroke="#b0b0b0" stroke-width="0.9"/>
<circle cx="237.3" cy="437.75" r="1.65" fill="#d8d8d8" stroke="#b0b0b0" stroke-width="0.9"/>
<circle cx="237.3" cy="444.65" r="1.65" fill="#d8d8d8" stroke="#b0b0b0" stroke-width="0.9"/>
<circle cx="237.3" cy="451.55" r="1.65" fill="#d8d8d8" stroke="#b0b0b0" stroke-width="0.9"/>
<circle cx="237.3" cy="458.45" r="1.65" fill="#d8d8d8" stroke="#b0b0b0" stroke-width="0.9"/>
<circle cx="237.3" cy="465.35" r="1.65" fill="#d8d8d8" stroke="#b0b0b0" stroke-width="0.9"/>
<circle cx="237.3" cy="472.25" r="1.65" fill="#d8d8d8" stroke="#b0b0b0" stroke-width="0.9"/>
<circle cx="237.3" cy="479.15" r="1.65" fill="#d8d8d8" stroke="#b0b0b0" stroke-width="0.9"/>
<circle cx="237.3" cy="486.05" r="1.65" fill="#d8d8d8" stroke="#b0b0b0" stroke-width="0.9"/>
<circle cx="237.3" cy="492.95" r="1.65" fill="#d8d8d8" stroke="#b0b0b0" stroke-width="0.9"/>
<circle cx="237.3" cy="499.85" r="1.65" fill="#d8d8d8" stroke="#b0b0b0" stroke-width="0.9"/>
<circle cx="237.3" cy="506.75" r="1.65" fill="#d8d8d8" stroke="#b0b0b0" stroke-width="0.9"/>
<circle cx="244.2" cy="403.25" r="1.65" fill="#d8d8d8" stroke="#b0b0b0" stroke-width="0.9"/>
<circle cx="244.2" cy="410.15" r="1.65" fill="#d8d8d8" stroke="#b0b0b0" stroke-width="0.9"/>
<circle cx="244.2" cy="417.05" r="1.65" fill="#d8d8d8" stroke="#b0b0b0" stroke-width="0.9"/>
<circle cx="244.2" cy="423.95" r="1.65" fill="#d8d8d8" stroke="#b0b0b0" stroke-width="0.9"/>
<circle cx="244.2" cy="430.85" r="1.65" fill="#d8d8d8" stroke="#b0b0b0" stroke-width="0.9"/>
<circle cx="244.2" cy="437.75" r="1.65" fill="#d8d8d8" stroke="#b0b0b0" stroke-width="0.9"/>
<circle cx="244.2" cy="444.65" r="1.65" fill="#d8d8d8" stroke="#b0b0b0" stroke-width="0.9"/>
<circle cx="244.2" cy="451.55" r="1.65" fill="#d8d8d8" stroke="#b0b0b0" stroke-width="0.9"/>
<circle cx="244.2" cy="458.45" r="1.65" fill="#d8d8d8" stroke="#b0b0b0" stroke-width="0.9"/>
<circle cx="244.2" cy="465.35" r="1.65" fill="#d8d8d8" stroke="#b0b0b0" stroke-width="0.9"/>
<circle cx="244.2" cy="472.25" r="1.65" fill="#d8d8d8" stroke="#b0b0b0" stroke-width="0.9"/>
<circle cx="244.2" cy="479.15" r="1.65" fill="#d8d8d8" stroke="#b0b0b0" stroke-width="0.9"/>
<circle cx="244.2" cy="486.05" r="1.65" fill="#d8d8d8" stroke="#b0b0b0" stroke-width="0.9"/>
<circle cx="244.2" cy="492.95" r="1.65" fill="#d8d8d8" stroke="#b0b0b0" stroke-width="0.9"/>
<circle cx="244.2" cy="499.85" r="1.65" fill="#d8d8d8" stroke="#b0b0b0" stroke-width="0.9"/>
<circle cx="244.2" cy="506.75" r="1.65" fill="#d8d8d8" stroke="#b0b0b0" stroke-width="0.9"/>
<circle cx="251.3" cy="403.25" r="1.65" fill="#d8d8d8" stroke="#b0b0b0" stroke-width="0.9"/>
<circle cx="251.3" cy="410.15" r="1.65" fill="#d8d8d8" stroke="#b0b0b0" stroke-width="0.9"/>
<circle cx="251.3" cy="417.05" r="1.65" fill="#d8d8d8" stroke="#b0b0b0" stroke-width="0.9"/>
<circle cx="251.3" cy="423.95" r="1.65" fill="#d8d8d8" stroke="#b0b0b0" stroke-width="0.9"/>
<circle cx="251.3" cy="430.85" r="1.65" fill="#d8d8d8" stroke="#b0b0b0" stroke-width="0.9"/>
<circle cx="251.3" cy="437.75" r="1.65" fill="#d8d8d8" stroke="#b0b0b0" stroke-width="0.9"/>
<circle cx="251.3" cy="444.65" r="1.65" fill="#d8d8d8" stroke="#b0b0b0" stroke-width="0.9"/>
<circle cx="251.3" cy="451.55" r="1.65" fill="#d8d8d8" stroke="#b0b0b0" stroke-width="0.9"/>
<circle cx="251.3" cy="458.45" r="1.65" fill="#d8d8d8" stroke="#b0b0b0" stroke-width="0.9"/>
<circle cx="251.3" cy="465.35" r="1.65" fill="#d8d8d8" stroke="#b0b0b0" stroke-width="0.9"/>
<circle cx="251.3" cy="472.25" r="1.65" fill="#d8d8d8" stroke="#b0b0b0" stroke-width="0.9"/>
<circle cx="251.3" cy="479.15" r="1.65" fill="#d8d8d8" stroke="#b0b0b0" stroke-width="0.9"/>
<circle cx="251.3" cy="486.05" r="1.65" fill="#d8d8d8" stroke="#b0b0b0" stroke-width="0.9"/>
<circle cx="251.3" cy="492.95" r="1.65" fill="#d8d8d8" stroke="#b0b0b0" stroke-width="0.9"/>
<circle cx="251.3" cy="499.85" r="1.65" fill="#d8d8d8" stroke="#b0b0b0" stroke-width="0.9"/>
<circle cx="251.3" cy="506.75" r="1.65" fill="#d8d8d8" stroke="#b0b0b0" stroke-width="0.9"/>
<circle cx="279" cy="403.25" r="1.65" fill="#d8d8d8" stroke="#b0b0b0" stroke-width="0.9"/>
<circle cx="279" cy="410.15" r="1.65" fill="#d8d8d8" stroke="#b0b0b0" stroke-width="0.9"/>
<circle cx="279" cy="417.05" r="1.65" fill="#d8d8d8" stroke="#b0b0b0" stroke-width="0.9"/>
<circle cx="279" cy="423.95" r="1.65" fill="#d8d8d8" stroke="#b0b0b0" stroke-width="0.9"/>
<circle cx="279" cy="430.85" r="1.65" fill="#d8d8d8" stroke="#b0b0b0" stroke-width="0.9"/>
<circle cx="279" cy="437.75" r="1.65" fill="#d8d8d8" stroke="#b0b0b0" stroke-width="0.9"/>
<circle cx="279" cy="444.65" r="1.65" fill="#d8d8d8" stroke="#b0b0b0" stroke-width="0.9"/>
<circle cx="279" cy="451.55" r="1.65" fill="#d8d8d8" stroke="#b0b0b0" stroke-width="0.9"/>
<circle cx="279" cy="458.45" r="1.65" fill="#d8d8d8" stroke="#b0b0b0" stroke-width="0.9"/>
<circle cx="279" cy="465.35" r="1.65" fill="#d8d8d8" stroke="#b0b0b0" stroke-width="0.9"/>
<circle cx="279" cy="472.25" r="1.65" fill="#d8d8d8" stroke="#b0b0b0" stroke-width="0.9"/>
<circle cx="279" cy="479.15" r="1.65" fill="#d8d8d8" stroke="#b0b0b0" stroke-width="0.9"/>
<circle cx="279" cy="486.05" r="1.65" fill="#d8d8d8" stroke="#b0b0b0" stroke-width="0.9"/>
<circle cx="279" cy="492.95" r="1.65" fill="#d8d8d8" stroke="#b0b0b0" stroke-width="0.9"/>
<circle cx="279" cy="499.85" r="1.65" fill="#d8d8d8" stroke="#b0b0b0" stroke-width="0.9"/>
<circle cx="279" cy="506.75" r="1.65" fill="#d8d8d8" stroke="#b0b0b0" stroke-width="0.9"/>
<circle cx="285.9" cy="403.25" r="1.65" fill="#d8d8d8" stroke="#b0b0b0" stroke-width="0.9"/>
<circle cx="285.9" cy="410.15" r="1.65" fill="#d8d8d8" stroke="#b0b0b0" stroke-width="0.9"/>
<circle cx="285.9" cy="417.05" r="1.65" fill="#d8d8d8" stroke="#b0b0b0" stroke-width="0.9"/>
<circle cx="285.9" cy="423.95" r="1.65" fill="#d8d8d8" stroke="#b0b0b0" stroke-width="0.9"/>
<circle cx="285.9" cy="430.85" r="1.65" fill="#d8d8d8" stroke="#b0b0b0" stroke-width="0.9"/>
<circle cx="285.9" cy="437.75" r="1.65" fill="#d8d8d8" stroke="#b0b0b0" stroke-width="0.9"/>
<circle cx="285.9" cy="444.65" r="1.65" fill="#d8d8d8" stroke="#b0b0b0" stroke-width="0.9"/>
<circle cx="285.9" cy="451.55" r="1.65" fill="#d8d8d8" stroke="#b0b0b0" stroke-width="0.9"/>
<circle cx="285.9" cy="458.45" r="1.65" fill="#d8d8d8" stroke="#b0b0b0" stroke-width="0.9"/>
<circle cx="285.9" cy="465.35" r="1.65" fill="#d8d8d8" stroke="#b0b0b0" stroke-width="0.9"/>
<circle cx="285.9" cy="472.25" r="1.65" fill="#d8d8d8" stroke="#b0b0b0" stroke-width="0.9"/>
<circle cx="285.9" cy="479.15" r="1.65" fill="#d8d8d8" stroke="#b0b0b0" stroke-width="0.9"/>
<circle cx="285.9" cy="486.05" r="1.65" fill="#d8d8d8" stroke="#b0b0b0" stroke-width="0.9"/>
<circle cx="285.9" cy="492.95" r="1.65" fill="#d8d8d8" stroke="#b0b0b0" stroke-width="0.9"/>
<circle cx="285.9" cy="499.85" r="1.65" fill="#d8d8d8" stroke="#b0b0b0" stroke-width="0.9"/>
<circle cx="285.9" cy="506.75" r="1.65" fill="#d8d8d8" stroke="#b0b0b0" stroke-width="0.9"/>
<circle cx="292.8" cy="403.25" r="1.65" fill="#d8d8d8" stroke="#b0b0b0" stroke-width="0.9"/>
<circle cx="292.8" cy="410.15" r="1.65" fill="#d8d8d8" stroke="#b0b0b0" stroke-width="0.9"/>
<circle cx="292.8" cy="417.05" r="1.65" fill="#d8d8d8" stroke="#b0b0b0" stroke-width="0.9"/>
<circle cx="292.8" cy="423.95" r="1.65" fill="#d8d8d8" stroke="#b0b0b0" stroke-width="0.9"/>
<circle cx="292.8" cy="430.85" r="1.65" fill="#d8d8d8" stroke="#b0b0b0" stroke-width="0.9"/>
<circle cx="292.8" cy="437.75" r="1.65" fill="#d8d8d8" stroke="#b0b0b0" stroke-width="0.9"/>
<circle cx="292.8" cy="444.65" r="1.65" fill="#d8d8d8" stroke="#b0b0b0" stroke-width="0.9"/>
<circle cx="292.8" cy="451.55" r="1.65" fill="#d8d8d8" stroke="#b0b0b0" stroke-width="0.9"/>
<circle cx="292.8" cy="458.45" r="1.65" fill="#d8d8d8" stroke="#b0b0b0" stroke-width="0.9"/>
<circle cx="292.8" cy="465.35" r="1.65" fill="#d8d8d8" stroke="#b0b0b0" stroke-width="0.9"/>
<circle cx="292.8" cy="472.25" r="1.65" fill="#d8d8d8" stroke="#b0b0b0" stroke-width="0.9"/>
<circle cx="292.8" cy="479.15" r="1.65" fill="#d8d8d8" stroke="#b0b0b0" stroke-width="0.9"/>
<circle cx="292.8" cy="486.05" r="1.65" fill="#d8d8d8" stroke="#b0b0b0" stroke-width="0.9"/>
<circle cx="292.8" cy="492.95" r="1.65" fill="#d8d8d8" stroke="#b0b0b0" stroke-width="0.9"/>
<circle cx="292.8" cy="499.85" r="1.65" fill="#d8d8d8" stroke="#b0b0b0" stroke-width="0.9"/>
<circle cx="292.8" cy="506.75" r="1.65" fill="#d8d8d8" stroke="#b0b0b0" stroke-width="0.9"/>
<circle cx="368.9" cy="403.25" r="1.65" fill="#d8d8d8" stroke="#b0b0b0" stroke-width="0.9"/>
<circle cx="368.9" cy="410.15" r="1.65" fill="#d8d8d8" stroke="#b0b0b0" stroke-width="0.9"/>
<circle cx="368.9" cy="417.05" r="1.65" fill="#d8d8d8" stroke="#b0b0b0" stroke-width="0.9"/>
<circle cx="368.9" cy="423.95" r="1.65" fill="#d8d8d8" stroke="#b0b0b0" stroke-width="0.9"/>
<circle cx="368.9" cy="430.85" r="1.65" fill="#d8d8d8" stroke="#b0b0b0" stroke-width="0.9"/>
<circle cx="368.9" cy="437.75" r="1.65" fill="#d8d8d8" stroke="#b0b0b0" stroke-width="0.9"/>
<circle cx="368.9" cy="444.65" r="1.65" fill="#d8d8d8" stroke="#b0b0b0" stroke-width="0.9"/>
<circle cx="368.9" cy="451.55" r="1.65" fill="#d8d8d8" stroke="#b0b0b0" stroke-width="0.9"/>
<circle cx="368.9" cy="458.45" r="1.65" fill="#d8d8d8" stroke="#b0b0b0" stroke-width="0.9"/>
<circle cx="368.9" cy="465.35" r="1.65" fill="#d8d8d8" stroke="#b0b0b0" stroke-width="0.9"/>
<circle cx="368.9" cy="472.25" r="1.65" fill="#d8d8d8" stroke="#b0b0b0" stroke-width="0.9"/>
<circle cx="368.9" cy="479.15" r="1.65" fill="#d8d8d8" stroke="#b0b0b0" stroke-width="0.9"/>
<circle cx="368.9" cy="486.05" r="1.65" fill="#d8d8d8" stroke="#b0b0b0" stroke-width="0.9"/>
<circle cx="368.9" cy="492.95" r="1.65" fill="#d8d8d8" stroke="#b0b0b0" stroke-width="0.9"/>
<circle cx="368.9" cy="499.85" r="1.65" fill="#d8d8d8" stroke="#b0b0b0" stroke-width="0.9"/>
<circle cx="368.9" cy="506.75" r="1.65" fill="#d8d8d8" stroke="#b0b0b0" stroke-width="0.9"/>
<circle cx="376.1" cy="403.25" r="1.65" fill="#d8d8d8" stroke="#b0b0b0" stroke-width="0.9"/>
<circle cx="376.1" cy="410.15" r="1.65" fill="#d8d8d8" stroke="#b0b0b0" stroke-width="0.9"/>
<circle cx="376.1" cy="417.05" r="1.65" fill="#d8d8d8" stroke="#b0b0b0" stroke-width="0.9"/>
<circle cx="376.1" cy="423.95" r="1.65" fill="#d8d8d8" stroke="#b0b0b0" stroke-width="0.9"/>
<circle cx="376.1" cy="430.85" r="1.65" fill="#d8d8d8" stroke="#b0b0b0" stroke-width="0.9"/>
<circle cx="376.1" cy="437.75" r="1.65" fill="#d8d8d8" stroke="#b0b0b0" stroke-width="0.9"/>
<circle cx="376.1" cy="444.65" r="1.65" fill="#d8d8d8" stroke="#b0b0b0" stroke-width="0.9"/>
<circle cx="376.1" cy="451.55" r="1.65" fill="#d8d8d8" stroke="#b0b0b0" stroke-width="0.9"/>
<circle cx="376.1" cy="458.45" r="1.65" fill="#d8d8d8" stroke="#b0b0b0" stroke-width="0.9"/>
<circle cx="376.1" cy="465.35" r="1.65" fill="#d8d8d8" stroke="#b0b0b0" stroke-width="0.9"/>
<circle cx="376.1" cy="472.25" r="1.65" fill="#d8d8d8" stroke="#b0b0b0" stroke-width="0.9"/>
<circle cx="376.1" cy="479.15" r="1.65" fill="#d8d8d8" stroke="#b0b0b0" stroke-width="0.9"/>
<circle cx="376.1" cy="486.05" r="1.65" fill="#d8d8d8" stroke="#b0b0b0" stroke-width="0.9"/>
<circle cx="376.1" cy="492.95" r="1.65" fill="#d8d8d8" stroke="#b0b0b0" stroke-width="0.9"/>
<circle cx="376.1" cy="499.85" r="1.65" fill="#d8d8d8" stroke="#b0b0b0" stroke-width="0.9"/>
<circle cx="376.1" cy="506.75" r="1.65" fill="#d8d8d8" stroke="#b0b0b0" stroke-width="0.9"/>
<circle cx="383" cy="403.25" r="1.65" fill="#d8d8d8" stroke="#b0b0b0" stroke-width="0.9"/>
<circle cx="383" cy="410.15" r="1.65" fill="#d8d8d8" stroke="#b0b0b0" stroke-width="0.9"/>
<circle cx="383" cy="417.05" r="1.65" fill="#d8d8d8" stroke="#b0b0b0" stroke-width="0.9"/>
<circle cx="383" cy="423.95" r="1.65" fill="#d8d8d8" stroke="#b0b0b0" stroke-width="0.9"/>
<circle cx="383" cy="430.85" r="1.65" fill="#d8d8d8" stroke="#b0b0b0" stroke-width="0.9"/>
<circle cx="383" cy="437.75" r="1.65" fill="#d8d8d8" stroke="#b0b0b0" stroke-width="0.9"/>
<circle cx="383" cy="444.65" r="1.65" fill="#d8d8d8" stroke="#b0b0b0" stroke-width="0.9"/>
<circle cx="383" cy="451.55" r="1.65" fill="#d8d8d8" stroke="#b0b0b0" stroke-width="0.9"/>
<circle cx="383" cy="458.45" r="1.65" fill="#d8d8d8" stroke="#b0b0b0" stroke-width="0.9"/>
<circle cx="383" cy="465.35" r="1.65" fill="#d8d8d8" stroke="#b0b0b0" stroke-width="0.9"/>
<circle cx="383" cy="472.25" r="1.65" fill="#d8d8d8" stroke="#b0b0b0" stroke-width="0.9"/>
<circle cx="383" cy="479.15" r="1.65" fill="#d8d8d8" stroke="#b0b0b0" stroke-width="0.9"/>
<circle cx="383" cy="486.05" r="1.65" fill="#d8d8d8" stroke="#b0b0b0" stroke-width="0.9"/>
<circle cx="383" cy="492.95" r="1.65" fill="#d8d8d8" stroke="#b0b0b0" stroke-width="0.9"/>
<circle cx="383" cy="499.85" r="1.65" fill="#d8d8d8" stroke="#b0b0b0" stroke-width="0.9"/>
<circle cx="383" cy="506.75" r="1.65" fill="#d8d8d8" stroke="#b0b0b0" stroke-width="0.9"/>
<circle cx="410.6" cy="403.25" r="1.65" fill="#d8d8d8" stroke="#b0b0b0" stroke-width="0.9"/>
<circle cx="410.6" cy="410.15" r="1.65" fill="#d8d8d8" stroke="#b0b0b0" stroke-width="0.9"/>
<circle cx="410.6" cy="417.05" r="1.65" fill="#d8d8d8" stroke="#b0b0b0" stroke-width="0.9"/>
<circle cx="410.6" cy="423.95" r="1.65" fill="#d8d8d8" stroke="#b0b0b0" stroke-width="0.9"/>
<circle cx="410.6" cy="430.85" r="1.65" fill="#d8d8d8" stroke="#b0b0b0" stroke-width="0.9"/>
<circle cx="410.6" cy="437.75" r="1.65" fill="#d8d8d8" stroke="#b0b0b0" stroke-width="0.9"/>
<circle cx="410.6" cy="444.65" r="1.65" fill="#d8d8d8" stroke="#b0b0b0" stroke-width="0.9"/>
<circle cx="410.6" cy="451.55" r="1.65" fill="#d8d8d8" stroke="#b0b0b0" stroke-width="0.9"/>
<circle cx="410.6" cy="458.45" r="1.65" fill="#d8d8d8" stroke="#b0b0b0" stroke-width="0.9"/>
<circle cx="410.6" cy="465.35" r="1.65" fill="#d8d8d8" stroke="#b0b0b0" stroke-width="0.9"/>
<circle cx="410.6" cy="472.25" r="1.65" fill="#d8d8d8" stroke="#b0b0b0" stroke-width="0.9"/>
<circle cx="410.6" cy="479.15" r="1.65" fill="#d8d8d8" stroke="#b0b0b0" stroke-width="0.9"/>
<circle cx="410.6" cy="486.05" r="1.65" fill="#d8d8d8" stroke="#b0b0b0" stroke-width="0.9"/>
<circle cx="410.6" cy="492.95" r="1.65" fill="#d8d8d8" stroke="#b0b0b0" stroke-width="0.9"/>
<circle cx="410.6" cy="499.85" r="1.65" fill="#d8d8d8" stroke="#b0b0b0" stroke-width="0.9"/>
<circle cx="410.6" cy="506.75" r="1.65" fill="#d8d8d8" stroke="#b0b0b0" stroke-width="0.9"/>
<circle cx="417.5" cy="403.25" r="1.65" fill="#d8d8d8" stroke="#b0b0b0" stroke-width="0.9"/>
<circle cx="417.5" cy="410.15" r="1.65" fill="#d8d8d8" stroke="#b0b0b0" stroke-width="0.9"/>
<circle cx="417.5" cy="417.05" r="1.65" fill="#d8d8d8" stroke="#b0b0b0" stroke-width="0.9"/>
<circle cx="417.5" cy="423.95" r="1.65" fill="#d8d8d8" stroke="#b0b0b0" stroke-width="0.9"/>
<circle cx="417.5" cy="430.85" r="1.65" fill="#d8d8d8" stroke="#b0b0b0" stroke-width="0.9"/>
<circle cx="417.5" cy="437.75" r="1.65" fill="#d8d8d8" stroke="#b0b0b0" stroke-width="0.9"/>
<circle cx="417.5" cy="444.65" r="1.65" fill="#d8d8d8" stroke="#b0b0b0" stroke-width="0.9"/>
<circle cx="417.5" cy="451.55" r="1.65" fill="#d8d8d8" stroke="#b0b0b0" stroke-width="0.9"/>
<circle cx="417.5" cy="458.45" r="1.65" fill="#d8d8d8" stroke="#b0b0b0" stroke-width="0.9"/>
<circle cx="417.5" cy="465.35" r="1.65" fill="#d8d8d8" stroke="#b0b0b0" stroke-width="0.9"/>
<circle cx="417.5" cy="472.25" r="1.65" fill="#d8d8d8" stroke="#b0b0b0" stroke-width="0.9"/>
<circle cx="417.5" cy="479.15" r="1.65" fill="#d8d8d8" stroke="#b0b0b0" stroke-width="0.9"/>
<circle cx="417.5" cy="486.05" r="1.65" fill="#d8d8d8" stroke="#b0b0b0" stroke-width="0.9"/>
<circle cx="417.5" cy="492.95" r="1.65" fill="#d8d8d8" stroke="#b0b0b0" stroke-width="0.9"/>
<circle cx="417.5" cy="499.85" r="1.65" fill="#d8d8d8" stroke="#b0b0b0" stroke-width="0.9"/>
<circle cx="417.5" cy="506.75" r="1.65" fill="#d8d8d8" stroke="#b0b0b0" stroke-width="0.9"/>
<circle cx="424.4" cy="403.25" r="1.65" fill="#d8d8d8" stroke="#b0b0b0" stroke-width="0.9"/>
<circle cx="424.4" cy="410.15" r="1.65" fill="#d8d8d8" stroke="#b0b0b0" stroke-width="0.9"/>
<circle cx="424.4" cy="417.05" r="1.65" fill="#d8d8d8" stroke="#b0b0b0" stroke-width="0.9"/>
<circle cx="424.4" cy="423.95" r="1.65" fill="#d8d8d8" stroke="#b0b0b0" stroke-width="0.9"/>
<circle cx="424.4" cy="430.85" r="1.65" fill="#d8d8d8" stroke="#b0b0b0" stroke-width="0.9"/>
<circle cx="424.4" cy="437.75" r="1.65" fill="#d8d8d8" stroke="#b0b0b0" stroke-width="0.9"/>
<circle cx="424.4" cy="444.65" r="1.65" fill="#d8d8d8" stroke="#b0b0b0" stroke-width="0.9"/>
<circle cx="424.4" cy="451.55" r="1.65" fill="#d8d8d8" stroke="#b0b0b0" stroke-width="0.9"/>
<circle cx="424.4" cy="458.45" r="1.65" fill="#d8d8d8" stroke="#b0b0b0" stroke-width="0.9"/>
<circle cx="424.4" cy="465.35" r="1.65" fill="#d8d8d8" stroke="#b0b0b0" stroke-width="0.9"/>
<circle cx="424.4" cy="472.25" r="1.65" fill="#d8d8d8" stroke="#b0b0b0" stroke-width="0.9"/>
<circle cx="424.4" cy="479.15" r="1.65" fill="#d8d8d8" stroke="#b0b0b0" stroke-width="0.9"/>
<circle cx="424.4" cy="486.05" r="1.65" fill="#d8d8d8" stroke="#b0b0b0" stroke-width="0.9"/>
<circle cx="424.4" cy="492.95" r="1.65" fill="#d8d8d8" stroke="#b0b0b0" stroke-width="0.9"/>
<circle cx="424.4" cy="499.85" r="1.65" fill="#d8d8d8" stroke="#b0b0b0" stroke-width="0.9"/>
<circle cx="424.4" cy="506.75" r="1.65" fill="#d8d8d8" stroke="#b0b0b0" stroke-width="0.9"/>
<rect x="317.7" y="435.2" width="4.1" height="3.6" fill="none" stroke="#2b2b2b" stroke-width="1.4"/>
<rect x="317.7" y="443.7" width="4.1" height="4.35" fill="none" stroke="#2b2b2b" stroke-width="1.4"/>
<rect x="317.7" y="453.95" width="4.1" height="4.1" fill="none" stroke="#2b2b2b" stroke-width="1.4"/>
<rect x="317.7" y="461.95" width="4.1" height="4.35" fill="none" stroke="#2b2b2b" stroke-width="1.4"/>
<rect x="317.7" y="471.2" width="4.1" height="5.1" fill="none" stroke="#2b2b2b" stroke-width="1.4"/>
<rect x="317.7" y="480.7" width="4.1" height="4.85" fill="none" stroke="#2b2b2b" stroke-width="1.4"/>
<rect x="317.7" y="491.2" width="4.1" height="4.35" fill="none" stroke="#2b2b2b" stroke-width="1.4"/>
<rect x="317.7" y="499.45" width="4.1" height="4.35" fill="none" stroke="#2b2b2b" stroke-width="1.4"/>
<rect x="317.7" y="509.45" width="4.1" height="4.35" fill="none" stroke="#2b2b2b" stroke-width="1.4"/>
<rect x="317.7" y="516.95" width="4.1" height="4.35" fill="none" stroke="#2b2b2b" stroke-width="1.4"/>
<rect x="338.7" y="450.7" width="5.1" height="4.35" fill="none" stroke="#2b2b2b" stroke-width="1.4"/>
<rect x="338.7" y="458.2" width="5.1" height="4.1" fill="none" stroke="#2b2b2b" stroke-width="1.4"/>
<rect x="338.7" y="469.45" width="5.1" height="4.35" fill="none" stroke="#2b2b2b" stroke-width="1.4"/>
<rect x="338.7" y="476.95" width="5.1" height="5.35" fill="none" stroke="#2b2b2b" stroke-width="1.4"/>
<rect x="338.7" y="490.7" width="5.1" height="4.1" fill="none" stroke="#2b2b2b" stroke-width="1.4"/>
<rect x="338.7" y="498.2" width="5.1" height="4.1" fill="none" stroke="#2b2b2b" stroke-width="1.4"/>
<rect x="338.7" y="509.45" width="5.1" height="4.35" fill="none" stroke="#2b2b2b" stroke-width="1.4"/>
<rect x="338.7" y="516.95" width="5.1" height="4.35" fill="none" stroke="#2b2b2b" stroke-width="1.4"/>
<rect x="331.95" y="385.7" width="4.85" height="3.6" fill="none" stroke="#2b2b2b" stroke-width="1.4"/>
<rect x="340.2" y="385.7" width="6.1" height="3.6" fill="none" stroke="#2b2b2b" stroke-width="1.4"/>
<rect x="322.7" y="395.7" width="4.6" height="3.6" fill="none" stroke="#2b2b2b" stroke-width="1.4"/>
<rect x="330.7" y="395.7" width="5.35" height="3.6" fill="none" stroke="#2b2b2b" stroke-width="1.4"/>
<rect x="343.7" y="394.45" width="5.1" height="4.85" fill="none" stroke="#2b2b2b" stroke-width="1.4"/>
<rect x="343.7" y="404.45" width="5.1" height="3.6" fill="none" stroke="#2b2b2b" stroke-width="1.4"/>
<rect x="443.1" y="394.7" width="4.2" height="3.2" fill="none" stroke="#2b2b2b" stroke-width="1.4"/>
<rect x="443.1" y="402.2" width="4.2" height="2.5" fill="none" stroke="#2b2b2b" stroke-width="1.4"/>
<rect x="456.6" y="390.3" width="3.1" height="4.7" fill="none" stroke="#2b2b2b" stroke-width="1.4"/>
<rect x="456.6" y="398.7" width="3.1" height="4.85" fill="none" stroke="#2b2b2b" stroke-width="1.4"/>
<rect x="464.9" y="390.3" width="3.8" height="4.7" fill="none" stroke="#2b2b2b" stroke-width="1.4"/>
<rect x="464.9" y="398.7" width="3.8" height="4.85" fill="none" stroke="#2b2b2b" stroke-width="1.4"/>
<rect x="474.6" y="391.45" width="6.9" height="4.85" fill="none" stroke="#2b2b2b" stroke-width="1.4"/>
<rect x="474.6" y="403.8" width="6.9" height="5.4" fill="none" stroke="#2b2b2b" stroke-width="1.4"/>
<rect x="486.5" y="390.3" width="3.55" height="4.7" fill="none" stroke="#2b2b2b" stroke-width="1.4"/>
<rect x="486.5" y="398.7" width="3.55" height="4.85" fill="none" stroke="#2b2b2b" stroke-width="1.4"/>
<rect x="494.8" y="390.3" width="3.8" height="4.7" fill="none" stroke="#2b2b2b" stroke-width="1.4"/>
<rect x="494.8" y="398.7" width="3.8" height="4.85" fill="none" stroke="#2b2b2b" stroke-width="1.4"/>
<rect x="503.2" y="390.3" width="3.7" height="4.7" fill="none" stroke="#2b2b2b" stroke-width="1.4"/>
<rect x="503.2" y="398.7" width="3.7" height="4.85" fill="none" stroke="#2b2b2b" stroke-width="1.4"/>
<rect x="522.5" y="390.3" width="5.8" height="6" fill="none" stroke="#2b2b2b" stroke-width="1.4"/>
<rect x="522.5" y="402.7" width="5.8" height="6.5" fill="none" stroke="#2b2b2b" stroke-width="1.4"/>
<rect x="537.6" y="390.3" width="3.5" height="4.7" fill="none" stroke="#2b2b2b" stroke-width="1.4"/>
<rect x="537.6" y="398.7" width="3.5" height="4.85" fill="none" stroke="#2b2b2b" stroke-width="1.4"/>
<rect x="546.1" y="390.3" width="4" height="4.7" fill="none" stroke="#2b2b2b" stroke-width="1.4"/>
<rect x="546.1" y="398.7" width="4" height="4.85" fill="none" stroke="#2b2b2b" stroke-width="1.4"/>
<rect x="554.45" y="391.45" width="9.45" height="10.35" fill="none" stroke="#2b2b2b" stroke-width="1.4"/>
<rect x="570.2" y="391.45" width="9.4" height="10.35" fill="none" stroke="#2b2b2b" stroke-width="1.4"/>
<rect x="584.8" y="390.3" width="3.8" height="4.7" fill="none" stroke="#2b2b2b" stroke-width="1.4"/>
<rect x="584.8" y="398.7" width="3.8" height="4.85" fill="none" stroke="#2b2b2b" stroke-width="1.4"/>
<rect x="594.5" y="391.45" width="5.4" height="6.45" fill="none" stroke="#2b2b2b" stroke-width="1.4"/>
<rect x="594.5" y="405.7" width="5.4" height="4.85" fill="none" stroke="#2b2b2b" stroke-width="1.4"/>
<rect x="594.5" y="416.95" width="5.4" height="6.75" fill="none" stroke="#2b2b2b" stroke-width="1.4"/>
<rect x="594.5" y="430.1" width="5.4" height="6.1" fill="none" stroke="#2b2b2b" stroke-width="1.4"/>
<rect x="444.7" y="421.8" width="3.7" height="3.1" fill="none" stroke="#2b2b2b" stroke-width="1.4"/>
<rect x="444.7" y="428.6" width="3.7" height="3.1" fill="none" stroke="#2b2b2b" stroke-width="1.4"/>
<rect x="444.7" y="439.8" width="3.7" height="3.1" fill="none" stroke="#2b2b2b" stroke-width="1.4"/>
<rect x="444.7" y="447.3" width="3.7" height="3" fill="none" stroke="#2b2b2b" stroke-width="1.4"/>
<rect x="456.6" y="433.1" width="8.7" height="9.8" fill="none" stroke="#2b2b2b" stroke-width="1.4"/>
<rect x="472.3" y="433.1" width="9.2" height="9.8" fill="none" stroke="#2b2b2b" stroke-width="1.4"/>
<rect x="466.2" y="451.7" width="10.8" height="11.6" fill="none" stroke="#2b2b2b" stroke-width="1.4"/>
<rect x="444.7" y="458.6" width="3.7" height="3.1" fill="none" stroke="#2b2b2b" stroke-width="1.4"/>
<rect x="453.2" y="458.6" width="4.2" height="3.1" fill="none" stroke="#2b2b2b" stroke-width="1.4"/>
<rect x="509.9" y="436.9" width="21.1" height="12.1" fill="none" stroke="#2b2b2b" stroke-width="1.4"/>
<rect x="509.9" y="469.8" width="21.1" height="12.1" fill="none" stroke="#2b2b2b" stroke-width="1.4"/>
<rect x="558.95" y="418.45" width="9.35" height="10.95" fill="none" stroke="#2b2b2b" stroke-width="1.4"/>
<rect x="572.9" y="418.45" width="9.9" height="10.95" fill="none" stroke="#2b2b2b" stroke-width="1.4"/>
<rect x="560.7" y="435.3" width="4.7" height="9.9" fill="none" stroke="#2b2b2b" stroke-width="1.4"/>
<rect x="575.8" y="435.3" width="5.4" height="9.9" fill="none" stroke="#2b2b2b" stroke-width="1.4"/>
<rect x="560.7" y="458.6" width="4.7" height="8.7" fill="none" stroke="#2b2b2b" stroke-width="1.4"/>
<rect x="568.7" y="458.6" width="4.6" height="8.7" fill="none" stroke="#2b2b2b" stroke-width="1.4"/>
<rect x="575.8" y="458.6" width="5.8" height="8.7" fill="none" stroke="#2b2b2b" stroke-width="1.4"/>
<rect x="560.7" y="475.9" width="7.6" height="6" fill="none" stroke="#2b2b2b" stroke-width="1.4"/>
<rect x="572.9" y="475.9" width="8.7" height="6" fill="none" stroke="#2b2b2b" stroke-width="1.4"/>
<rect x="557.8" y="488.95" width="9.2" height="10.35" fill="none" stroke="#2b2b2b" stroke-width="1.4"/>
<rect x="572.9" y="488.95" width="9.9" height="10.35" fill="none" stroke="#2b2b2b" stroke-width="1.4"/>
<rect x="610.1" y="413.8" width="11.1" height="12.75" fill="none" stroke="#2b2b2b" stroke-width="1.4"/>
<rect x="610.1" y="433.8" width="11.1" height="12.4" fill="none" stroke="#2b2b2b" stroke-width="1.4"/>
<rect x="625.7" y="413.8" width="11.1" height="12.75" fill="none" stroke="#2b2b2b" stroke-width="1.4"/>
<rect x="625.7" y="433.8" width="11.1" height="12.4" fill="none" stroke="#2b2b2b" stroke-width="1.4"/>
<rect x="611.3" y="455.7" width="8.6" height="6.7" fill="none" stroke="#2b2b2b" stroke-width="1.4"/>
<rect x="625.7" y="455.7" width="6.7" height="6.7" fill="none" stroke="#2b2b2b" stroke-width="1.4"/>
<rect x="443.1" y="469.8" width="6" height="3.1" fill="none" stroke="#2b2b2b" stroke-width="1.4"/>
<rect x="453.2" y="469.8" width="4.2" height="3.1" fill="none" stroke="#2b2b2b" stroke-width="1.4"/>
<rect x="443.1" y="479.5" width="6" height="3.55" fill="none" stroke="#2b2b2b" stroke-width="1.4"/>
<rect x="453.2" y="479.5" width="4.2" height="3.55" fill="none" stroke="#2b2b2b" stroke-width="1.4"/>
<rect x="444.7" y="490.1" width="4.4" height="3.1" fill="none" stroke="#2b2b2b" stroke-width="1.4"/>
<rect x="453.2" y="490.1" width="3.1" height="3.1" fill="none" stroke="#2b2b2b" stroke-width="1.4"/>
<rect x="444.7" y="500.2" width="4.4" height="3.1" fill="none" stroke="#2b2b2b" stroke-width="1.4"/>
<rect x="453.2" y="500.2" width="3.1" height="3.1" fill="none" stroke="#2b2b2b" stroke-width="1.4"/>
<rect x="444.7" y="511" width="4.4" height="3.55" fill="none" stroke="#2b2b2b" stroke-width="1.4"/>
<rect x="453.2" y="511" width="3.1" height="3.55" fill="none" stroke="#2b2b2b" stroke-width="1.4"/>
<rect x="443.1" y="520.45" width="6" height="4.25" fill="none" stroke="#2b2b2b" stroke-width="1.4"/>
<rect x="452.7" y="520.45" width="4.7" height="4.25" fill="none" stroke="#2b2b2b" stroke-width="1.4"/>
<rect x="466.2" y="471.4" width="10.8" height="11.65" fill="none" stroke="#2b2b2b" stroke-width="1.4"/>
<rect x="464.9" y="493.9" width="8.95" height="9.4" fill="none" stroke="#2b2b2b" stroke-width="1.4"/>
<rect x="464.9" y="509.7" width="8.95" height="9.8" fill="none" stroke="#2b2b2b" stroke-width="1.4"/>
<rect x="493.5" y="489.7" width="6.4" height="6.8" fill="none" stroke="#2b2b2b" stroke-width="1.4"/>
<rect x="493.5" y="502.6" width="6.4" height="7.95" fill="none" stroke="#2b2b2b" stroke-width="1.4"/>
<rect x="497.7" y="521.6" width="12.15" height="10.5" fill="none" stroke="#2b2b2b" stroke-width="1.4"/>
<rect x="517.3" y="521.6" width="12.8" height="10.5" fill="none" stroke="#2b2b2b" stroke-width="1.4"/>
<rect x="508.1" y="493.4" width="22.9" height="2" fill="#111"/>
<rect x="508.1" y="505" width="22.9" height="2" fill="#111"/>
<rect x="508.85" y="498.05" width="5" height="3.5" fill="none" stroke="#1a1a1a" stroke-width="1.5"/>
<rect x="508.85" y="502.75" width="5" height="3.5" fill="none" stroke="#1a1a1a" stroke-width="1.5"/>
<rect x="524.4" y="498.6" width="6.6" height="2.8" fill="#111"/>
<rect x="525.15" y="503.05" width="5.1" height="3.2" fill="none" stroke="#1a1a1a" stroke-width="1.5"/>
<line x1="514.6" y1="493.4" x2="514.6" y2="507" stroke="#111" stroke-width="1.4" stroke-linecap="butt"/>
<line x1="524.4" y1="493.4" x2="524.4" y2="507" stroke="#111" stroke-width="1.4" stroke-linecap="butt"/>
</svg></div>
</body></html>
